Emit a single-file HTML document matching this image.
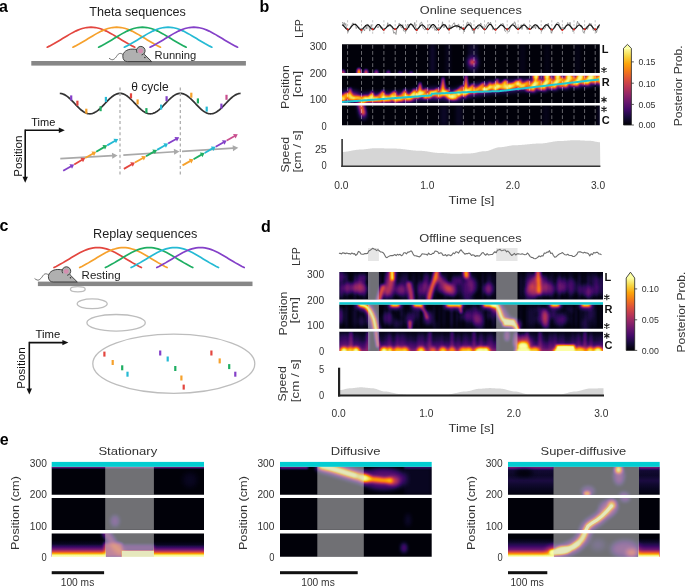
<!DOCTYPE html>
<html><head><meta charset="utf-8"><title>Theta and replay sequences</title>
<style>html,body{margin:0;padding:0;background:#fff;width:685px;height:586px;overflow:hidden}svg{display:block;will-change:transform}text{font-family:"Liberation Sans",sans-serif}</style>
</head><body>
<svg width="685" height="586" viewBox="0 0 685 586" font-family="Liberation Sans, sans-serif"><defs><linearGradient id="inf" x1="0" y1="1" x2="0" y2="0"><stop offset="0.0" stop-color="#000004"/><stop offset="0.1" stop-color="#160b39"/><stop offset="0.2" stop-color="#420a68"/><stop offset="0.3" stop-color="#6a176e"/><stop offset="0.4" stop-color="#932667"/><stop offset="0.5" stop-color="#bc3754"/><stop offset="0.6" stop-color="#dd513a"/><stop offset="0.7" stop-color="#f37819"/><stop offset="0.8" stop-color="#fca50a"/><stop offset="0.9" stop-color="#f6d746"/><stop offset="1.0" stop-color="#fcffa4"/></linearGradient><filter id="cmap" color-interpolation-filters="sRGB" x="0" y="0" width="1" height="1"><feComponentTransfer><feFuncR type="table" tableValues="0.001 0.014 0.042 0.082 0.129 0.183 0.238 0.291 0.342 0.391 0.441 0.491 0.541 0.591 0.640 0.689 0.736 0.781 0.822 0.861 0.894 0.923 0.947 0.965 0.978 0.986 0.988 0.984 0.975 0.961 0.948 0.955 0.988"/><feFuncG type="table" tableValues="0.000 0.011 0.028 0.043 0.047 0.040 0.037 0.046 0.062 0.081 0.099 0.117 0.135 0.153 0.171 0.192 0.216 0.243 0.275 0.312 0.353 0.399 0.449 0.502 0.558 0.616 0.675 0.736 0.798 0.859 0.917 0.966 0.998"/><feFuncB type="table" tableValues="0.014 0.072 0.141 0.215 0.291 0.355 0.396 0.419 0.429 0.433 0.432 0.426 0.415 0.400 0.381 0.358 0.330 0.300 0.266 0.231 0.194 0.155 0.115 0.074 0.035 0.026 0.065 0.130 0.206 0.298 0.411 0.540 0.645"/></feComponentTransfer></filter><clipPath id="c1"><rect x="342.00" y="44.20" width="257.80" height="28.90"/></clipPath><filter id="b2_00" color-interpolation-filters="sRGB" filterUnits="userSpaceOnUse" x="0" y="0" width="685" height="586"><feGaussianBlur stdDeviation="2.00"/></filter><filter id="b1_80" color-interpolation-filters="sRGB" filterUnits="userSpaceOnUse" x="0" y="0" width="685" height="586"><feGaussianBlur stdDeviation="1.80"/></filter><filter id="b2_50" color-interpolation-filters="sRGB" filterUnits="userSpaceOnUse" x="0" y="0" width="685" height="586"><feGaussianBlur stdDeviation="2.50"/></filter><filter id="b1_20" color-interpolation-filters="sRGB" filterUnits="userSpaceOnUse" x="0" y="0" width="685" height="586"><feGaussianBlur stdDeviation="1.20"/></filter><clipPath id="c2"><rect x="342.00" y="75.80" width="257.80" height="27.20"/></clipPath><filter id="b2_80" color-interpolation-filters="sRGB" filterUnits="userSpaceOnUse" x="0" y="0" width="685" height="586"><feGaussianBlur stdDeviation="2.80"/></filter><filter id="b1_60" color-interpolation-filters="sRGB" filterUnits="userSpaceOnUse" x="0" y="0" width="685" height="586"><feGaussianBlur stdDeviation="1.60"/></filter><filter id="b0_90" color-interpolation-filters="sRGB" filterUnits="userSpaceOnUse" x="0" y="0" width="685" height="586"><feGaussianBlur stdDeviation="0.90"/></filter><filter id="b1_00" color-interpolation-filters="sRGB" filterUnits="userSpaceOnUse" x="0" y="0" width="685" height="586"><feGaussianBlur stdDeviation="1.00"/></filter><filter id="b1_10" color-interpolation-filters="sRGB" filterUnits="userSpaceOnUse" x="0" y="0" width="685" height="586"><feGaussianBlur stdDeviation="1.10"/></filter><clipPath id="c3"><rect x="342.00" y="105.50" width="257.80" height="19.70"/></clipPath><filter id="b1_40" color-interpolation-filters="sRGB" filterUnits="userSpaceOnUse" x="0" y="0" width="685" height="586"><feGaussianBlur stdDeviation="1.40"/></filter><clipPath id="c4"><rect x="339.30" y="271.90" width="263.70" height="27.70"/></clipPath><filter id="b0_90x3_00" color-interpolation-filters="sRGB" filterUnits="userSpaceOnUse" x="0" y="0" width="685" height="586"><feGaussianBlur stdDeviation="0.90 3.00"/></filter><filter id="b2_20" color-interpolation-filters="sRGB" filterUnits="userSpaceOnUse" x="0" y="0" width="685" height="586"><feGaussianBlur stdDeviation="2.20"/></filter><filter id="b1_50" color-interpolation-filters="sRGB" filterUnits="userSpaceOnUse" x="0" y="0" width="685" height="586"><feGaussianBlur stdDeviation="1.50"/></filter><clipPath id="c5"><rect x="339.30" y="304.50" width="263.70" height="24.20"/></clipPath><clipPath id="c6"><rect x="339.30" y="331.80" width="263.70" height="19.20"/></clipPath><linearGradient id="gd3" x1="0" y1="0" x2="0" y2="1"><stop offset="0" stop-color="#fff" stop-opacity="0.0"/><stop offset="0.45" stop-color="#fff" stop-opacity="0.07"/><stop offset="0.8" stop-color="#fff" stop-opacity="0.22"/><stop offset="1" stop-color="#fff" stop-opacity="0.4"/></linearGradient><linearGradient id="gd3b" x1="0" y1="0" x2="0" y2="1"><stop offset="0" stop-color="#fff" stop-opacity="0.0"/><stop offset="0.45" stop-color="#fff" stop-opacity="0.07"/><stop offset="0.8" stop-color="#fff" stop-opacity="0.22"/><stop offset="1" stop-color="#fff" stop-opacity="0.4"/></linearGradient><linearGradient id="gd3c" x1="0" y1="0" x2="0" y2="1"><stop offset="0" stop-color="#fff" stop-opacity="0.0"/><stop offset="0.45" stop-color="#fff" stop-opacity="0.07"/><stop offset="0.8" stop-color="#fff" stop-opacity="0.22"/><stop offset="1" stop-color="#fff" stop-opacity="0.4"/></linearGradient><filter id="b0_80" color-interpolation-filters="sRGB" filterUnits="userSpaceOnUse" x="0" y="0" width="685" height="586"><feGaussianBlur stdDeviation="0.80"/></filter><filter id="b1_30" color-interpolation-filters="sRGB" filterUnits="userSpaceOnUse" x="0" y="0" width="685" height="586"><feGaussianBlur stdDeviation="1.30"/></filter><clipPath id="c7"><rect x="51.70" y="466.80" width="152.30" height="27.90"/></clipPath><filter id="b0_70" color-interpolation-filters="sRGB" filterUnits="userSpaceOnUse" x="0" y="0" width="685" height="586"><feGaussianBlur stdDeviation="0.70"/></filter><filter id="b3_00" color-interpolation-filters="sRGB" filterUnits="userSpaceOnUse" x="0" y="0" width="685" height="586"><feGaussianBlur stdDeviation="3.00"/></filter><clipPath id="c8"><rect x="51.70" y="498.00" width="152.30" height="31.90"/></clipPath><clipPath id="c9"><rect x="51.70" y="533.40" width="152.30" height="23.40"/></clipPath><linearGradient id="fe1a" x1="0" y1="0" x2="0" y2="1"><stop offset="0" stop-color="#fff" stop-opacity="0.0"/><stop offset="0.23" stop-color="#fff" stop-opacity="0.05"/><stop offset="0.4" stop-color="#fff" stop-opacity="0.18"/><stop offset="0.54" stop-color="#fff" stop-opacity="0.33"/><stop offset="0.66" stop-color="#fff" stop-opacity="0.55"/><stop offset="0.75" stop-color="#fff" stop-opacity="0.75"/><stop offset="0.83" stop-color="#fff" stop-opacity="0.92"/><stop offset="0.89" stop-color="#fff" stop-opacity="1.0"/><stop offset="1" stop-color="#fff" stop-opacity="1.0"/></linearGradient><linearGradient id="fe1b" x1="0" y1="0" x2="0" y2="1"><stop offset="0" stop-color="#fff" stop-opacity="0.0"/><stop offset="0.23" stop-color="#fff" stop-opacity="0.05"/><stop offset="0.4" stop-color="#fff" stop-opacity="0.18"/><stop offset="0.54" stop-color="#fff" stop-opacity="0.33"/><stop offset="0.66" stop-color="#fff" stop-opacity="0.55"/><stop offset="0.75" stop-color="#fff" stop-opacity="0.75"/><stop offset="0.83" stop-color="#fff" stop-opacity="0.92"/><stop offset="0.89" stop-color="#fff" stop-opacity="1.0"/><stop offset="1" stop-color="#fff" stop-opacity="1.0"/></linearGradient><filter id="b0_40" color-interpolation-filters="sRGB" filterUnits="userSpaceOnUse" x="0" y="0" width="685" height="586"><feGaussianBlur stdDeviation="0.40"/></filter><clipPath id="c10"><rect x="280.00" y="466.80" width="151.70" height="27.90"/></clipPath><filter id="b2_60" color-interpolation-filters="sRGB" filterUnits="userSpaceOnUse" x="0" y="0" width="685" height="586"><feGaussianBlur stdDeviation="2.60"/></filter><filter id="b1_70" color-interpolation-filters="sRGB" filterUnits="userSpaceOnUse" x="0" y="0" width="685" height="586"><feGaussianBlur stdDeviation="1.70"/></filter><clipPath id="c11"><rect x="280.00" y="498.00" width="151.70" height="31.90"/></clipPath><clipPath id="c12"><rect x="280.00" y="533.40" width="151.70" height="23.40"/></clipPath><clipPath id="c13"><rect x="508.00" y="466.80" width="151.70" height="27.90"/></clipPath><linearGradient id="ge3b1" x1="0" y1="0" x2="0" y2="1"><stop offset="0" stop-color="#fff" stop-opacity="0.14"/><stop offset="0.12" stop-color="#fff" stop-opacity="0.08"/><stop offset="0.3" stop-color="#fff" stop-opacity="0.06"/><stop offset="0.5" stop-color="#fff" stop-opacity="0.1"/><stop offset="0.7" stop-color="#fff" stop-opacity="0.06"/><stop offset="1" stop-color="#fff" stop-opacity="0.015"/></linearGradient><linearGradient id="ge3b1r" x1="0" y1="0" x2="0" y2="1"><stop offset="0" stop-color="#fff" stop-opacity="0.14"/><stop offset="0.12" stop-color="#fff" stop-opacity="0.08"/><stop offset="0.3" stop-color="#fff" stop-opacity="0.06"/><stop offset="0.5" stop-color="#fff" stop-opacity="0.1"/><stop offset="0.7" stop-color="#fff" stop-opacity="0.06"/><stop offset="1" stop-color="#fff" stop-opacity="0.015"/></linearGradient><clipPath id="c14"><rect x="508.00" y="498.00" width="151.70" height="31.90"/></clipPath><filter id="b0_60" color-interpolation-filters="sRGB" filterUnits="userSpaceOnUse" x="0" y="0" width="685" height="586"><feGaussianBlur stdDeviation="0.60"/></filter><clipPath id="c15"><rect x="508.00" y="533.40" width="151.70" height="23.40"/></clipPath><linearGradient id="fe3a" x1="0" y1="0" x2="0" y2="1"><stop offset="0" stop-color="#fff" stop-opacity="0.0"/><stop offset="0.2" stop-color="#fff" stop-opacity="0.06"/><stop offset="0.41" stop-color="#fff" stop-opacity="0.16"/><stop offset="0.59" stop-color="#fff" stop-opacity="0.3"/><stop offset="0.69" stop-color="#fff" stop-opacity="0.5"/><stop offset="0.79" stop-color="#fff" stop-opacity="0.72"/><stop offset="0.87" stop-color="#fff" stop-opacity="0.9"/><stop offset="0.92" stop-color="#fff" stop-opacity="1.0"/><stop offset="1" stop-color="#fff" stop-opacity="1.0"/></linearGradient><linearGradient id="fe3b" x1="0" y1="0" x2="0" y2="1"><stop offset="0" stop-color="#fff" stop-opacity="0.0"/><stop offset="0.2" stop-color="#fff" stop-opacity="0.06"/><stop offset="0.41" stop-color="#fff" stop-opacity="0.16"/><stop offset="0.59" stop-color="#fff" stop-opacity="0.3"/><stop offset="0.69" stop-color="#fff" stop-opacity="0.5"/><stop offset="0.79" stop-color="#fff" stop-opacity="0.72"/><stop offset="0.87" stop-color="#fff" stop-opacity="0.9"/><stop offset="0.92" stop-color="#fff" stop-opacity="1.0"/><stop offset="1" stop-color="#fff" stop-opacity="1.0"/></linearGradient></defs><rect width="685" height="586" fill="#fff"/><text x="-1.00" y="11.80" font-size="16" fill="#000" text-anchor="start" font-weight="bold" >a</text>
<text x="259.60" y="11.80" font-size="16" fill="#000" text-anchor="start" font-weight="bold" >b</text>
<text x="-0.50" y="231.40" font-size="16" fill="#000" text-anchor="start" font-weight="bold" >c</text>
<text x="261.10" y="231.60" font-size="16" fill="#000" text-anchor="start" font-weight="bold" >d</text>
<text x="-0.20" y="444.80" font-size="16" fill="#000" text-anchor="start" font-weight="bold" >e</text>
<text x="89.20" y="16.10" font-size="12.6" fill="#1e1e1e" text-anchor="start" >Theta sequences</text>
<polyline points="47.20,47.20 49.39,46.13 51.58,44.99 53.77,43.80 55.96,42.54 58.15,41.25 60.34,39.93 62.53,38.59 64.72,37.24 66.91,35.92 69.10,34.62 71.29,33.38 73.48,32.20 75.67,31.11 77.86,30.13 80.05,29.27 82.24,28.54 84.43,27.96 86.62,27.54 88.81,27.29 91.00,27.20 93.19,27.29 95.38,27.54 97.57,27.96 99.76,28.54 101.95,29.27 104.14,30.13 106.33,31.11 108.52,32.20 110.71,33.38 112.90,34.62 115.09,35.92 117.28,37.24 119.47,38.59 121.66,39.93 123.85,41.25 126.04,42.54 128.23,43.80 130.42,44.99 132.61,46.13 134.80,47.20" fill="none" stroke="#e3463f" stroke-width="1.7" stroke-linecap="round"/>
<polyline points="72.90,47.20 75.09,46.13 77.28,44.99 79.47,43.80 81.66,42.54 83.85,41.25 86.04,39.93 88.23,38.59 90.42,37.24 92.61,35.92 94.80,34.62 96.99,33.38 99.18,32.20 101.37,31.11 103.56,30.13 105.75,29.27 107.94,28.54 110.13,27.96 112.32,27.54 114.51,27.29 116.70,27.20 118.89,27.29 121.08,27.54 123.27,27.96 125.46,28.54 127.65,29.27 129.84,30.13 132.03,31.11 134.22,32.20 136.41,33.38 138.60,34.62 140.79,35.92 142.98,37.24 145.17,38.59 147.36,39.93 149.55,41.25 151.74,42.54 153.93,43.80 156.12,44.99 158.31,46.13 160.50,47.20" fill="none" stroke="#f6a12c" stroke-width="1.7" stroke-linecap="round"/>
<polyline points="98.60,47.20 100.79,46.13 102.98,44.99 105.17,43.80 107.36,42.54 109.55,41.25 111.74,39.93 113.93,38.59 116.12,37.24 118.31,35.92 120.50,34.62 122.69,33.38 124.88,32.20 127.07,31.11 129.26,30.13 131.45,29.27 133.64,28.54 135.83,27.96 138.02,27.54 140.21,27.29 142.40,27.20 144.59,27.29 146.78,27.54 148.97,27.96 151.16,28.54 153.35,29.27 155.54,30.13 157.73,31.11 159.92,32.20 162.11,33.38 164.30,34.62 166.49,35.92 168.68,37.24 170.87,38.59 173.06,39.93 175.25,41.25 177.44,42.54 179.63,43.80 181.82,44.99 184.01,46.13 186.20,47.20" fill="none" stroke="#1eae62" stroke-width="1.7" stroke-linecap="round"/>
<polyline points="124.30,47.20 126.49,46.13 128.68,44.99 130.87,43.80 133.06,42.54 135.25,41.25 137.44,39.93 139.63,38.59 141.82,37.24 144.01,35.92 146.20,34.62 148.39,33.38 150.58,32.20 152.77,31.11 154.96,30.13 157.15,29.27 159.34,28.54 161.53,27.96 163.72,27.54 165.91,27.29 168.10,27.20 170.29,27.29 172.48,27.54 174.67,27.96 176.86,28.54 179.05,29.27 181.24,30.13 183.43,31.11 185.62,32.20 187.81,33.38 190.00,34.62 192.19,35.92 194.38,37.24 196.57,38.59 198.76,39.93 200.95,41.25 203.14,42.54 205.33,43.80 207.52,44.99 209.71,46.13 211.90,47.20" fill="none" stroke="#25bad4" stroke-width="1.7" stroke-linecap="round"/>
<polyline points="150.00,47.20 152.19,46.13 154.38,44.99 156.57,43.80 158.76,42.54 160.95,41.25 163.14,39.93 165.33,38.59 167.52,37.24 169.71,35.92 171.90,34.62 174.09,33.38 176.28,32.20 178.47,31.11 180.66,30.13 182.85,29.27 185.04,28.54 187.23,27.96 189.42,27.54 191.61,27.29 193.80,27.20 195.99,27.29 198.18,27.54 200.37,27.96 202.56,28.54 204.75,29.27 206.94,30.13 209.13,31.11 211.32,32.20 213.51,33.38 215.70,34.62 217.89,35.92 220.08,37.24 222.27,38.59 224.46,39.93 226.65,41.25 228.84,42.54 231.03,43.80 233.22,44.99 235.41,46.13 237.60,47.20" fill="none" stroke="#8440c8" stroke-width="1.7" stroke-linecap="round"/>
<rect x="31.3" y="61.0" width="214.6" height="4.6" fill="#878787"/>
<g transform="translate(0.00 0.00)">
<path d="M122.9,54.4 C120.2,52.6 118.6,53.4 117.1,55.6 C115.6,57.9 113.6,60.3 111.5,59.6 C110.5,59.3 109.7,58.7 109.0,58.1" fill="none" stroke="#444" stroke-width="0.75"/>
<path d="M151.7,61.6 L144.6,54.6 C143.2,51.2 139.2,49.1 132.2,49.1 C126.6,49.1 122.8,52.4 122.8,56.2 C122.8,59.7 124.6,61.6 127.6,61.6 Z" fill="#b0b0b0" stroke="#333" stroke-width="0.9" stroke-linejoin="round"/>
<circle cx="140.8" cy="50.7" r="4.3" fill="#b0b0b0"/>
<path d="M137.08,52.85 A4.3,4.3 0 1 1 141.55,54.93" fill="none" stroke="#333" stroke-width="0.9"/>
<circle cx="140.6" cy="51.0" r="2.45" fill="#d48fb0"/>
<circle cx="144.9" cy="57.4" r="0.75" fill="#333"/>
</g>
<text x="154.60" y="58.60" font-size="11.2" fill="#1e1e1e" text-anchor="start" >Running</text>
<polyline points="59.80,93.40 60.80,93.48 61.81,93.67 62.81,93.96 63.82,94.37 64.82,94.87 65.83,95.47 66.83,96.15 67.84,96.92 68.84,97.76 69.84,98.66 70.85,99.62 71.85,100.62 72.86,101.66 73.86,102.71 74.87,103.78 75.87,104.84 76.88,105.89 77.88,106.91 78.88,107.90 79.89,108.84 80.89,109.73 81.90,110.54 82.90,111.28 83.91,111.94 84.91,112.51 85.92,112.98 86.92,113.35 87.92,113.61 88.93,113.76 89.93,113.80 90.94,113.73 91.94,113.55 92.95,113.26 93.95,112.86 94.96,112.37 95.96,111.78 96.96,111.10 97.97,110.33 98.97,109.50 99.98,108.60 100.98,107.64 101.99,106.64 102.99,105.61 104.00,104.56 105.00,103.49 106.00,102.43 107.01,101.38 108.01,100.35 109.02,99.36 110.02,98.42 111.03,97.53 112.03,96.71 113.04,95.96 114.04,95.30 115.04,94.73 116.05,94.25 117.05,93.88 118.06,93.61 119.06,93.45 120.07,93.40 121.07,93.46 122.08,93.64 123.08,93.92 124.08,94.31 125.09,94.80 126.09,95.38 127.10,96.06 128.10,96.81 129.11,97.64 130.11,98.54 131.12,99.49 132.12,100.49 133.12,101.52 134.13,102.57 135.13,103.64 136.14,104.70 137.14,105.75 138.15,106.78 139.15,107.77 140.16,108.72 141.16,109.61 142.16,110.44 143.17,111.19 144.17,111.86 145.18,112.44 146.18,112.92 147.19,113.30 148.19,113.58 149.20,113.74 150.20,113.80 151.20,113.74 152.21,113.58 153.21,113.30 154.22,112.92 155.22,112.44 156.23,111.86 157.23,111.19 158.24,110.44 159.24,109.61 160.24,108.72 161.25,107.77 162.25,106.78 163.26,105.75 164.26,104.70 165.27,103.64 166.27,102.57 167.28,101.52 168.28,100.49 169.28,99.49 170.29,98.54 171.29,97.64 172.30,96.81 173.30,96.06 174.31,95.38 175.31,94.80 176.32,94.31 177.32,93.92 178.32,93.64 179.33,93.46 180.33,93.40 181.34,93.45 182.34,93.61 183.35,93.88 184.35,94.25 185.36,94.73 186.36,95.30 187.36,95.96 188.37,96.71 189.37,97.53 190.38,98.42 191.38,99.36 192.39,100.35 193.39,101.38 194.40,102.43 195.40,103.49 196.40,104.56 197.41,105.61 198.41,106.64 199.42,107.64 200.42,108.60 201.43,109.50 202.43,110.33 203.44,111.10 204.44,111.78 205.44,112.37 206.45,112.86 207.45,113.26 208.46,113.55 209.46,113.73 210.47,113.80 211.47,113.76 212.48,113.61 213.48,113.35 214.48,112.98 215.49,112.51 216.49,111.94 217.50,111.28 218.50,110.54 219.51,109.73 220.51,108.84 221.52,107.90 222.52,106.91 223.52,105.89 224.53,104.84 225.53,103.78 226.54,102.71 227.54,101.66 228.55,100.62 229.55,99.62 230.56,98.66 231.56,97.76 232.56,96.92 233.57,96.15 234.57,95.47 235.58,94.87 236.58,94.37 237.59,93.96 238.59,93.67 239.60,93.48 240.60,93.40" fill="none" stroke="#333" stroke-width="1.7"/>
<text x="131.30" y="91.40" font-size="12" fill="#1e1e1e" text-anchor="start" >θ cycle</text>
<line x1="120.0" y1="87.5" x2="120.0" y2="174.5" stroke="#a8a8a8" stroke-width="1.2" stroke-dasharray="3 2.6"/>
<line x1="180.3" y1="87.5" x2="180.3" y2="174.5" stroke="#a8a8a8" stroke-width="1.2" stroke-dasharray="3 2.6"/>
<rect x="70.10" y="95.40" width="2.2" height="5" fill="#8440c8"/>
<rect x="76.30" y="100.70" width="2.2" height="5" fill="#e3463f"/>
<rect x="85.20" y="108.70" width="2.2" height="5" fill="#f6a12c"/>
<rect x="99.50" y="106.20" width="2.2" height="5" fill="#1eae62"/>
<rect x="104.80" y="96.90" width="2.2" height="5" fill="#25bad4"/>
<rect x="129.90" y="93.30" width="2.2" height="5" fill="#e3463f"/>
<rect x="136.50" y="99.40" width="2.2" height="5" fill="#f6a12c"/>
<rect x="145.30" y="108.10" width="2.2" height="5" fill="#1eae62"/>
<rect x="160.00" y="104.60" width="2.2" height="5" fill="#25bad4"/>
<rect x="165.50" y="96.20" width="2.2" height="5" fill="#8440c8"/>
<rect x="190.20" y="92.70" width="2.2" height="5" fill="#f6a12c"/>
<rect x="196.80" y="98.40" width="2.2" height="5" fill="#1eae62"/>
<rect x="205.60" y="106.60" width="2.2" height="5" fill="#25bad4"/>
<rect x="220.30" y="103.60" width="2.2" height="5" fill="#8440c8"/>
<rect x="225.40" y="94.80" width="2.2" height="5" fill="#c94f8f"/>
<line x1="60.30" y1="158.60" x2="112.61" y2="155.68" stroke="#a9a9a9" stroke-width="1.7"/>
<polygon points="117.60,155.40 112.28,158.70 111.94,152.71" fill="#a9a9a9"/>
<line x1="123.30" y1="155.20" x2="174.51" y2="151.74" stroke="#a9a9a9" stroke-width="1.7"/>
<polygon points="179.50,151.40 174.21,154.76 173.81,148.78" fill="#a9a9a9"/>
<line x1="182.00" y1="151.40" x2="233.31" y2="148.12" stroke="#a9a9a9" stroke-width="1.7"/>
<polygon points="238.30,147.80 233.00,151.14 232.62,145.16" fill="#a9a9a9"/>
<line x1="63.20" y1="170.80" x2="71.17" y2="166.19" stroke="#8440c8" stroke-width="1.8"/>
<polygon points="74.20,164.44 72.04,168.69 69.44,164.19" fill="#8440c8"/>
<line x1="74.20" y1="164.44" x2="82.17" y2="159.83" stroke="#e3463f" stroke-width="1.8"/>
<polygon points="85.20,158.08 83.04,162.33 80.44,157.83" fill="#e3463f"/>
<line x1="85.20" y1="158.08" x2="93.17" y2="153.47" stroke="#f6a12c" stroke-width="1.8"/>
<polygon points="96.20,151.72 94.04,155.97 91.44,151.47" fill="#f6a12c"/>
<line x1="96.20" y1="151.72" x2="104.17" y2="147.11" stroke="#1eae62" stroke-width="1.8"/>
<polygon points="107.20,145.36 105.04,149.61 102.44,145.11" fill="#1eae62"/>
<line x1="107.20" y1="145.36" x2="115.17" y2="140.75" stroke="#25bad4" stroke-width="1.8"/>
<polygon points="118.20,139.00 116.04,143.25 113.44,138.75" fill="#25bad4"/>
<line x1="123.90" y1="168.90" x2="131.92" y2="164.30" stroke="#e3463f" stroke-width="1.8"/>
<polygon points="134.96,162.56 132.78,166.80 130.20,162.29" fill="#e3463f"/>
<line x1="134.96" y1="162.56" x2="142.98" y2="157.96" stroke="#f6a12c" stroke-width="1.8"/>
<polygon points="146.02,156.22 143.84,160.46 141.26,155.95" fill="#f6a12c"/>
<line x1="146.02" y1="156.22" x2="154.04" y2="151.62" stroke="#1eae62" stroke-width="1.8"/>
<polygon points="157.08,149.88 154.90,154.12 152.32,149.61" fill="#1eae62"/>
<line x1="157.08" y1="149.88" x2="165.10" y2="145.28" stroke="#25bad4" stroke-width="1.8"/>
<polygon points="168.14,143.54 165.96,147.78 163.38,143.27" fill="#25bad4"/>
<line x1="168.14" y1="143.54" x2="176.16" y2="138.94" stroke="#8440c8" stroke-width="1.8"/>
<polygon points="179.20,137.20 177.02,141.44 174.44,136.93" fill="#8440c8"/>
<line x1="182.50" y1="165.40" x2="190.51" y2="160.88" stroke="#f6a12c" stroke-width="1.8"/>
<polygon points="193.56,159.16 191.35,163.39 188.80,158.86" fill="#f6a12c"/>
<line x1="193.56" y1="159.16" x2="201.57" y2="154.64" stroke="#1eae62" stroke-width="1.8"/>
<polygon points="204.62,152.92 202.41,157.15 199.86,152.62" fill="#1eae62"/>
<line x1="204.62" y1="152.92" x2="212.63" y2="148.40" stroke="#25bad4" stroke-width="1.8"/>
<polygon points="215.68,146.68 213.47,150.91 210.92,146.38" fill="#25bad4"/>
<line x1="215.68" y1="146.68" x2="223.69" y2="142.16" stroke="#8440c8" stroke-width="1.8"/>
<polygon points="226.74,140.44 224.53,144.67 221.98,140.14" fill="#8440c8"/>
<line x1="226.74" y1="140.44" x2="234.75" y2="135.92" stroke="#c94f8f" stroke-width="1.8"/>
<polygon points="237.80,134.20 235.59,138.43 233.04,133.90" fill="#c94f8f"/>
<line x1="25.2" y1="130.3" x2="60.8" y2="130.3" stroke="#111" stroke-width="1.6"/>
<polygon points="64.8,130.3 58.8,127.60000000000001 58.8,133.0" fill="#111"/>
<line x1="25.2" y1="129.5" x2="25.2" y2="178.8" stroke="#111" stroke-width="1.6"/>
<polygon points="25.2,182.8 22.5,176.8 27.9,176.8" fill="#111"/>
<text x="31.30" y="126.10" font-size="11" fill="#111" text-anchor="start" >Time</text>
<text x="21.80" y="156.10" font-size="11.6" fill="#111" text-anchor="middle" transform="rotate(-90 21.80 156.10)" >Position</text>
<text x="93.00" y="238.20" font-size="12.7" fill="#1e1e1e" text-anchor="start" >Replay sequences</text>
<polyline points="54.00,267.50 56.19,266.44 58.37,265.30 60.55,264.11 62.74,262.87 64.92,261.58 67.11,260.26 69.30,258.93 71.48,257.59 73.66,256.27 75.85,254.98 78.03,253.75 80.22,252.58 82.41,251.49 84.59,250.52 86.78,249.66 88.96,248.94 91.15,248.36 93.33,247.94 95.52,247.69 97.70,247.60 99.89,247.69 102.07,247.94 104.25,248.36 106.44,248.94 108.62,249.66 110.81,250.52 113.00,251.49 115.18,252.58 117.37,253.75 119.55,254.98 121.73,256.27 123.92,257.59 126.11,258.93 128.29,260.26 130.48,261.58 132.66,262.87 134.85,264.11 137.03,265.30 139.22,266.44 141.40,267.50" fill="none" stroke="#e3463f" stroke-width="1.7" stroke-linecap="round"/>
<polyline points="79.70,267.50 81.89,266.44 84.07,265.30 86.26,264.11 88.44,262.87 90.62,261.58 92.81,260.26 95.00,258.93 97.18,257.59 99.37,256.27 101.55,254.98 103.74,253.75 105.92,252.58 108.11,251.49 110.29,250.52 112.48,249.66 114.66,248.94 116.84,248.36 119.03,247.94 121.22,247.69 123.40,247.60 125.59,247.69 127.77,247.94 129.96,248.36 132.14,248.94 134.32,249.66 136.51,250.52 138.69,251.49 140.88,252.58 143.06,253.75 145.25,254.98 147.44,256.27 149.62,257.59 151.81,258.93 153.99,260.26 156.18,261.58 158.36,262.87 160.55,264.11 162.73,265.30 164.92,266.44 167.10,267.50" fill="none" stroke="#f6a12c" stroke-width="1.7" stroke-linecap="round"/>
<polyline points="105.40,267.50 107.59,266.44 109.77,265.30 111.96,264.11 114.14,262.87 116.33,261.58 118.51,260.26 120.70,258.93 122.88,257.59 125.06,256.27 127.25,254.98 129.44,253.75 131.62,252.58 133.81,251.49 135.99,250.52 138.18,249.66 140.36,248.94 142.55,248.36 144.73,247.94 146.92,247.69 149.10,247.60 151.29,247.69 153.47,247.94 155.66,248.36 157.84,248.94 160.03,249.66 162.21,250.52 164.40,251.49 166.58,252.58 168.77,253.75 170.95,254.98 173.13,256.27 175.32,257.59 177.50,258.93 179.69,260.26 181.88,261.58 184.06,262.87 186.25,264.11 188.43,265.30 190.62,266.44 192.80,267.50" fill="none" stroke="#1eae62" stroke-width="1.7" stroke-linecap="round"/>
<polyline points="131.10,267.50 133.28,266.44 135.47,265.30 137.66,264.11 139.84,262.87 142.03,261.58 144.21,260.26 146.39,258.93 148.58,257.59 150.76,256.27 152.95,254.98 155.13,253.75 157.32,252.58 159.50,251.49 161.69,250.52 163.88,249.66 166.06,248.94 168.25,248.36 170.43,247.94 172.62,247.69 174.80,247.60 176.99,247.69 179.17,247.94 181.35,248.36 183.54,248.94 185.72,249.66 187.91,250.52 190.09,251.49 192.28,252.58 194.47,253.75 196.65,254.98 198.83,256.27 201.02,257.59 203.20,258.93 205.39,260.26 207.57,261.58 209.76,262.87 211.94,264.11 214.13,265.30 216.31,266.44 218.50,267.50" fill="none" stroke="#25bad4" stroke-width="1.7" stroke-linecap="round"/>
<polyline points="156.80,267.50 158.99,266.44 161.17,265.30 163.36,264.11 165.54,262.87 167.73,261.58 169.91,260.26 172.09,258.93 174.28,257.59 176.47,256.27 178.65,254.98 180.84,253.75 183.02,252.58 185.21,251.49 187.39,250.52 189.58,249.66 191.76,248.94 193.95,248.36 196.13,247.94 198.31,247.69 200.50,247.60 202.69,247.69 204.87,247.94 207.06,248.36 209.24,248.94 211.43,249.66 213.61,250.52 215.80,251.49 217.98,252.58 220.17,253.75 222.35,254.98 224.54,256.27 226.72,257.59 228.91,258.93 231.09,260.26 233.28,261.58 235.46,262.87 237.65,264.11 239.83,265.30 242.02,266.44 244.20,267.50" fill="none" stroke="#8440c8" stroke-width="1.7" stroke-linecap="round"/>
<rect x="37.9" y="281.6" width="214.6" height="4.5" fill="#878787"/>
<g transform="translate(-74.40 220.40)">
<path d="M122.9,54.4 C120.2,52.6 118.6,53.4 117.1,55.6 C115.6,57.9 113.6,60.3 111.5,59.6 C110.5,59.3 109.7,58.7 109.0,58.1" fill="none" stroke="#444" stroke-width="0.75"/>
<path d="M151.7,61.6 L144.6,54.6 C143.2,51.2 139.2,49.1 132.2,49.1 C126.6,49.1 122.8,52.4 122.8,56.2 C122.8,59.7 124.6,61.6 127.6,61.6 Z" fill="#b0b0b0" stroke="#333" stroke-width="0.9" stroke-linejoin="round"/>
<circle cx="140.8" cy="50.7" r="4.3" fill="#b0b0b0"/>
<path d="M137.08,52.85 A4.3,4.3 0 1 1 141.55,54.93" fill="none" stroke="#333" stroke-width="0.9"/>
<circle cx="140.6" cy="51.0" r="2.45" fill="#d48fb0"/>
<circle cx="144.9" cy="57.4" r="0.75" fill="#333"/>
</g>
<text x="81.60" y="279.20" font-size="11.5" fill="#1e1e1e" text-anchor="start" >Resting</text>
<ellipse cx="77.8" cy="289.2" rx="7.4" ry="2.6" fill="none" stroke="#bdbdbd" stroke-width="1.3"/>
<ellipse cx="92.2" cy="303.8" rx="15.0" ry="4.9" fill="none" stroke="#bdbdbd" stroke-width="1.3"/>
<ellipse cx="116.1" cy="322.8" rx="29.2" ry="8.3" fill="none" stroke="#bdbdbd" stroke-width="1.3"/>
<ellipse cx="173.8" cy="363.7" rx="81.0" ry="29.6" fill="none" stroke="#bdbdbd" stroke-width="1.3"/>
<rect x="103.30" y="351.60" width="2.2" height="5" fill="#e3463f"/>
<rect x="111.60" y="360.00" width="2.2" height="5" fill="#f6a12c"/>
<rect x="121.10" y="365.30" width="2.2" height="5" fill="#1eae62"/>
<rect x="126.40" y="371.70" width="2.2" height="5" fill="#25bad4"/>
<rect x="159.10" y="350.50" width="2.2" height="5" fill="#8440c8"/>
<rect x="166.60" y="356.50" width="2.2" height="5" fill="#25bad4"/>
<rect x="174.20" y="366.00" width="2.2" height="5" fill="#1eae62"/>
<rect x="180.30" y="375.50" width="2.2" height="5" fill="#f6a12c"/>
<rect x="182.60" y="384.60" width="2.2" height="5" fill="#e3463f"/>
<rect x="210.30" y="350.50" width="2.2" height="5" fill="#e3463f"/>
<rect x="218.60" y="358.40" width="2.2" height="5" fill="#f6a12c"/>
<rect x="228.10" y="364.10" width="2.2" height="5" fill="#1eae62"/>
<rect x="234.20" y="371.70" width="2.2" height="5" fill="#8440c8"/>
<line x1="29.3" y1="342.6" x2="64.4" y2="342.6" stroke="#111" stroke-width="1.6"/>
<polygon points="68.4,342.6 62.400000000000006,339.90000000000003 62.400000000000006,345.3" fill="#111"/>
<line x1="29.3" y1="341.8" x2="29.3" y2="390.4" stroke="#111" stroke-width="1.6"/>
<polygon points="29.3,394.4 26.6,388.4 32.0,388.4" fill="#111"/>
<text x="35.60" y="337.70" font-size="11.3" fill="#111" text-anchor="start" >Time</text>
<text x="25.20" y="368.00" font-size="11.6" fill="#111" text-anchor="middle" transform="rotate(-90 25.20 368.00)" >Position</text>
<text x="419.80" y="13.70" font-size="11.6" fill="#333333" text-anchor="start" textLength="102" lengthAdjust="spacingAndGlyphs" >Online sequences</text>
<text x="303.30" y="28.40" font-size="10.6" fill="#333333" text-anchor="middle" textLength="18.5" lengthAdjust="spacingAndGlyphs" transform="rotate(-90 303.30 28.40)" >LFP</text>
<line x1="347.6" y1="20.2" x2="347.6" y2="34" stroke="#b8b8b8" stroke-width="0.8" stroke-dasharray="2.2 1.6"/>
<line x1="361.5" y1="20.2" x2="361.5" y2="34" stroke="#b8b8b8" stroke-width="0.8" stroke-dasharray="2.2 1.6"/>
<line x1="372.7" y1="20.2" x2="372.7" y2="34" stroke="#b8b8b8" stroke-width="0.8" stroke-dasharray="2.2 1.6"/>
<line x1="383.9" y1="20.2" x2="383.9" y2="34" stroke="#b8b8b8" stroke-width="0.8" stroke-dasharray="2.2 1.6"/>
<line x1="395.2" y1="20.2" x2="395.2" y2="34" stroke="#b8b8b8" stroke-width="0.8" stroke-dasharray="2.2 1.6"/>
<line x1="405.5" y1="20.2" x2="405.5" y2="34" stroke="#b8b8b8" stroke-width="0.8" stroke-dasharray="2.2 1.6"/>
<line x1="416.6" y1="20.2" x2="416.6" y2="34" stroke="#b8b8b8" stroke-width="0.8" stroke-dasharray="2.2 1.6"/>
<line x1="427.6" y1="20.2" x2="427.6" y2="34" stroke="#b8b8b8" stroke-width="0.8" stroke-dasharray="2.2 1.6"/>
<line x1="438.5" y1="20.2" x2="438.5" y2="34" stroke="#b8b8b8" stroke-width="0.8" stroke-dasharray="2.2 1.6"/>
<line x1="449.2" y1="20.2" x2="449.2" y2="34" stroke="#b8b8b8" stroke-width="0.8" stroke-dasharray="2.2 1.6"/>
<line x1="463.4" y1="20.2" x2="463.4" y2="34" stroke="#b8b8b8" stroke-width="0.8" stroke-dasharray="2.2 1.6"/>
<line x1="474.0" y1="20.2" x2="474.0" y2="34" stroke="#b8b8b8" stroke-width="0.8" stroke-dasharray="2.2 1.6"/>
<line x1="484.5" y1="20.2" x2="484.5" y2="34" stroke="#b8b8b8" stroke-width="0.8" stroke-dasharray="2.2 1.6"/>
<line x1="495.6" y1="20.2" x2="495.6" y2="34" stroke="#b8b8b8" stroke-width="0.8" stroke-dasharray="2.2 1.6"/>
<line x1="507.2" y1="20.2" x2="507.2" y2="34" stroke="#b8b8b8" stroke-width="0.8" stroke-dasharray="2.2 1.6"/>
<line x1="518.1" y1="20.2" x2="518.1" y2="34" stroke="#b8b8b8" stroke-width="0.8" stroke-dasharray="2.2 1.6"/>
<line x1="529.6" y1="20.2" x2="529.6" y2="34" stroke="#b8b8b8" stroke-width="0.8" stroke-dasharray="2.2 1.6"/>
<line x1="541.2" y1="20.2" x2="541.2" y2="34" stroke="#b8b8b8" stroke-width="0.8" stroke-dasharray="2.2 1.6"/>
<line x1="551.8" y1="20.2" x2="551.8" y2="34" stroke="#b8b8b8" stroke-width="0.8" stroke-dasharray="2.2 1.6"/>
<line x1="562.4" y1="20.2" x2="562.4" y2="34" stroke="#b8b8b8" stroke-width="0.8" stroke-dasharray="2.2 1.6"/>
<line x1="574.0" y1="20.2" x2="574.0" y2="34" stroke="#b8b8b8" stroke-width="0.8" stroke-dasharray="2.2 1.6"/>
<line x1="584.6" y1="20.2" x2="584.6" y2="34" stroke="#b8b8b8" stroke-width="0.8" stroke-dasharray="2.2 1.6"/>
<line x1="595.2" y1="20.2" x2="595.2" y2="34" stroke="#b8b8b8" stroke-width="0.8" stroke-dasharray="2.2 1.6"/>
<polyline points="342.00,22.90 342.75,22.30 343.50,25.59 344.25,22.57 345.00,25.40 345.75,23.52 346.50,28.65 347.25,29.49 348.00,32.33 348.75,29.81 349.50,29.75 350.25,28.01 351.00,25.88 351.75,25.89 352.50,23.09 353.25,23.08 354.00,24.77 354.75,24.55 355.50,23.93 356.25,28.51 357.00,27.48 357.75,26.49 358.50,27.87 359.25,27.79 360.00,28.31 360.75,28.75 361.50,32.93 362.25,30.40 363.00,29.43 363.75,29.30 364.50,30.99 365.25,27.50 366.00,24.98 366.75,29.06 367.50,24.37 368.25,24.49 369.00,26.80 369.75,31.13 370.50,28.08 371.25,24.55 372.00,28.38 372.75,28.54 373.50,28.28 374.25,29.05 375.00,28.32 375.75,27.45 376.50,25.29 377.25,26.92 378.00,27.96 378.75,26.16 379.50,25.00 380.25,27.12 381.00,28.32 381.75,26.88 382.50,27.66 383.25,30.76 384.00,29.55 384.75,28.56 385.50,28.59 386.25,27.67 387.00,26.79 387.75,22.70 388.50,26.87 389.25,26.07 390.00,24.05 390.75,26.67 391.50,27.19 392.25,27.47 393.00,29.82 393.75,33.29 394.50,32.10 395.25,33.40 396.00,34.57 396.75,29.14 397.50,26.92 398.25,27.53 399.00,23.17 399.75,23.48 400.50,26.39 401.25,27.65 402.00,28.00 402.75,24.58 403.50,30.83 404.25,30.98 405.00,31.55 405.75,31.86 406.50,27.48 407.25,25.32 408.00,23.96 408.75,27.98 409.50,24.58 410.25,23.78 411.00,23.45 411.75,25.06 412.50,26.26 413.25,27.14 414.00,25.68 414.75,22.44 415.50,26.99 416.25,29.29 417.00,31.03 417.75,29.47 418.50,27.37 419.25,27.58 420.00,23.82 420.75,22.64 421.50,22.03 422.25,24.05 423.00,28.36 423.75,28.54 424.50,29.83 425.25,29.43 426.00,29.73 426.75,28.86 427.50,28.73 428.25,25.12 429.00,24.87 429.75,23.94 430.50,26.47 431.25,26.75 432.00,27.35 432.75,28.27 433.50,25.76 434.25,27.43 435.00,30.35 435.75,29.01 436.50,30.87 437.25,29.98 438.00,27.26 438.75,28.65 439.50,27.33 440.25,27.73 441.00,26.28 441.75,26.37 442.50,21.80 443.25,26.76 444.00,27.87 444.75,25.85 445.50,24.56 446.25,26.19 447.00,28.68 447.75,29.82 448.50,30.50 449.25,25.59 450.00,25.13 450.75,28.96 451.50,28.57 452.25,25.15 453.00,24.48 453.75,22.97 454.50,22.85 455.25,26.44 456.00,25.66 456.75,27.68 457.50,27.14 458.25,24.19 459.00,24.58 459.75,30.07 460.50,27.51 461.25,26.06 462.00,29.49 462.75,29.10 463.50,29.87 464.25,31.93 465.00,26.69 465.75,27.43 466.50,24.58 467.25,22.23 468.00,21.98 468.75,25.35 469.50,24.99 470.25,22.47 471.00,23.26 471.75,28.82 472.50,30.93 473.25,28.44 474.00,33.37 474.75,30.14 475.50,26.87 476.25,26.63 477.00,27.82 477.75,29.08 478.50,28.43 479.25,25.67 480.00,24.50 480.75,22.93 481.50,25.22 482.25,25.92 483.00,28.13 483.75,26.71 484.50,27.32 485.25,27.19 486.00,25.74 486.75,24.42 487.50,23.41 488.25,22.10 489.00,24.21 489.75,24.29 490.50,22.10 491.25,24.80 492.00,26.29 492.75,29.71 493.50,29.01 494.25,29.12 495.00,28.51 495.75,28.86 496.50,29.65 497.25,29.03 498.00,27.50 498.75,27.73 499.50,26.60 500.25,26.10 501.00,23.75 501.75,24.82 502.50,23.54 503.25,23.69 504.00,26.01 504.75,30.93 505.50,31.59 506.25,30.37 507.00,29.51 507.75,31.07 508.50,31.97 509.25,31.52 510.00,28.29 510.75,27.00 511.50,25.19 512.25,24.38 513.00,23.19 513.75,24.10 514.50,21.74 515.25,22.92 516.00,26.81 516.75,26.58 517.50,29.18 518.25,26.86 519.00,27.22 519.75,28.30 520.50,25.79 521.25,24.73 522.00,29.40 522.75,25.77 523.50,24.04 524.25,23.65 525.00,24.86 525.75,25.76 526.50,28.42 527.25,29.75 528.00,28.63 528.75,28.39 529.50,26.42 530.25,25.39 531.00,25.73 531.75,27.91 532.50,27.27 533.25,27.69 534.00,27.77 534.75,25.75 535.50,28.85 536.25,25.98 537.00,24.96 537.75,25.39 538.50,28.84 539.25,28.64 540.00,27.80 540.75,29.54 541.50,31.52 542.25,29.77 543.00,28.14 543.75,29.08 544.50,28.75 545.25,28.14 546.00,24.76 546.75,25.22 547.50,25.97 548.25,23.15 549.00,27.74 549.75,28.48 550.50,28.46 551.25,33.12 552.00,31.85 552.75,29.11 553.50,28.32 554.25,28.29 555.00,28.00 555.75,25.85 556.50,23.28 557.25,22.56 558.00,22.48 558.75,22.71 559.50,25.38 560.25,26.48 561.00,28.44 561.75,28.02 562.50,27.18 563.25,27.86 564.00,27.41 564.75,29.24 565.50,25.93 566.25,25.89 567.00,25.14 567.75,22.51 568.50,25.01 569.25,25.52 570.00,22.32 570.75,26.14 571.50,29.00 572.25,27.71 573.00,31.71 573.75,30.86 574.50,27.76 575.25,29.02 576.00,27.43 576.75,24.45 577.50,21.23 578.25,23.63 579.00,22.96 579.75,25.26 580.50,26.26 581.25,25.69 582.00,25.99 582.75,30.60 583.50,32.87 584.25,32.31 585.00,30.07 585.75,27.49 586.50,26.79 587.25,29.41 588.00,27.98 588.75,25.69 589.50,22.95 590.25,24.31 591.00,23.53 591.75,25.30 592.50,27.97 593.25,30.27 594.00,30.06 594.75,29.23 595.50,30.33 596.25,32.78 597.00,30.73 597.75,25.97 598.50,28.23 599.25,26.49" fill="none" stroke="#8c8c8c" stroke-width="0.85" stroke-linejoin="round"/>
<polyline points="342.00,24.90 342.25,24.95 342.50,25.03 342.75,25.16 343.00,25.32 343.25,25.51 343.50,25.73 343.75,25.98 344.00,26.25 344.25,26.53 344.50,26.83 344.75,27.13 345.00,27.43 345.25,27.72 345.50,28.01 345.75,28.27 346.00,28.51 346.25,28.73 346.50,28.92 346.75,29.07 347.00,29.19 347.25,29.26 347.50,29.30 347.75,29.96 348.00,29.92 348.25,29.84 348.50,29.73 348.75,29.59 349.00,29.41 349.25,29.21 349.50,28.97 349.75,28.72 350.00,28.44 350.25,28.14 350.50,27.84 350.75,27.52 351.00,27.20 351.25,26.87 351.50,26.55 351.75,26.24 352.00,25.94 352.25,25.65 352.50,25.38 352.75,25.13 353.00,24.91 353.25,24.71 353.50,24.55 353.75,24.42 354.00,24.32 354.25,24.26 354.50,24.23 354.75,24.25 355.00,24.29 355.25,24.38 355.50,24.49 355.75,24.65 356.00,24.83 356.25,25.04 356.50,25.28 356.75,25.54 357.00,25.82 357.25,26.12 357.50,26.43 357.75,26.74 358.00,27.07 358.25,27.39 358.50,27.71 358.75,28.02 359.00,28.32 359.25,28.61 359.50,28.87 359.75,29.12 360.00,29.33 360.25,29.52 360.50,29.68 360.75,29.80 361.00,29.89 361.25,29.95 361.50,29.97 361.75,29.19 362.00,29.13 362.25,29.03 362.50,28.89 362.75,28.71 363.00,28.51 363.25,28.27 363.50,28.02 363.75,27.74 364.00,27.45 364.25,27.16 364.50,26.86 364.75,26.57 365.00,26.29 365.25,26.03 365.50,25.78 365.75,25.56 366.00,25.38 366.25,25.22 366.50,25.10 366.75,25.03 367.00,24.99 367.25,24.99 367.50,25.04 367.75,25.13 368.00,25.25 368.25,25.41 368.50,25.61 368.75,25.83 369.00,26.08 369.25,26.35 369.50,26.63 369.75,26.92 370.00,27.22 370.25,27.51 370.50,27.80 370.75,28.07 371.00,28.32 371.25,28.55 371.50,28.75 371.75,28.92 372.00,29.05 372.25,29.15 372.50,29.20 372.75,29.73 373.00,29.70 373.25,29.61 373.50,29.47 373.75,29.29 374.00,29.06 374.25,28.80 374.50,28.50 374.75,28.18 375.00,27.83 375.25,27.47 375.50,27.10 375.75,26.73 376.00,26.37 376.25,26.02 376.50,25.70 376.75,25.40 377.00,25.14 377.25,24.91 377.50,24.73 377.75,24.59 378.00,24.50 378.25,24.47 378.50,24.48 378.75,24.55 379.00,24.67 379.25,24.83 379.50,25.04 379.75,25.29 380.00,25.58 380.25,25.89 380.50,26.23 380.75,26.59 381.00,26.95 381.25,27.32 381.50,27.69 381.75,28.04 382.00,28.37 382.25,28.68 382.50,28.96 382.75,29.20 383.00,29.41 383.25,29.56 383.50,29.67 383.75,29.73 384.00,29.17 384.25,29.14 384.50,29.06 384.75,28.95 385.00,28.80 385.25,28.62 385.50,28.41 385.75,28.17 386.00,27.91 386.25,27.64 386.50,27.36 386.75,27.07 387.00,26.78 387.25,26.50 387.50,26.23 387.75,25.98 388.00,25.75 388.25,25.54 388.50,25.37 388.75,25.23 389.00,25.12 389.25,25.05 389.50,25.02 389.75,25.04 390.00,25.09 390.25,25.18 390.50,25.31 390.75,25.47 391.00,25.66 391.25,25.88 391.50,26.13 391.75,26.39 392.00,26.67 392.25,26.96 392.50,27.24 392.75,27.53 393.00,27.81 393.25,28.07 393.50,28.32 393.75,28.54 394.00,28.73 394.25,28.89 394.50,29.02 394.75,29.11 395.00,29.16 395.25,29.32 395.50,29.29 395.75,29.20 396.00,29.06 396.25,28.88 396.50,28.66 396.75,28.40 397.00,28.11 397.25,27.80 397.50,27.47 397.75,27.13 398.00,26.80 398.25,26.46 398.50,26.15 398.75,25.85 399.00,25.59 399.25,25.36 399.50,25.17 399.75,25.02 400.00,24.93 400.25,24.88 400.50,24.89 400.75,24.94 401.00,25.05 401.25,25.20 401.50,25.40 401.75,25.64 402.00,25.91 402.25,26.21 402.50,26.53 402.75,26.86 403.00,27.20 403.25,27.54 403.50,27.86 403.75,28.17 404.00,28.46 404.25,28.71 404.50,28.92 404.75,29.09 405.00,29.22 405.25,29.30 405.50,29.32 405.75,29.97 406.00,29.88 406.25,29.74 406.50,29.55 406.75,29.30 407.00,29.02 407.25,28.69 407.50,28.33 407.75,27.95 408.00,27.55 408.25,27.14 408.50,26.73 408.75,26.33 409.00,25.94 409.25,25.58 409.50,25.25 409.75,24.95 410.00,24.70 410.25,24.49 410.50,24.34 410.75,24.24 411.00,24.20 411.25,24.22 411.50,24.29 411.75,24.43 412.00,24.61 412.25,24.84 412.50,25.12 412.75,25.44 413.00,25.79 413.25,26.17 413.50,26.57 413.75,26.98 414.00,27.39 414.25,27.79 414.50,28.18 414.75,28.55 415.00,28.89 415.25,29.19 415.50,29.46 415.75,29.67 416.00,29.83 416.25,29.94 416.50,29.99 416.75,29.28 417.00,29.23 417.25,29.14 417.50,29.01 417.75,28.83 418.00,28.63 418.25,28.39 418.50,28.12 418.75,27.84 419.00,27.53 419.25,27.22 419.50,26.91 419.75,26.60 420.00,26.31 420.25,26.02 420.50,25.76 420.75,25.53 421.00,25.33 421.25,25.16 421.50,25.04 421.75,24.96 422.00,24.92 422.25,24.92 422.50,24.97 422.75,25.06 423.00,25.19 423.25,25.37 423.50,25.57 423.75,25.81 424.00,26.08 424.25,26.36 424.50,26.67 424.75,26.98 425.00,27.29 425.25,27.60 425.50,27.89 425.75,28.18 426.00,28.44 426.25,28.67 426.50,28.87 426.75,29.04 427.00,29.16 427.25,29.24 427.50,29.28 427.75,29.67 428.00,29.61 428.25,29.50 428.50,29.34 428.75,29.13 429.00,28.88 429.25,28.60 429.50,28.28 429.75,27.94 430.00,27.58 430.25,27.21 430.50,26.84 430.75,26.47 431.00,26.12 431.25,25.79 431.50,25.48 431.75,25.21 432.00,24.98 432.25,24.79 432.50,24.65 432.75,24.56 433.00,24.52 433.25,24.54 433.50,24.61 433.75,24.73 434.00,24.90 434.25,25.11 434.50,25.37 434.75,25.66 435.00,25.99 435.25,26.33 435.50,26.69 435.75,27.06 436.00,27.43 436.25,27.80 436.50,28.15 436.75,28.47 437.00,28.77 437.25,29.04 437.50,29.26 437.75,29.44 438.00,29.57 438.25,29.65 438.50,29.68 438.75,29.49 439.00,29.41 439.25,29.28 439.50,29.11 439.75,28.89 440.00,28.64 440.25,28.35 440.50,28.03 440.75,27.70 441.00,27.35 441.25,26.99 441.50,26.64 441.75,26.30 442.00,25.98 442.25,25.68 442.50,25.41 442.75,25.17 443.00,24.98 443.25,24.84 443.50,24.74 443.75,24.69 444.00,24.70 444.25,24.75 444.50,24.86 444.75,25.02 445.00,25.22 445.25,25.46 445.50,25.73 445.75,26.04 446.00,26.37 446.25,26.71 446.50,27.06 446.75,27.42 447.00,27.76 447.25,28.10 447.50,28.41 447.75,28.69 448.00,28.94 448.25,29.15 448.50,29.31 448.75,29.43 449.00,29.50 449.25,28.40 449.50,28.39 449.75,28.36 450.00,28.32 450.25,28.26 450.50,28.19 450.75,28.11 451.00,28.01 451.25,27.90 451.50,27.78 451.75,27.66 452.00,27.52 452.25,27.39 452.50,27.24 452.75,27.10 453.00,26.96 453.25,26.81 453.50,26.68 453.75,26.54 454.00,26.42 454.25,26.30 454.50,26.19 454.75,26.09 455.00,26.01 455.25,25.94 455.50,25.88 455.75,25.84 456.00,25.81 456.25,25.80 456.50,25.81 456.75,25.83 457.00,25.86 457.25,25.91 457.50,25.98 457.75,26.06 458.00,26.15 458.25,26.25 458.50,26.37 458.75,26.49 459.00,26.62 459.25,26.76 459.50,26.90 459.75,27.04 460.00,27.19 460.25,27.33 460.50,27.47 460.75,27.60 461.00,27.73 461.25,27.85 461.50,27.97 461.75,28.07 462.00,28.16 462.25,28.24 462.50,28.30 462.75,28.35 463.00,28.38 463.25,28.40 463.50,29.54 463.75,29.49 464.00,29.39 464.25,29.24 464.50,29.04 464.75,28.80 465.00,28.53 465.25,28.22 465.50,27.88 465.75,27.53 466.00,27.17 466.25,26.81 466.50,26.46 466.75,26.11 467.00,25.79 467.25,25.50 467.50,25.25 467.75,25.03 468.00,24.86 468.25,24.74 468.50,24.67 468.75,24.66 469.00,24.69 469.25,24.78 469.50,24.92 469.75,25.11 470.00,25.35 470.25,25.62 470.50,25.92 470.75,26.25 471.00,26.60 471.25,26.96 471.50,27.32 471.75,27.67 472.00,28.02 472.25,28.34 472.50,28.64 472.75,28.90 473.00,29.13 473.25,29.31 473.50,29.44 473.75,29.52 474.00,29.55 474.25,29.25 474.50,29.18 474.75,29.06 475.00,28.90 475.25,28.69 475.50,28.45 475.75,28.19 476.00,27.89 476.25,27.58 476.50,27.26 476.75,26.94 477.00,26.62 477.25,26.31 477.50,26.01 477.75,25.75 478.00,25.51 478.25,25.30 478.50,25.14 478.75,25.02 479.00,24.95 479.25,24.93 479.50,24.95 479.75,25.02 480.00,25.14 480.25,25.30 480.50,25.51 480.75,25.75 481.00,26.01 481.25,26.31 481.50,26.62 481.75,26.94 482.00,27.26 482.25,27.58 482.50,27.89 482.75,28.19 483.00,28.45 483.25,28.69 483.50,28.90 483.75,29.06 484.00,29.18 484.25,29.25 484.50,29.27 484.75,29.82 485.00,29.74 485.25,29.60 485.50,29.42 485.75,29.19 486.00,28.92 486.25,28.61 486.50,28.27 486.75,27.90 487.00,27.53 487.25,27.14 487.50,26.75 487.75,26.37 488.00,26.00 488.25,25.66 488.50,25.34 488.75,25.06 489.00,24.82 489.25,24.63 489.50,24.48 489.75,24.39 490.00,24.35 490.25,24.37 490.50,24.44 490.75,24.57 491.00,24.74 491.25,24.96 491.50,25.23 491.75,25.53 492.00,25.86 492.25,26.22 492.50,26.60 492.75,26.98 493.00,27.37 493.25,27.75 493.50,28.12 493.75,28.47 494.00,28.80 494.25,29.08 494.50,29.33 494.75,29.54 495.00,29.69 495.25,29.79 495.50,29.84 495.75,29.17 496.00,29.13 496.25,29.05 496.50,28.94 496.75,28.79 497.00,28.61 497.25,28.40 497.50,28.17 497.75,27.92 498.00,27.66 498.25,27.38 498.50,27.10 498.75,26.82 499.00,26.54 499.25,26.28 499.50,26.03 499.75,25.80 500.00,25.59 500.25,25.41 500.50,25.26 500.75,25.15 501.00,25.07 501.25,25.03 501.50,25.02 501.75,25.06 502.00,25.13 502.25,25.24 502.50,25.38 502.75,25.55 503.00,25.75 503.25,25.98 503.50,26.23 503.75,26.49 504.00,26.76 504.25,27.04 504.50,27.32 504.75,27.60 505.00,27.87 505.25,28.12 505.50,28.36 505.75,28.57 506.00,28.76 506.25,28.91 506.50,29.03 506.75,29.12 507.00,29.17 507.25,29.31 507.50,29.28 507.75,29.20 508.00,29.08 508.25,28.92 508.50,28.72 508.75,28.49 509.00,28.22 509.25,27.94 509.50,27.64 509.75,27.32 510.00,27.00 510.25,26.69 510.50,26.38 510.75,26.09 511.00,25.82 511.25,25.57 511.50,25.36 511.75,25.18 512.00,25.04 512.25,24.95 512.50,24.90 512.75,24.89 513.00,24.93 513.25,25.02 513.50,25.15 513.75,25.32 514.00,25.53 514.25,25.76 514.50,26.03 514.75,26.32 515.00,26.63 515.25,26.94 515.50,27.26 515.75,27.57 516.00,27.88 516.25,28.17 516.50,28.44 516.75,28.67 517.00,28.88 517.25,29.05 517.50,29.18 517.75,29.27 518.00,29.31 518.25,29.11 518.50,29.07 518.75,28.99 519.00,28.88 519.25,28.73 519.50,28.56 519.75,28.35 520.00,28.12 520.25,27.88 520.50,27.62 520.75,27.35 521.00,27.07 521.25,26.80 521.50,26.53 521.75,26.27 522.00,26.03 522.25,25.81 522.50,25.61 522.75,25.44 523.00,25.30 523.25,25.19 523.50,25.12 523.75,25.09 524.00,25.09 524.25,25.13 524.50,25.21 524.75,25.32 525.00,25.47 525.25,25.64 525.50,25.85 525.75,26.08 526.00,26.32 526.25,26.58 526.50,26.85 526.75,27.13 527.00,27.40 527.25,27.67 527.50,27.93 527.75,28.17 528.00,28.39 528.25,28.59 528.50,28.76 528.75,28.90 529.00,29.01 529.25,29.08 529.50,29.11 529.75,29.33 530.00,29.29 530.25,29.20 530.50,29.08 530.75,28.92 531.00,28.73 531.25,28.50 531.50,28.25 531.75,27.99 532.00,27.70 532.25,27.40 532.50,27.10 532.75,26.80 533.00,26.50 533.25,26.21 533.50,25.95 533.75,25.70 534.00,25.47 534.25,25.28 534.50,25.12 534.75,25.00 535.00,24.91 535.25,24.87 535.50,24.86 535.75,24.90 536.00,24.98 536.25,25.09 536.50,25.25 536.75,25.43 537.00,25.65 537.25,25.89 537.50,26.16 537.75,26.44 538.00,26.74 538.25,27.04 538.50,27.34 538.75,27.64 539.00,27.93 539.25,28.20 539.50,28.46 539.75,28.68 540.00,28.88 540.25,29.05 540.50,29.18 540.75,29.27 541.00,29.33 541.25,29.47 541.50,29.43 541.75,29.34 542.00,29.21 542.25,29.02 542.50,28.80 542.75,28.54 543.00,28.24 543.25,27.92 543.50,27.59 543.75,27.24 544.00,26.89 544.25,26.54 544.50,26.21 544.75,25.90 545.00,25.61 545.25,25.35 545.50,25.14 545.75,24.96 546.00,24.84 546.25,24.76 546.50,24.73 546.75,24.76 547.00,24.84 547.25,24.96 547.50,25.14 547.75,25.35 548.00,25.61 548.25,25.90 548.50,26.21 548.75,26.54 549.00,26.89 549.25,27.24 549.50,27.59 549.75,27.92 550.00,28.24 550.25,28.54 550.50,28.80 550.75,29.02 551.00,29.21 551.25,29.34 551.50,29.43 551.75,29.47 552.00,29.89 552.25,29.81 552.50,29.67 552.75,29.48 553.00,29.23 553.25,28.94 553.50,28.60 553.75,28.23 554.00,27.84 554.25,27.43 554.50,27.02 554.75,26.60 555.00,26.20 555.25,25.82 555.50,25.46 555.75,25.14 556.00,24.86 556.25,24.64 556.50,24.46 556.75,24.35 557.00,24.29 557.25,24.30 557.50,24.37 557.75,24.49 558.00,24.68 558.25,24.92 558.50,25.20 558.75,25.53 559.00,25.89 559.25,26.28 559.50,26.68 559.75,27.10 560.00,27.52 560.25,27.92 560.50,28.31 560.75,28.67 561.00,29.00 561.25,29.28 561.50,29.52 561.75,29.71 562.00,29.83 562.25,29.90 562.50,29.44 562.75,29.40 563.00,29.32 563.25,29.20 563.50,29.04 563.75,28.84 564.00,28.62 564.25,28.36 564.50,28.08 564.75,27.79 565.00,27.48 565.25,27.16 565.50,26.85 565.75,26.53 566.00,26.23 566.25,25.95 566.50,25.68 566.75,25.44 567.00,25.24 567.25,25.06 567.50,24.93 567.75,24.83 568.00,24.77 568.25,24.76 568.50,24.79 568.75,24.86 569.00,24.98 569.25,25.13 569.50,25.32 569.75,25.54 570.00,25.79 570.25,26.06 570.50,26.35 570.75,26.66 571.00,26.97 571.25,27.29 571.50,27.60 571.75,27.91 572.00,28.20 572.25,28.47 572.50,28.71 572.75,28.92 573.00,29.11 573.25,29.25 573.50,29.36 573.75,29.42 574.00,29.44 574.25,29.18 574.50,29.11 574.75,29.00 575.00,28.84 575.25,28.65 575.50,28.42 575.75,28.17 576.00,27.89 576.25,27.59 576.50,27.29 576.75,26.98 577.00,26.67 577.25,26.37 577.50,26.08 577.75,25.82 578.00,25.59 578.25,25.39 578.50,25.23 578.75,25.11 579.00,25.03 579.25,25.00 579.50,25.01 579.75,25.07 580.00,25.18 580.25,25.32 580.50,25.51 580.75,25.73 581.00,25.98 581.25,26.25 581.50,26.55 581.75,26.85 582.00,27.16 582.25,27.47 582.50,27.77 582.75,28.06 583.00,28.33 583.25,28.56 583.50,28.77 583.75,28.94 584.00,29.07 584.25,29.16 584.50,29.20 584.75,29.32 585.00,29.27 585.25,29.17 585.50,29.02 585.75,28.83 586.00,28.61 586.25,28.35 586.50,28.06 586.75,27.75 587.00,27.43 587.25,27.10 587.50,26.77 587.75,26.45 588.00,26.14 588.25,25.85 588.50,25.59 588.75,25.37 589.00,25.18 589.25,25.03 589.50,24.93 589.75,24.88 590.00,24.87 590.25,24.92 590.50,25.01 590.75,25.14 591.00,25.33 591.25,25.54 591.50,25.80 591.75,26.08 592.00,26.38 592.25,26.71 592.50,27.03 592.75,27.36 593.00,27.69 593.25,28.00 593.50,28.29 593.75,28.56 594.00,28.79 594.25,28.99 594.50,29.14 594.75,29.25 595.00,29.32 595.25,29.99 595.50,29.95 595.75,29.85 596.00,29.70 596.25,29.49 596.50,29.23 596.75,28.93 597.00,28.59 597.25,28.23 597.50,27.84 597.75,27.43 598.00,27.02 598.25,26.61 598.50,26.21 598.75,25.82 599.00,25.47 599.25,25.14 599.50,24.86 599.75,24.62" fill="none" stroke="#111" stroke-width="1.15"/>
<circle cx="347.6" cy="29.30" r="1.0" fill="#e8231c"/>
<circle cx="361.5" cy="29.97" r="1.0" fill="#e8231c"/>
<circle cx="372.7" cy="29.21" r="1.0" fill="#e8231c"/>
<circle cx="383.9" cy="29.73" r="1.0" fill="#e8231c"/>
<circle cx="395.2" cy="29.18" r="1.0" fill="#e8231c"/>
<circle cx="405.5" cy="29.32" r="1.0" fill="#e8231c"/>
<circle cx="416.6" cy="30.00" r="1.0" fill="#e8231c"/>
<circle cx="427.6" cy="29.29" r="1.0" fill="#e8231c"/>
<circle cx="438.5" cy="29.68" r="1.0" fill="#e8231c"/>
<circle cx="449.2" cy="29.51" r="1.0" fill="#e8231c"/>
<circle cx="463.4" cy="28.40" r="1.0" fill="#e8231c"/>
<circle cx="474.0" cy="29.55" r="1.0" fill="#e8231c"/>
<circle cx="484.5" cy="29.27" r="1.0" fill="#e8231c"/>
<circle cx="495.6" cy="29.85" r="1.0" fill="#e8231c"/>
<circle cx="507.2" cy="29.18" r="1.0" fill="#e8231c"/>
<circle cx="518.1" cy="29.31" r="1.0" fill="#e8231c"/>
<circle cx="529.6" cy="29.12" r="1.0" fill="#e8231c"/>
<circle cx="541.2" cy="29.34" r="1.0" fill="#e8231c"/>
<circle cx="551.8" cy="29.47" r="1.0" fill="#e8231c"/>
<circle cx="562.4" cy="29.91" r="1.0" fill="#e8231c"/>
<circle cx="574.0" cy="29.44" r="1.0" fill="#e8231c"/>
<circle cx="584.6" cy="29.20" r="1.0" fill="#e8231c"/>
<circle cx="595.2" cy="29.33" r="1.0" fill="#e8231c"/>
<g clip-path="url(#c1)"><g filter="url(#cmap)"><rect x="340.00" y="42.20" width="261.80" height="32.90" fill="rgb(4,4,4)"/>
<rect x="430.00" y="44.00" width="5.00" height="30.00" fill="#fff" fill-opacity="0.080" filter="url(#b2_00)"/>
<rect x="446.00" y="44.00" width="4.00" height="30.00" fill="#fff" fill-opacity="0.060" filter="url(#b2_00)"/>
<rect x="468.00" y="44.00" width="10.00" height="30.00" fill="#fff" fill-opacity="0.070" filter="url(#b2_00)"/>
<rect x="520.00" y="44.00" width="5.00" height="30.00" fill="#fff" fill-opacity="0.040" filter="url(#b2_00)"/>
<rect x="545.00" y="44.00" width="4.00" height="30.00" fill="#fff" fill-opacity="0.040" filter="url(#b2_00)"/>
<rect x="575.00" y="44.00" width="5.00" height="30.00" fill="#fff" fill-opacity="0.030" filter="url(#b2_00)"/>
<ellipse cx="472.40" cy="62.20" rx="2.60" ry="2.60" fill="#fff" fill-opacity="0.500" filter="url(#b1_80)"/>
<ellipse cx="472.40" cy="62.20" rx="6.00" ry="6.00" fill="#fff" fill-opacity="0.160" filter="url(#b2_50)"/>
<ellipse cx="343.00" cy="73.50" rx="1.80" ry="3.50" fill="#fff" fill-opacity="0.600" filter="url(#b1_20)"/>
<ellipse cx="359.00" cy="73.50" rx="1.80" ry="5.00" fill="#fff" fill-opacity="0.900" filter="url(#b1_20)"/>
<ellipse cx="366.00" cy="73.50" rx="1.80" ry="4.00" fill="#fff" fill-opacity="0.620" filter="url(#b1_20)"/>
<ellipse cx="376.30" cy="73.50" rx="1.80" ry="3.50" fill="#fff" fill-opacity="0.450" filter="url(#b1_20)"/>
<ellipse cx="388.30" cy="73.50" rx="1.80" ry="3.00" fill="#fff" fill-opacity="0.350" filter="url(#b1_20)"/>
<ellipse cx="400.20" cy="73.50" rx="1.80" ry="2.50" fill="#fff" fill-opacity="0.280" filter="url(#b1_20)"/>
<ellipse cx="411.00" cy="73.50" rx="1.80" ry="2.50" fill="#fff" fill-opacity="0.280" filter="url(#b1_20)"/>
</g></g>
<g clip-path="url(#c2)"><g filter="url(#cmap)"><rect x="340.00" y="73.80" width="261.80" height="31.20" fill="rgb(4,4,4)"/>
<polyline points="340.00,98.20 347.00,96.80 351.00,95.80 356.00,97.50 361.00,100.50 366.00,99.30 372.00,98.50 378.00,99.60 383.00,98.00 389.00,99.00 395.00,97.80 400.00,98.50 405.00,96.80 410.00,97.50 414.00,95.80 420.00,93.50 425.00,95.00 432.00,93.50 438.00,94.50 443.00,92.00 448.00,95.00 453.00,96.50 458.00,95.00 463.00,92.00 470.00,91.00 478.00,89.50 485.00,88.50 490.00,87.50 497.00,87.00 505.00,86.50 512.00,86.00 520.00,85.00 530.00,85.00 541.00,84.00 553.00,82.50 564.00,81.50 573.00,80.50 582.00,80.00 592.00,79.00 602.00,78.00" fill="none" stroke="#fff" stroke-opacity="0.200" stroke-width="12.00" stroke-linejoin="round" stroke-linecap="round" filter="url(#b2_80)"/>
<polyline points="340.00,98.20 347.00,96.80 351.00,95.80 356.00,97.50 361.00,100.50 366.00,99.30 372.00,98.50 378.00,99.60 383.00,98.00 389.00,99.00 395.00,97.80 400.00,98.50 405.00,96.80 410.00,97.50 414.00,95.80 420.00,93.50 425.00,95.00 432.00,93.50 438.00,94.50 443.00,92.00 448.00,95.00 453.00,96.50 458.00,95.00 463.00,92.00 470.00,91.00 478.00,89.50 485.00,88.50 490.00,87.50 497.00,87.00 505.00,86.50 512.00,86.00 520.00,85.00 530.00,85.00 541.00,84.00 553.00,82.50 564.00,81.50 573.00,80.50 582.00,80.00 592.00,79.00 602.00,78.00" fill="none" stroke="#fff" stroke-opacity="0.400" stroke-width="5.50" stroke-linejoin="round" stroke-linecap="round" filter="url(#b1_60)"/>
<ellipse cx="340.00" cy="97.19" rx="2.02" ry="1.92" fill="#fff" fill-opacity="0.800" filter="url(#b0_90)"/>
<ellipse cx="343.35" cy="99.00" rx="2.41" ry="2.27" fill="#fff" fill-opacity="0.900" filter="url(#b0_90)"/>
<ellipse cx="346.16" cy="96.18" rx="1.61" ry="2.90" fill="#fff" fill-opacity="0.450" filter="url(#b0_90)"/>
<ellipse cx="348.84" cy="95.27" rx="1.83" ry="1.85" fill="#fff" fill-opacity="0.500" filter="url(#b0_90)"/>
<ellipse cx="350.91" cy="97.32" rx="2.37" ry="2.11" fill="#fff" fill-opacity="0.800" filter="url(#b0_90)"/>
<ellipse cx="353.62" cy="98.06" rx="2.10" ry="1.67" fill="#fff" fill-opacity="1.000" filter="url(#b0_90)"/>
<ellipse cx="357.14" cy="97.79" rx="2.34" ry="1.63" fill="#fff" fill-opacity="0.600" filter="url(#b0_90)"/>
<ellipse cx="360.43" cy="98.72" rx="2.15" ry="2.01" fill="#fff" fill-opacity="0.600" filter="url(#b0_90)"/>
<ellipse cx="363.21" cy="99.03" rx="2.07" ry="2.73" fill="#fff" fill-opacity="0.450" filter="url(#b0_90)"/>
<ellipse cx="365.33" cy="98.55" rx="2.57" ry="2.84" fill="#fff" fill-opacity="0.800" filter="url(#b0_90)"/>
<ellipse cx="368.54" cy="99.75" rx="2.59" ry="1.61" fill="#fff" fill-opacity="1.000" filter="url(#b0_90)"/>
<ellipse cx="371.43" cy="98.75" rx="1.80" ry="2.88" fill="#fff" fill-opacity="0.900" filter="url(#b0_90)"/>
<ellipse cx="374.85" cy="98.75" rx="2.55" ry="2.25" fill="#fff" fill-opacity="0.750" filter="url(#b0_90)"/>
<ellipse cx="377.36" cy="99.44" rx="1.63" ry="1.64" fill="#fff" fill-opacity="0.750" filter="url(#b0_90)"/>
<ellipse cx="380.51" cy="100.28" rx="1.60" ry="1.61" fill="#fff" fill-opacity="0.900" filter="url(#b0_90)"/>
<ellipse cx="383.47" cy="98.14" rx="2.21" ry="2.33" fill="#fff" fill-opacity="1.000" filter="url(#b0_90)"/>
<ellipse cx="386.47" cy="97.62" rx="2.23" ry="2.75" fill="#fff" fill-opacity="0.600" filter="url(#b0_90)"/>
<ellipse cx="389.00" cy="99.79" rx="1.85" ry="1.75" fill="#fff" fill-opacity="0.750" filter="url(#b0_90)"/>
<ellipse cx="392.47" cy="97.33" rx="1.97" ry="2.53" fill="#fff" fill-opacity="0.900" filter="url(#b0_90)"/>
<ellipse cx="395.56" cy="99.07" rx="2.01" ry="2.98" fill="#fff" fill-opacity="0.600" filter="url(#b0_90)"/>
<ellipse cx="399.09" cy="98.64" rx="2.09" ry="2.06" fill="#fff" fill-opacity="0.750" filter="url(#b0_90)"/>
<ellipse cx="401.49" cy="99.12" rx="2.16" ry="2.16" fill="#fff" fill-opacity="0.600" filter="url(#b0_90)"/>
<ellipse cx="404.14" cy="97.82" rx="2.44" ry="1.58" fill="#fff" fill-opacity="0.450" filter="url(#b0_90)"/>
<ellipse cx="406.55" cy="96.39" rx="1.85" ry="2.09" fill="#fff" fill-opacity="0.900" filter="url(#b0_90)"/>
<ellipse cx="409.95" cy="97.93" rx="2.58" ry="2.62" fill="#fff" fill-opacity="0.600" filter="url(#b0_90)"/>
<ellipse cx="412.71" cy="95.60" rx="2.13" ry="2.59" fill="#fff" fill-opacity="0.800" filter="url(#b0_90)"/>
<ellipse cx="414.76" cy="94.65" rx="1.97" ry="1.73" fill="#fff" fill-opacity="0.500" filter="url(#b0_90)"/>
<ellipse cx="417.35" cy="95.33" rx="2.18" ry="2.77" fill="#fff" fill-opacity="0.900" filter="url(#b0_90)"/>
<ellipse cx="419.84" cy="93.66" rx="1.74" ry="2.58" fill="#fff" fill-opacity="0.750" filter="url(#b0_90)"/>
<ellipse cx="422.45" cy="93.11" rx="1.62" ry="2.39" fill="#fff" fill-opacity="0.800" filter="url(#b0_90)"/>
<ellipse cx="425.48" cy="95.95" rx="2.02" ry="2.52" fill="#fff" fill-opacity="1.000" filter="url(#b0_90)"/>
<ellipse cx="428.69" cy="95.15" rx="1.73" ry="1.64" fill="#fff" fill-opacity="0.600" filter="url(#b0_90)"/>
<ellipse cx="430.84" cy="92.33" rx="2.39" ry="1.61" fill="#fff" fill-opacity="0.900" filter="url(#b0_90)"/>
<ellipse cx="433.03" cy="93.02" rx="2.14" ry="1.99" fill="#fff" fill-opacity="0.750" filter="url(#b0_90)"/>
<ellipse cx="435.82" cy="93.30" rx="1.78" ry="2.79" fill="#fff" fill-opacity="0.600" filter="url(#b0_90)"/>
<ellipse cx="438.14" cy="95.16" rx="1.65" ry="2.57" fill="#fff" fill-opacity="0.500" filter="url(#b0_90)"/>
<ellipse cx="441.54" cy="93.55" rx="2.53" ry="2.08" fill="#fff" fill-opacity="0.500" filter="url(#b0_90)"/>
<ellipse cx="444.92" cy="92.85" rx="1.78" ry="2.57" fill="#fff" fill-opacity="1.000" filter="url(#b0_90)"/>
<ellipse cx="447.33" cy="95.19" rx="2.35" ry="1.87" fill="#fff" fill-opacity="0.750" filter="url(#b0_90)"/>
<ellipse cx="449.58" cy="96.15" rx="2.42" ry="2.70" fill="#fff" fill-opacity="0.750" filter="url(#b0_90)"/>
<ellipse cx="452.36" cy="96.53" rx="2.20" ry="2.26" fill="#fff" fill-opacity="1.000" filter="url(#b0_90)"/>
<ellipse cx="455.54" cy="97.14" rx="1.89" ry="2.44" fill="#fff" fill-opacity="0.750" filter="url(#b0_90)"/>
<ellipse cx="458.75" cy="93.62" rx="2.41" ry="2.97" fill="#fff" fill-opacity="1.000" filter="url(#b0_90)"/>
<ellipse cx="461.32" cy="92.46" rx="1.71" ry="1.61" fill="#fff" fill-opacity="0.900" filter="url(#b0_90)"/>
<ellipse cx="463.43" cy="92.88" rx="2.58" ry="2.26" fill="#fff" fill-opacity="0.500" filter="url(#b0_90)"/>
<ellipse cx="466.95" cy="91.98" rx="2.04" ry="2.28" fill="#fff" fill-opacity="0.800" filter="url(#b0_90)"/>
<ellipse cx="469.57" cy="90.77" rx="1.62" ry="2.49" fill="#fff" fill-opacity="0.600" filter="url(#b0_90)"/>
<ellipse cx="471.64" cy="90.02" rx="2.42" ry="2.59" fill="#fff" fill-opacity="0.500" filter="url(#b0_90)"/>
<ellipse cx="474.37" cy="89.39" rx="1.93" ry="1.84" fill="#fff" fill-opacity="0.450" filter="url(#b0_90)"/>
<ellipse cx="477.83" cy="89.99" rx="2.08" ry="2.24" fill="#fff" fill-opacity="0.225" filter="url(#b0_90)"/>
<ellipse cx="480.98" cy="90.25" rx="2.05" ry="2.45" fill="#fff" fill-opacity="0.250" filter="url(#b0_90)"/>
<ellipse cx="483.97" cy="89.34" rx="2.30" ry="2.52" fill="#fff" fill-opacity="1.000" filter="url(#b0_90)"/>
<ellipse cx="486.36" cy="89.48" rx="1.91" ry="2.07" fill="#fff" fill-opacity="0.900" filter="url(#b0_90)"/>
<ellipse cx="489.20" cy="88.29" rx="1.76" ry="1.80" fill="#fff" fill-opacity="0.450" filter="url(#b0_90)"/>
<ellipse cx="492.60" cy="87.96" rx="2.15" ry="1.62" fill="#fff" fill-opacity="0.450" filter="url(#b0_90)"/>
<ellipse cx="495.09" cy="88.47" rx="2.34" ry="2.97" fill="#fff" fill-opacity="0.800" filter="url(#b0_90)"/>
<ellipse cx="498.67" cy="85.89" rx="1.81" ry="2.00" fill="#fff" fill-opacity="0.900" filter="url(#b0_90)"/>
<ellipse cx="501.70" cy="87.25" rx="1.68" ry="1.54" fill="#fff" fill-opacity="0.750" filter="url(#b0_90)"/>
<ellipse cx="504.52" cy="87.86" rx="2.50" ry="2.26" fill="#fff" fill-opacity="0.600" filter="url(#b0_90)"/>
<ellipse cx="506.90" cy="86.93" rx="1.98" ry="2.91" fill="#fff" fill-opacity="0.800" filter="url(#b0_90)"/>
<ellipse cx="509.65" cy="85.98" rx="2.27" ry="2.50" fill="#fff" fill-opacity="1.000" filter="url(#b0_90)"/>
<ellipse cx="512.72" cy="86.28" rx="1.79" ry="2.94" fill="#fff" fill-opacity="0.450" filter="url(#b0_90)"/>
<ellipse cx="514.77" cy="86.58" rx="2.30" ry="1.53" fill="#fff" fill-opacity="0.500" filter="url(#b0_90)"/>
<ellipse cx="517.58" cy="83.92" rx="2.04" ry="2.17" fill="#fff" fill-opacity="1.000" filter="url(#b0_90)"/>
<ellipse cx="521.16" cy="86.32" rx="1.69" ry="1.96" fill="#fff" fill-opacity="0.600" filter="url(#b0_90)"/>
<ellipse cx="523.89" cy="86.18" rx="1.77" ry="2.36" fill="#fff" fill-opacity="0.750" filter="url(#b0_90)"/>
<ellipse cx="527.35" cy="84.80" rx="1.65" ry="1.78" fill="#fff" fill-opacity="0.500" filter="url(#b0_90)"/>
<ellipse cx="529.99" cy="85.16" rx="2.17" ry="2.74" fill="#fff" fill-opacity="0.270" filter="url(#b0_90)"/>
<ellipse cx="532.93" cy="84.64" rx="1.62" ry="2.37" fill="#fff" fill-opacity="0.225" filter="url(#b0_90)"/>
<ellipse cx="535.06" cy="85.74" rx="2.59" ry="2.49" fill="#fff" fill-opacity="0.360" filter="url(#b0_90)"/>
<ellipse cx="537.30" cy="84.33" rx="2.21" ry="2.43" fill="#fff" fill-opacity="0.450" filter="url(#b0_90)"/>
<ellipse cx="540.05" cy="84.99" rx="1.75" ry="1.73" fill="#fff" fill-opacity="0.338" filter="url(#b0_90)"/>
<ellipse cx="542.51" cy="84.23" rx="2.49" ry="1.61" fill="#fff" fill-opacity="0.203" filter="url(#b0_90)"/>
<ellipse cx="544.62" cy="83.58" rx="2.43" ry="2.04" fill="#fff" fill-opacity="0.360" filter="url(#b0_90)"/>
<ellipse cx="547.19" cy="82.21" rx="2.10" ry="2.52" fill="#fff" fill-opacity="0.450" filter="url(#b0_90)"/>
<ellipse cx="550.23" cy="81.82" rx="1.83" ry="2.04" fill="#fff" fill-opacity="0.203" filter="url(#b0_90)"/>
<ellipse cx="552.63" cy="81.64" rx="2.33" ry="2.29" fill="#fff" fill-opacity="0.270" filter="url(#b0_90)"/>
<ellipse cx="554.76" cy="83.32" rx="2.10" ry="2.59" fill="#fff" fill-opacity="0.270" filter="url(#b0_90)"/>
<ellipse cx="557.73" cy="82.47" rx="1.77" ry="2.56" fill="#fff" fill-opacity="0.360" filter="url(#b0_90)"/>
<ellipse cx="560.52" cy="80.80" rx="2.04" ry="1.53" fill="#fff" fill-opacity="0.225" filter="url(#b0_90)"/>
<ellipse cx="562.97" cy="80.26" rx="2.38" ry="2.85" fill="#fff" fill-opacity="0.360" filter="url(#b0_90)"/>
<ellipse cx="565.82" cy="82.52" rx="1.99" ry="2.91" fill="#fff" fill-opacity="0.338" filter="url(#b0_90)"/>
<ellipse cx="569.32" cy="81.79" rx="2.51" ry="1.76" fill="#fff" fill-opacity="0.203" filter="url(#b0_90)"/>
<ellipse cx="571.74" cy="79.21" rx="2.25" ry="1.74" fill="#fff" fill-opacity="0.405" filter="url(#b0_90)"/>
<ellipse cx="575.23" cy="80.48" rx="1.81" ry="3.00" fill="#fff" fill-opacity="0.405" filter="url(#b0_90)"/>
<ellipse cx="578.12" cy="81.04" rx="2.37" ry="2.93" fill="#fff" fill-opacity="0.360" filter="url(#b0_90)"/>
<ellipse cx="581.57" cy="79.24" rx="1.78" ry="2.31" fill="#fff" fill-opacity="0.450" filter="url(#b0_90)"/>
<ellipse cx="584.88" cy="79.30" rx="2.59" ry="2.87" fill="#fff" fill-opacity="0.270" filter="url(#b0_90)"/>
<ellipse cx="588.41" cy="80.12" rx="2.34" ry="2.61" fill="#fff" fill-opacity="0.360" filter="url(#b0_90)"/>
<ellipse cx="590.75" cy="79.22" rx="2.50" ry="2.27" fill="#fff" fill-opacity="0.338" filter="url(#b0_90)"/>
<ellipse cx="592.94" cy="78.13" rx="2.21" ry="2.20" fill="#fff" fill-opacity="0.405" filter="url(#b0_90)"/>
<ellipse cx="595.73" cy="77.70" rx="1.85" ry="2.15" fill="#fff" fill-opacity="0.270" filter="url(#b0_90)"/>
<ellipse cx="598.34" cy="78.33" rx="1.64" ry="2.79" fill="#fff" fill-opacity="0.338" filter="url(#b0_90)"/>
<ellipse cx="600.67" cy="79.00" rx="2.19" ry="2.70" fill="#fff" fill-opacity="0.338" filter="url(#b0_90)"/>
<polyline points="337.00,101.14 346.60,94.03" fill="none" stroke="#fff" stroke-opacity="0.557" stroke-width="2.60" stroke-linejoin="round" stroke-linecap="round" filter="url(#b0_90)"/>
<polyline points="348.60,99.40 360.50,97.24" fill="none" stroke="#fff" stroke-opacity="0.586" stroke-width="2.60" stroke-linejoin="round" stroke-linecap="round" filter="url(#b0_90)"/>
<polyline points="362.50,102.62 371.70,95.18" fill="none" stroke="#fff" stroke-opacity="0.817" stroke-width="2.60" stroke-linejoin="round" stroke-linecap="round" filter="url(#b0_90)"/>
<polyline points="373.70,100.66 382.90,93.13" fill="none" stroke="#fff" stroke-opacity="0.646" stroke-width="2.60" stroke-linejoin="round" stroke-linecap="round" filter="url(#b0_90)"/>
<polyline points="384.90,100.72 394.20,93.13" fill="none" stroke="#fff" stroke-opacity="0.756" stroke-width="2.60" stroke-linejoin="round" stroke-linecap="round" filter="url(#b0_90)"/>
<polyline points="396.20,100.85 404.50,92.70" fill="none" stroke="#fff" stroke-opacity="0.565" stroke-width="2.60" stroke-linejoin="round" stroke-linecap="round" filter="url(#b0_90)"/>
<polyline points="406.50,99.83 415.60,91.21" fill="none" stroke="#fff" stroke-opacity="0.643" stroke-width="2.60" stroke-linejoin="round" stroke-linecap="round" filter="url(#b0_90)"/>
<polyline points="417.60,96.21 426.60,90.03" fill="none" stroke="#fff" stroke-opacity="0.725" stroke-width="2.60" stroke-linejoin="round" stroke-linecap="round" filter="url(#b0_90)"/>
<polyline points="428.60,97.14 437.50,89.98" fill="none" stroke="#fff" stroke-opacity="0.838" stroke-width="2.60" stroke-linejoin="round" stroke-linecap="round" filter="url(#b0_90)"/>
<polyline points="439.50,96.10 448.20,90.81" fill="none" stroke="#fff" stroke-opacity="0.734" stroke-width="2.60" stroke-linejoin="round" stroke-linecap="round" filter="url(#b0_90)"/>
<polyline points="450.20,97.55 462.40,87.47" fill="none" stroke="#fff" stroke-opacity="0.644" stroke-width="2.60" stroke-linejoin="round" stroke-linecap="round" filter="url(#b0_90)"/>
<polyline points="464.40,94.47 473.00,85.55" fill="none" stroke="#fff" stroke-opacity="0.745" stroke-width="2.60" stroke-linejoin="round" stroke-linecap="round" filter="url(#b0_90)"/>
<polyline points="475.00,91.78 483.50,84.15" fill="none" stroke="#fff" stroke-opacity="0.750" stroke-width="2.60" stroke-linejoin="round" stroke-linecap="round" filter="url(#b0_90)"/>
<polyline points="485.50,90.18 494.60,84.55" fill="none" stroke="#fff" stroke-opacity="0.710" stroke-width="2.60" stroke-linejoin="round" stroke-linecap="round" filter="url(#b0_90)"/>
<polyline points="496.60,88.58 506.20,81.60" fill="none" stroke="#fff" stroke-opacity="0.702" stroke-width="2.60" stroke-linejoin="round" stroke-linecap="round" filter="url(#b0_90)"/>
<polyline points="508.20,88.55 517.10,81.84" fill="none" stroke="#fff" stroke-opacity="0.748" stroke-width="2.60" stroke-linejoin="round" stroke-linecap="round" filter="url(#b0_90)"/>
<polyline points="519.10,87.99 528.60,81.73" fill="none" stroke="#fff" stroke-opacity="0.662" stroke-width="2.60" stroke-linejoin="round" stroke-linecap="round" filter="url(#b0_90)"/>
<polyline points="530.60,87.32 540.20,80.83" fill="none" stroke="#fff" stroke-opacity="0.729" stroke-width="2.60" stroke-linejoin="round" stroke-linecap="round" filter="url(#b0_90)"/>
<polyline points="542.20,86.16 550.80,79.19" fill="none" stroke="#fff" stroke-opacity="0.752" stroke-width="2.60" stroke-linejoin="round" stroke-linecap="round" filter="url(#b0_90)"/>
<polyline points="552.80,84.82 561.40,79.02" fill="none" stroke="#fff" stroke-opacity="0.849" stroke-width="2.60" stroke-linejoin="round" stroke-linecap="round" filter="url(#b0_90)"/>
<polyline points="563.40,83.59 573.00,76.92" fill="none" stroke="#fff" stroke-opacity="0.671" stroke-width="2.60" stroke-linejoin="round" stroke-linecap="round" filter="url(#b0_90)"/>
<polyline points="575.00,83.28 583.60,74.96" fill="none" stroke="#fff" stroke-opacity="0.704" stroke-width="2.60" stroke-linejoin="round" stroke-linecap="round" filter="url(#b0_90)"/>
<polyline points="585.60,81.74 594.20,76.04" fill="none" stroke="#fff" stroke-opacity="0.819" stroke-width="2.60" stroke-linejoin="round" stroke-linecap="round" filter="url(#b0_90)"/>
<polyline points="596.20,80.34 604.80,74.13" fill="none" stroke="#fff" stroke-opacity="0.655" stroke-width="2.60" stroke-linejoin="round" stroke-linecap="round" filter="url(#b0_90)"/>
<polygon points="347.40,97.05 349.70,88.00 350.50,88.00 352.20,97.05" fill="#fff" fill-opacity="0.720" filter="url(#b1_00)"/>
<polygon points="369.40,99.50 371.70,91.00 372.50,91.00 374.20,99.50" fill="#fff" fill-opacity="0.630" filter="url(#b1_00)"/>
<polygon points="380.40,99.00 382.70,90.00 383.50,90.00 385.20,99.00" fill="#fff" fill-opacity="0.630" filter="url(#b1_00)"/>
<polygon points="392.40,98.80 394.70,91.00 395.50,91.00 397.20,98.80" fill="#fff" fill-opacity="0.630" filter="url(#b1_00)"/>
<polygon points="402.40,97.80 404.70,89.00 405.50,89.00 407.20,97.80" fill="#fff" fill-opacity="0.675" filter="url(#b1_00)"/>
<polygon points="411.40,96.80 413.70,89.00 414.50,89.00 416.20,96.80" fill="#fff" fill-opacity="0.630" filter="url(#b1_00)"/>
<polygon points="417.40,94.50 419.70,82.50 420.50,82.50 422.20,94.50" fill="#fff" fill-opacity="0.810" filter="url(#b1_00)"/>
<polygon points="440.40,93.00 442.70,77.50 443.50,77.50 445.20,93.00" fill="#fff" fill-opacity="0.810" filter="url(#b1_00)"/>
<polygon points="452.40,96.90 454.70,90.00 455.50,90.00 457.20,96.90" fill="#fff" fill-opacity="0.540" filter="url(#b1_00)"/>
<polygon points="463.40,92.57 465.70,75.00 466.50,75.00 468.20,92.57" fill="#fff" fill-opacity="0.855" filter="url(#b1_00)"/>
<polygon points="487.40,88.50 489.70,82.00 490.50,82.00 492.20,88.50" fill="#fff" fill-opacity="0.720" filter="url(#b1_00)"/>
<polygon points="494.40,88.00 496.70,79.00 497.50,79.00 499.20,88.00" fill="#fff" fill-opacity="0.765" filter="url(#b1_00)"/>
<polygon points="502.40,87.50 504.70,80.00 505.50,80.00 507.20,87.50" fill="#fff" fill-opacity="0.720" filter="url(#b1_00)"/>
<polygon points="517.40,86.00 519.70,79.00 520.50,79.00 522.20,86.00" fill="#fff" fill-opacity="0.765" filter="url(#b1_00)"/>
<polygon points="358.50,100.50 361.00,104.00 363.50,100.50" fill="#fff" fill-opacity="0.800" filter="url(#b1_00)"/>
<polygon points="450.50,96.50 453.00,100.50 455.50,96.50" fill="#fff" fill-opacity="0.600" filter="url(#b1_00)"/>
<polygon points="462.50,91.71 465.00,99.00 467.50,91.71" fill="#fff" fill-opacity="0.500" filter="url(#b1_00)"/>
<polygon points="392.50,97.80 395.00,101.00 397.50,97.80" fill="#fff" fill-opacity="0.500" filter="url(#b1_00)"/>
<polygon points="375.50,99.60 378.00,102.00 380.50,99.60" fill="#fff" fill-opacity="0.500" filter="url(#b1_00)"/>
<polyline points="532.90,89.42 534.90,82.71 536.90,75.50" fill="none" stroke="#fff" stroke-opacity="0.850" stroke-width="3.40" stroke-linejoin="round" stroke-linecap="round" filter="url(#b1_10)"/>
<polyline points="532.90,89.42 536.90,75.50" fill="none" stroke="#fff" stroke-opacity="0.200" stroke-width="7.00" stroke-linejoin="round" stroke-linecap="round" filter="url(#b2_00)"/>
<ellipse cx="535.40" cy="76.50" rx="3.00" ry="2.50" fill="#fff" fill-opacity="0.800" filter="url(#b1_00)"/>
<polyline points="544.00,88.11 546.00,82.06 548.00,75.50" fill="none" stroke="#fff" stroke-opacity="0.850" stroke-width="3.40" stroke-linejoin="round" stroke-linecap="round" filter="url(#b1_10)"/>
<polyline points="544.00,88.11 548.00,75.50" fill="none" stroke="#fff" stroke-opacity="0.200" stroke-width="7.00" stroke-linejoin="round" stroke-linecap="round" filter="url(#b2_00)"/>
<ellipse cx="546.50" cy="76.50" rx="3.00" ry="2.50" fill="#fff" fill-opacity="0.800" filter="url(#b1_00)"/>
<polyline points="554.60,86.86 556.60,81.43 558.60,75.50" fill="none" stroke="#fff" stroke-opacity="0.850" stroke-width="3.40" stroke-linejoin="round" stroke-linecap="round" filter="url(#b1_10)"/>
<polyline points="554.60,86.86 558.60,75.50" fill="none" stroke="#fff" stroke-opacity="0.200" stroke-width="7.00" stroke-linejoin="round" stroke-linecap="round" filter="url(#b2_00)"/>
<ellipse cx="557.10" cy="76.50" rx="3.00" ry="2.50" fill="#fff" fill-opacity="0.800" filter="url(#b1_00)"/>
<polyline points="565.70,85.55 567.70,80.78 569.70,75.50" fill="none" stroke="#fff" stroke-opacity="0.850" stroke-width="3.40" stroke-linejoin="round" stroke-linecap="round" filter="url(#b1_10)"/>
<polyline points="565.70,85.55 569.70,75.50" fill="none" stroke="#fff" stroke-opacity="0.200" stroke-width="7.00" stroke-linejoin="round" stroke-linecap="round" filter="url(#b2_00)"/>
<ellipse cx="568.20" cy="76.50" rx="3.00" ry="2.50" fill="#fff" fill-opacity="0.800" filter="url(#b1_00)"/>
<polyline points="576.80,84.24 578.80,80.12 580.80,75.50" fill="none" stroke="#fff" stroke-opacity="0.850" stroke-width="3.40" stroke-linejoin="round" stroke-linecap="round" filter="url(#b1_10)"/>
<polyline points="576.80,84.24 580.80,75.50" fill="none" stroke="#fff" stroke-opacity="0.200" stroke-width="7.00" stroke-linejoin="round" stroke-linecap="round" filter="url(#b2_00)"/>
<ellipse cx="579.30" cy="76.50" rx="3.00" ry="2.50" fill="#fff" fill-opacity="0.800" filter="url(#b1_00)"/>
<polyline points="587.40,82.99 589.40,79.50 591.40,75.50" fill="none" stroke="#fff" stroke-opacity="0.850" stroke-width="3.40" stroke-linejoin="round" stroke-linecap="round" filter="url(#b1_10)"/>
<polyline points="587.40,82.99 591.40,75.50" fill="none" stroke="#fff" stroke-opacity="0.200" stroke-width="7.00" stroke-linejoin="round" stroke-linecap="round" filter="url(#b2_00)"/>
<ellipse cx="589.90" cy="76.50" rx="3.00" ry="2.50" fill="#fff" fill-opacity="0.800" filter="url(#b1_00)"/>
<polyline points="600.00,81.80 602.00,78.90 604.00,75.50" fill="none" stroke="#fff" stroke-opacity="0.850" stroke-width="3.40" stroke-linejoin="round" stroke-linecap="round" filter="url(#b1_10)"/>
<polyline points="600.00,81.80 604.00,75.50" fill="none" stroke="#fff" stroke-opacity="0.200" stroke-width="7.00" stroke-linejoin="round" stroke-linecap="round" filter="url(#b2_00)"/>
<ellipse cx="602.50" cy="76.50" rx="3.00" ry="2.50" fill="#fff" fill-opacity="0.800" filter="url(#b1_00)"/>
<ellipse cx="528.60" cy="89.11" rx="3.00" ry="2.20" fill="#fff" fill-opacity="0.600" filter="url(#b1_20)"/>
<ellipse cx="540.20" cy="87.74" rx="3.00" ry="2.20" fill="#fff" fill-opacity="0.600" filter="url(#b1_20)"/>
<ellipse cx="550.80" cy="86.49" rx="3.00" ry="2.20" fill="#fff" fill-opacity="0.600" filter="url(#b1_20)"/>
<ellipse cx="561.40" cy="85.24" rx="3.00" ry="2.20" fill="#fff" fill-opacity="0.600" filter="url(#b1_20)"/>
<ellipse cx="573.00" cy="83.87" rx="3.00" ry="2.20" fill="#fff" fill-opacity="0.600" filter="url(#b1_20)"/>
<ellipse cx="583.60" cy="82.62" rx="3.00" ry="2.20" fill="#fff" fill-opacity="0.600" filter="url(#b1_20)"/>
<ellipse cx="594.20" cy="81.37" rx="3.00" ry="2.20" fill="#fff" fill-opacity="0.600" filter="url(#b1_20)"/>
</g></g>
<g clip-path="url(#c3)"><g filter="url(#cmap)"><rect x="340.00" y="103.50" width="261.80" height="23.70" fill="rgb(4,4,4)"/>
<polyline points="360.50,104.00 362.00,108.50 363.20,113.00" fill="none" stroke="#fff" stroke-opacity="0.620" stroke-width="4.20" stroke-linejoin="round" stroke-linecap="round" filter="url(#b1_40)"/>
<polyline points="360.50,104.00 363.20,116.00" fill="none" stroke="#fff" stroke-opacity="0.220" stroke-width="7.00" stroke-linejoin="round" stroke-linecap="round" filter="url(#b2_00)"/>
<rect x="440.00" y="105.00" width="8.00" height="21.00" fill="#fff" fill-opacity="0.060" filter="url(#b2_00)"/>
<rect x="456.00" y="105.00" width="6.00" height="21.00" fill="#fff" fill-opacity="0.060" filter="url(#b2_00)"/>
<rect x="543.00" y="105.00" width="6.00" height="21.00" fill="#fff" fill-opacity="0.040" filter="url(#b2_00)"/>
<rect x="598.00" y="105.00" width="4.00" height="21.00" fill="#fff" fill-opacity="0.070" filter="url(#b2_00)"/>
</g></g>
<line x1="347.6" y1="73.1" x2="347.6" y2="44.2" stroke="#fff" stroke-opacity="0.4" stroke-width="1.0" stroke-dasharray="3.8 2.3"/>
<line x1="347.6" y1="103.0" x2="347.6" y2="75.8" stroke="#fff" stroke-opacity="0.4" stroke-width="1.0" stroke-dasharray="3.8 2.3"/>
<line x1="347.6" y1="125.2" x2="347.6" y2="105.5" stroke="#fff" stroke-opacity="0.4" stroke-width="1.0" stroke-dasharray="3.8 2.3"/>
<line x1="361.5" y1="73.1" x2="361.5" y2="44.2" stroke="#fff" stroke-opacity="0.4" stroke-width="1.0" stroke-dasharray="3.8 2.3"/>
<line x1="361.5" y1="103.0" x2="361.5" y2="75.8" stroke="#fff" stroke-opacity="0.4" stroke-width="1.0" stroke-dasharray="3.8 2.3"/>
<line x1="361.5" y1="125.2" x2="361.5" y2="105.5" stroke="#fff" stroke-opacity="0.4" stroke-width="1.0" stroke-dasharray="3.8 2.3"/>
<line x1="372.7" y1="73.1" x2="372.7" y2="44.2" stroke="#fff" stroke-opacity="0.4" stroke-width="1.0" stroke-dasharray="3.8 2.3"/>
<line x1="372.7" y1="103.0" x2="372.7" y2="75.8" stroke="#fff" stroke-opacity="0.4" stroke-width="1.0" stroke-dasharray="3.8 2.3"/>
<line x1="372.7" y1="125.2" x2="372.7" y2="105.5" stroke="#fff" stroke-opacity="0.4" stroke-width="1.0" stroke-dasharray="3.8 2.3"/>
<line x1="383.9" y1="73.1" x2="383.9" y2="44.2" stroke="#fff" stroke-opacity="0.4" stroke-width="1.0" stroke-dasharray="3.8 2.3"/>
<line x1="383.9" y1="103.0" x2="383.9" y2="75.8" stroke="#fff" stroke-opacity="0.4" stroke-width="1.0" stroke-dasharray="3.8 2.3"/>
<line x1="383.9" y1="125.2" x2="383.9" y2="105.5" stroke="#fff" stroke-opacity="0.4" stroke-width="1.0" stroke-dasharray="3.8 2.3"/>
<line x1="395.2" y1="73.1" x2="395.2" y2="44.2" stroke="#fff" stroke-opacity="0.4" stroke-width="1.0" stroke-dasharray="3.8 2.3"/>
<line x1="395.2" y1="103.0" x2="395.2" y2="75.8" stroke="#fff" stroke-opacity="0.4" stroke-width="1.0" stroke-dasharray="3.8 2.3"/>
<line x1="395.2" y1="125.2" x2="395.2" y2="105.5" stroke="#fff" stroke-opacity="0.4" stroke-width="1.0" stroke-dasharray="3.8 2.3"/>
<line x1="405.5" y1="73.1" x2="405.5" y2="44.2" stroke="#fff" stroke-opacity="0.4" stroke-width="1.0" stroke-dasharray="3.8 2.3"/>
<line x1="405.5" y1="103.0" x2="405.5" y2="75.8" stroke="#fff" stroke-opacity="0.4" stroke-width="1.0" stroke-dasharray="3.8 2.3"/>
<line x1="405.5" y1="125.2" x2="405.5" y2="105.5" stroke="#fff" stroke-opacity="0.4" stroke-width="1.0" stroke-dasharray="3.8 2.3"/>
<line x1="416.6" y1="73.1" x2="416.6" y2="44.2" stroke="#fff" stroke-opacity="0.4" stroke-width="1.0" stroke-dasharray="3.8 2.3"/>
<line x1="416.6" y1="103.0" x2="416.6" y2="75.8" stroke="#fff" stroke-opacity="0.4" stroke-width="1.0" stroke-dasharray="3.8 2.3"/>
<line x1="416.6" y1="125.2" x2="416.6" y2="105.5" stroke="#fff" stroke-opacity="0.4" stroke-width="1.0" stroke-dasharray="3.8 2.3"/>
<line x1="427.6" y1="73.1" x2="427.6" y2="44.2" stroke="#fff" stroke-opacity="0.4" stroke-width="1.0" stroke-dasharray="3.8 2.3"/>
<line x1="427.6" y1="103.0" x2="427.6" y2="75.8" stroke="#fff" stroke-opacity="0.4" stroke-width="1.0" stroke-dasharray="3.8 2.3"/>
<line x1="427.6" y1="125.2" x2="427.6" y2="105.5" stroke="#fff" stroke-opacity="0.4" stroke-width="1.0" stroke-dasharray="3.8 2.3"/>
<line x1="438.5" y1="73.1" x2="438.5" y2="44.2" stroke="#fff" stroke-opacity="0.4" stroke-width="1.0" stroke-dasharray="3.8 2.3"/>
<line x1="438.5" y1="103.0" x2="438.5" y2="75.8" stroke="#fff" stroke-opacity="0.4" stroke-width="1.0" stroke-dasharray="3.8 2.3"/>
<line x1="438.5" y1="125.2" x2="438.5" y2="105.5" stroke="#fff" stroke-opacity="0.4" stroke-width="1.0" stroke-dasharray="3.8 2.3"/>
<line x1="449.2" y1="73.1" x2="449.2" y2="44.2" stroke="#fff" stroke-opacity="0.4" stroke-width="1.0" stroke-dasharray="3.8 2.3"/>
<line x1="449.2" y1="103.0" x2="449.2" y2="75.8" stroke="#fff" stroke-opacity="0.4" stroke-width="1.0" stroke-dasharray="3.8 2.3"/>
<line x1="449.2" y1="125.2" x2="449.2" y2="105.5" stroke="#fff" stroke-opacity="0.4" stroke-width="1.0" stroke-dasharray="3.8 2.3"/>
<line x1="463.4" y1="73.1" x2="463.4" y2="44.2" stroke="#fff" stroke-opacity="0.4" stroke-width="1.0" stroke-dasharray="3.8 2.3"/>
<line x1="463.4" y1="103.0" x2="463.4" y2="75.8" stroke="#fff" stroke-opacity="0.4" stroke-width="1.0" stroke-dasharray="3.8 2.3"/>
<line x1="463.4" y1="125.2" x2="463.4" y2="105.5" stroke="#fff" stroke-opacity="0.4" stroke-width="1.0" stroke-dasharray="3.8 2.3"/>
<line x1="474.0" y1="73.1" x2="474.0" y2="44.2" stroke="#fff" stroke-opacity="0.4" stroke-width="1.0" stroke-dasharray="3.8 2.3"/>
<line x1="474.0" y1="103.0" x2="474.0" y2="75.8" stroke="#fff" stroke-opacity="0.4" stroke-width="1.0" stroke-dasharray="3.8 2.3"/>
<line x1="474.0" y1="125.2" x2="474.0" y2="105.5" stroke="#fff" stroke-opacity="0.4" stroke-width="1.0" stroke-dasharray="3.8 2.3"/>
<line x1="484.5" y1="73.1" x2="484.5" y2="44.2" stroke="#fff" stroke-opacity="0.4" stroke-width="1.0" stroke-dasharray="3.8 2.3"/>
<line x1="484.5" y1="103.0" x2="484.5" y2="75.8" stroke="#fff" stroke-opacity="0.4" stroke-width="1.0" stroke-dasharray="3.8 2.3"/>
<line x1="484.5" y1="125.2" x2="484.5" y2="105.5" stroke="#fff" stroke-opacity="0.4" stroke-width="1.0" stroke-dasharray="3.8 2.3"/>
<line x1="495.6" y1="73.1" x2="495.6" y2="44.2" stroke="#fff" stroke-opacity="0.4" stroke-width="1.0" stroke-dasharray="3.8 2.3"/>
<line x1="495.6" y1="103.0" x2="495.6" y2="75.8" stroke="#fff" stroke-opacity="0.4" stroke-width="1.0" stroke-dasharray="3.8 2.3"/>
<line x1="495.6" y1="125.2" x2="495.6" y2="105.5" stroke="#fff" stroke-opacity="0.4" stroke-width="1.0" stroke-dasharray="3.8 2.3"/>
<line x1="507.2" y1="73.1" x2="507.2" y2="44.2" stroke="#fff" stroke-opacity="0.4" stroke-width="1.0" stroke-dasharray="3.8 2.3"/>
<line x1="507.2" y1="103.0" x2="507.2" y2="75.8" stroke="#fff" stroke-opacity="0.4" stroke-width="1.0" stroke-dasharray="3.8 2.3"/>
<line x1="507.2" y1="125.2" x2="507.2" y2="105.5" stroke="#fff" stroke-opacity="0.4" stroke-width="1.0" stroke-dasharray="3.8 2.3"/>
<line x1="518.1" y1="73.1" x2="518.1" y2="44.2" stroke="#fff" stroke-opacity="0.4" stroke-width="1.0" stroke-dasharray="3.8 2.3"/>
<line x1="518.1" y1="103.0" x2="518.1" y2="75.8" stroke="#fff" stroke-opacity="0.4" stroke-width="1.0" stroke-dasharray="3.8 2.3"/>
<line x1="518.1" y1="125.2" x2="518.1" y2="105.5" stroke="#fff" stroke-opacity="0.4" stroke-width="1.0" stroke-dasharray="3.8 2.3"/>
<line x1="529.6" y1="73.1" x2="529.6" y2="44.2" stroke="#fff" stroke-opacity="0.4" stroke-width="1.0" stroke-dasharray="3.8 2.3"/>
<line x1="529.6" y1="103.0" x2="529.6" y2="75.8" stroke="#fff" stroke-opacity="0.4" stroke-width="1.0" stroke-dasharray="3.8 2.3"/>
<line x1="529.6" y1="125.2" x2="529.6" y2="105.5" stroke="#fff" stroke-opacity="0.4" stroke-width="1.0" stroke-dasharray="3.8 2.3"/>
<line x1="541.2" y1="73.1" x2="541.2" y2="44.2" stroke="#fff" stroke-opacity="0.4" stroke-width="1.0" stroke-dasharray="3.8 2.3"/>
<line x1="541.2" y1="103.0" x2="541.2" y2="75.8" stroke="#fff" stroke-opacity="0.4" stroke-width="1.0" stroke-dasharray="3.8 2.3"/>
<line x1="541.2" y1="125.2" x2="541.2" y2="105.5" stroke="#fff" stroke-opacity="0.4" stroke-width="1.0" stroke-dasharray="3.8 2.3"/>
<line x1="551.8" y1="73.1" x2="551.8" y2="44.2" stroke="#fff" stroke-opacity="0.4" stroke-width="1.0" stroke-dasharray="3.8 2.3"/>
<line x1="551.8" y1="103.0" x2="551.8" y2="75.8" stroke="#fff" stroke-opacity="0.4" stroke-width="1.0" stroke-dasharray="3.8 2.3"/>
<line x1="551.8" y1="125.2" x2="551.8" y2="105.5" stroke="#fff" stroke-opacity="0.4" stroke-width="1.0" stroke-dasharray="3.8 2.3"/>
<line x1="562.4" y1="73.1" x2="562.4" y2="44.2" stroke="#fff" stroke-opacity="0.4" stroke-width="1.0" stroke-dasharray="3.8 2.3"/>
<line x1="562.4" y1="103.0" x2="562.4" y2="75.8" stroke="#fff" stroke-opacity="0.4" stroke-width="1.0" stroke-dasharray="3.8 2.3"/>
<line x1="562.4" y1="125.2" x2="562.4" y2="105.5" stroke="#fff" stroke-opacity="0.4" stroke-width="1.0" stroke-dasharray="3.8 2.3"/>
<line x1="574.0" y1="73.1" x2="574.0" y2="44.2" stroke="#fff" stroke-opacity="0.4" stroke-width="1.0" stroke-dasharray="3.8 2.3"/>
<line x1="574.0" y1="103.0" x2="574.0" y2="75.8" stroke="#fff" stroke-opacity="0.4" stroke-width="1.0" stroke-dasharray="3.8 2.3"/>
<line x1="574.0" y1="125.2" x2="574.0" y2="105.5" stroke="#fff" stroke-opacity="0.4" stroke-width="1.0" stroke-dasharray="3.8 2.3"/>
<line x1="584.6" y1="73.1" x2="584.6" y2="44.2" stroke="#fff" stroke-opacity="0.4" stroke-width="1.0" stroke-dasharray="3.8 2.3"/>
<line x1="584.6" y1="103.0" x2="584.6" y2="75.8" stroke="#fff" stroke-opacity="0.4" stroke-width="1.0" stroke-dasharray="3.8 2.3"/>
<line x1="584.6" y1="125.2" x2="584.6" y2="105.5" stroke="#fff" stroke-opacity="0.4" stroke-width="1.0" stroke-dasharray="3.8 2.3"/>
<line x1="595.2" y1="73.1" x2="595.2" y2="44.2" stroke="#fff" stroke-opacity="0.4" stroke-width="1.0" stroke-dasharray="3.8 2.3"/>
<line x1="595.2" y1="103.0" x2="595.2" y2="75.8" stroke="#fff" stroke-opacity="0.4" stroke-width="1.0" stroke-dasharray="3.8 2.3"/>
<line x1="595.2" y1="125.2" x2="595.2" y2="105.5" stroke="#fff" stroke-opacity="0.4" stroke-width="1.0" stroke-dasharray="3.8 2.3"/>
<polyline points="342.00,102.00 343.00,101.93 344.00,101.85 345.00,101.78 346.00,101.70 347.00,101.63 348.00,101.56 349.00,101.48 350.00,101.41 351.00,101.33 352.00,101.26 353.00,101.19 354.00,101.11 355.00,101.04 356.00,100.97 357.00,100.89 358.00,100.82 359.00,100.74 360.00,100.67 361.00,100.60 362.00,100.52 363.00,100.45 364.00,100.37 365.00,100.30 366.00,100.23 367.00,100.15 368.00,100.08 369.00,100.00 370.00,99.93 371.00,99.86 372.00,99.78 373.00,99.71 374.00,99.63 375.00,99.56 376.00,99.49 377.00,99.41 378.00,99.34 379.00,99.27 380.00,99.19 381.00,99.12 382.00,99.04 383.00,98.97 384.00,98.90 385.00,98.82 386.00,98.75 387.00,98.67 388.00,98.60 389.00,98.53 390.00,98.45 391.00,98.38 392.00,98.30 393.00,98.23 394.00,98.16 395.00,98.08 396.00,98.01 397.00,97.94 398.00,97.86 399.00,97.79 400.00,97.71 401.00,97.64 402.00,97.57 403.00,97.49 404.00,97.42 405.00,97.34 406.00,97.27 407.00,97.20 408.00,97.12 409.00,97.05 410.00,96.97 411.00,96.90 412.00,96.83 413.00,96.75 414.00,96.68 415.00,96.60 416.00,96.53 417.00,96.46 418.00,96.38 419.00,96.31 420.00,96.24 421.00,96.16 422.00,96.09 423.00,96.01 424.00,95.94 425.00,95.87 426.00,95.79 427.00,95.72 428.00,95.64 429.00,95.57 430.00,95.50 431.00,95.42 432.00,93.77 433.00,93.72 434.00,93.67 435.00,93.62 436.00,93.58 437.00,93.53 438.00,93.48 439.00,93.43 440.00,93.39 441.00,93.34 442.00,93.29 443.00,93.24 444.00,93.20 445.00,93.15 446.00,93.10 447.00,93.05 448.00,93.01 449.00,92.96 450.00,92.91 451.00,92.86 452.00,92.82 453.00,92.77 454.00,92.72 455.00,92.67 456.00,92.63 457.00,92.58 458.00,92.53 459.00,92.48 460.00,92.44 461.00,92.39 462.00,92.34 463.00,92.29 464.00,92.25 465.00,92.20 466.00,92.17 467.00,92.14 468.00,92.11 469.00,92.07 470.00,92.04 471.00,92.01 472.00,91.98 473.00,91.95 474.00,91.92 475.00,91.89 476.00,91.85 477.00,91.82 478.00,91.79 479.00,91.76 480.00,91.73 481.00,91.70 482.00,91.67 483.00,91.63 484.00,91.60 485.00,91.57 486.00,91.54 487.00,91.51 488.00,91.48 489.00,91.45 490.00,91.41 491.00,91.38 492.00,91.35 493.00,91.32 494.00,91.29 495.00,91.26 496.00,91.23 497.00,91.19 498.00,91.16 499.00,91.13 500.00,91.10 501.00,90.98 502.00,90.86 503.00,90.75 504.00,90.63 505.00,90.51 506.00,90.39 507.00,90.27 508.00,90.16 509.00,90.04 510.00,89.92 511.00,89.80 512.00,89.68 513.00,89.57 514.00,89.45 515.00,89.33 516.00,89.21 517.00,89.09 518.00,88.98 519.00,88.86 520.00,88.74 521.00,88.62 522.00,88.50 523.00,88.39 524.00,88.27 525.00,88.15 526.00,88.03 527.00,87.91 528.00,87.80 529.00,87.68 530.00,87.56 531.00,87.44 532.00,87.32 533.00,87.21 534.00,87.09 535.00,86.97 536.00,86.85 537.00,86.73 538.00,86.62 539.00,86.50 540.00,86.38 541.00,86.26 542.00,86.14 543.00,86.03 544.00,85.91 545.00,85.79 546.00,85.67 547.00,85.55 548.00,85.44 549.00,85.32 550.00,85.20 551.00,85.08 552.00,84.96 553.00,84.85 554.00,84.73 555.00,84.61 556.00,84.49 557.00,84.37 558.00,84.26 559.00,84.14 560.00,84.02 561.00,83.90 562.00,83.78 563.00,83.67 564.00,83.55 565.00,83.43 566.00,83.31 567.00,83.19 568.00,83.08 569.00,82.96 570.00,82.84 571.00,82.72 572.00,82.60 573.00,82.49 574.00,82.37 575.00,82.25 576.00,82.13 577.00,82.01 578.00,81.90 579.00,81.78 580.00,81.66 581.00,81.54 582.00,81.42 583.00,81.31 584.00,81.19 585.00,81.07 586.00,80.95 587.00,80.83 588.00,80.72 589.00,80.60 590.00,80.48 591.00,80.36 592.00,80.24 593.00,80.13 594.00,80.01 595.00,79.89 596.00,79.77 597.00,79.65 598.00,79.54 599.00,79.42" fill="none" stroke="#1fc8d4" stroke-width="2.0"/>
<text x="601.80" y="53.00" font-size="11" fill="#111" text-anchor="start" font-weight="bold" >L</text>
<text x="601.80" y="85.60" font-size="11" fill="#111" text-anchor="start" font-weight="bold" >R</text>
<text x="601.80" y="123.60" font-size="11" fill="#111" text-anchor="start" font-weight="bold" >C</text>
<path d="M604.00,66.90L604.00,72.90M601.40,68.40L606.60,71.40M601.40,71.40L606.60,68.40" stroke="#1a1a1a" stroke-width="1.1" stroke-linecap="butt"/>
<path d="M604.00,96.80L604.00,102.80M601.40,98.30L606.60,101.30M601.40,101.30L606.60,98.30" stroke="#1a1a1a" stroke-width="1.1" stroke-linecap="butt"/>
<path d="M604.00,106.30L604.00,112.30M601.40,107.80L606.60,110.80M601.40,110.80L606.60,107.80" stroke="#1a1a1a" stroke-width="1.1" stroke-linecap="butt"/>
<text x="326.80" y="50.10" font-size="10.3" fill="#333333" text-anchor="end" textLength="17.1" lengthAdjust="spacingAndGlyphs" >300</text>
<text x="326.80" y="76.80" font-size="10.3" fill="#333333" text-anchor="end" textLength="17.1" lengthAdjust="spacingAndGlyphs" >200</text>
<text x="326.80" y="103.40" font-size="10.3" fill="#333333" text-anchor="end" textLength="17.1" lengthAdjust="spacingAndGlyphs" >100</text>
<text x="326.80" y="130.10" font-size="10.3" fill="#333333" text-anchor="end" textLength="5.2" lengthAdjust="spacingAndGlyphs" >0</text>
<text x="289.40" y="87.10" font-size="10.6" fill="#333333" text-anchor="middle" textLength="44" lengthAdjust="spacingAndGlyphs" transform="rotate(-90 289.40 87.10)" >Position</text>
<text x="300.60" y="84.00" font-size="10.6" fill="#333333" text-anchor="middle" textLength="26.6" lengthAdjust="spacingAndGlyphs" transform="rotate(-90 300.60 84.00)" >[cm]</text>
<rect x="623.5" y="48.3" width="7.90" height="76.70" fill="url(#inf)"/>
<polygon points="623.5,48.3 627.45,44.4 631.4,48.3" fill="#fcffa4"/>
<path d="M623.5,125.0 L623.5,48.3 L627.45,44.4 L631.4,48.3 L631.4,125.0 Z" fill="none" stroke="#222" stroke-width="0.8"/>
<line x1="631.4" y1="61.9" x2="633.9" y2="61.9" stroke="#333" stroke-width="0.8"/>
<text x="638.40" y="65.30" font-size="9.7" fill="#333333" text-anchor="start" textLength="17.1" lengthAdjust="spacingAndGlyphs" >0.15</text>
<line x1="631.4" y1="83.2" x2="633.9" y2="83.2" stroke="#333" stroke-width="0.8"/>
<text x="638.40" y="86.60" font-size="9.7" fill="#333333" text-anchor="start" textLength="17.1" lengthAdjust="spacingAndGlyphs" >0.10</text>
<line x1="631.4" y1="104.4" x2="633.9" y2="104.4" stroke="#333" stroke-width="0.8"/>
<text x="638.40" y="107.80" font-size="9.7" fill="#333333" text-anchor="start" textLength="17.1" lengthAdjust="spacingAndGlyphs" >0.05</text>
<line x1="631.4" y1="125.0" x2="633.9" y2="125.0" stroke="#333" stroke-width="0.8"/>
<text x="638.40" y="128.40" font-size="9.7" fill="#333333" text-anchor="start" textLength="17.1" lengthAdjust="spacingAndGlyphs" >0.00</text>
<text x="682.20" y="85.80" font-size="11" fill="#333333" text-anchor="middle" textLength="81" lengthAdjust="spacingAndGlyphs" transform="rotate(-90 682.20 85.80)" >Posterior Prob.</text>
<polygon points="342.00,166.30 342.00,152.00 342.50,151.99 343.00,151.98 343.50,151.95 344.00,151.92 344.50,151.87 345.00,151.82 345.50,151.76 346.00,151.70 346.50,151.62 347.00,151.55 347.50,151.46 348.00,151.38 348.50,151.29 349.00,151.19 349.50,151.10 350.00,151.00 350.50,150.90 351.00,150.80 351.50,150.70 352.00,150.60 352.50,150.50 353.00,150.41 353.50,150.31 354.00,150.22 354.50,150.14 355.00,150.05 355.50,149.97 356.00,149.90 356.50,149.84 357.00,149.78 357.50,149.73 358.00,149.68 358.50,149.65 359.00,149.62 359.50,149.61 360.00,149.60 360.50,149.60 361.00,149.58 361.50,149.56 362.00,149.53 362.50,149.50 363.00,149.45 363.50,149.41 364.00,149.35 364.50,149.30 365.00,149.24 365.50,149.17 366.00,149.11 366.50,149.04 367.00,148.97 367.50,148.90 368.00,148.83 368.50,148.76 369.00,148.69 369.50,148.63 370.00,148.56 370.50,148.50 371.00,148.45 371.50,148.39 372.00,148.35 372.50,148.30 373.00,148.27 373.50,148.24 374.00,148.22 374.50,148.20 375.00,148.20 375.50,148.20 376.00,148.20 376.50,148.21 377.00,148.21 377.50,148.22 378.00,148.22 378.50,148.23 379.00,148.24 379.50,148.25 380.00,148.26 380.50,148.27 381.00,148.29 381.50,148.30 382.00,148.31 382.50,148.33 383.00,148.34 383.50,148.36 384.00,148.37 384.50,148.39 385.00,148.40 385.50,148.41 386.00,148.43 386.50,148.44 387.00,148.46 387.50,148.47 388.00,148.49 388.50,148.50 389.00,148.51 389.50,148.53 390.00,148.54 390.50,148.55 391.00,148.56 391.50,148.57 392.00,148.58 392.50,148.58 393.00,148.59 393.50,148.59 394.00,148.60 394.50,148.60 395.00,148.60 395.50,148.60 396.00,148.61 396.50,148.62 397.00,148.64 397.50,148.66 398.00,148.69 398.50,148.72 399.00,148.75 399.50,148.79 400.00,148.83 400.50,148.87 401.00,148.92 401.50,148.97 402.00,149.02 402.50,149.08 403.00,149.13 403.50,149.19 404.00,149.25 404.50,149.31 405.00,149.37 405.50,149.44 406.00,149.50 406.50,149.57 407.00,149.63 407.50,149.70 408.00,149.77 408.50,149.83 409.00,149.90 409.50,149.96 410.00,150.03 410.50,150.09 411.00,150.15 411.50,150.21 412.00,150.27 412.50,150.32 413.00,150.38 413.50,150.43 414.00,150.48 414.50,150.53 415.00,150.57 415.50,150.61 416.00,150.65 416.50,150.68 417.00,150.71 417.50,150.74 418.00,150.76 418.50,150.78 419.00,150.79 419.50,150.80 420.00,150.80 420.50,150.80 421.00,150.82 421.50,150.84 422.00,150.86 422.50,150.89 423.00,150.93 423.50,150.98 424.00,151.03 424.50,151.08 425.00,151.14 425.50,151.21 426.00,151.28 426.50,151.35 427.00,151.42 427.50,151.50 428.00,151.57 428.50,151.65 429.00,151.74 429.50,151.82 430.00,151.90 430.50,151.98 431.00,152.06 431.50,152.15 432.00,152.23 432.50,152.30 433.00,152.38 433.50,152.45 434.00,152.52 434.50,152.59 435.00,152.66 435.50,152.72 436.00,152.77 436.50,152.82 437.00,152.87 437.50,152.91 438.00,152.94 438.50,152.96 439.00,152.98 439.50,153.00 440.00,153.00 440.50,153.00 441.00,153.01 441.50,153.02 442.00,153.04 442.50,153.06 443.00,153.08 443.50,153.11 444.00,153.14 444.50,153.17 445.00,153.21 445.50,153.24 446.00,153.28 446.50,153.32 447.00,153.36 447.50,153.40 448.00,153.44 448.50,153.48 449.00,153.52 449.50,153.56 450.00,153.59 450.50,153.63 451.00,153.66 451.50,153.69 452.00,153.72 452.50,153.74 453.00,153.76 453.50,153.78 454.00,153.79 454.50,153.80 455.00,153.80 455.50,153.80 456.00,153.79 456.50,153.79 457.00,153.78 457.50,153.77 458.00,153.76 458.50,153.74 459.00,153.73 459.50,153.71 460.00,153.70 460.50,153.68 461.00,153.66 461.50,153.64 462.00,153.62 462.50,153.60 463.00,153.58 463.50,153.56 464.00,153.54 464.50,153.52 465.00,153.50 465.50,153.49 466.00,153.47 466.50,153.46 467.00,153.44 467.50,153.43 468.00,153.42 468.50,153.41 469.00,153.41 469.50,153.40 470.00,153.40 470.50,153.39 471.00,153.37 471.50,153.34 472.00,153.29 472.50,153.24 473.00,153.17 473.50,153.10 474.00,153.01 474.50,152.92 475.00,152.83 475.50,152.73 476.00,152.63 476.50,152.52 477.00,152.41 477.50,152.30 478.00,152.19 478.50,152.08 479.00,151.97 479.50,151.87 480.00,151.77 480.50,151.68 481.00,151.59 481.50,151.50 482.00,151.43 482.50,151.36 483.00,151.31 483.50,151.26 484.00,151.23 484.50,151.21 485.00,151.20 485.50,151.19 486.00,151.15 486.50,151.09 487.00,151.01 487.50,150.90 488.00,150.78 488.50,150.65 489.00,150.50 489.50,150.34 490.00,150.16 490.50,149.98 491.00,149.79 491.50,149.60 492.00,149.40 492.50,149.20 493.00,149.00 493.50,148.80 494.00,148.61 494.50,148.42 495.00,148.24 495.50,148.06 496.00,147.90 496.50,147.75 497.00,147.62 497.50,147.50 498.00,147.39 498.50,147.31 499.00,147.25 499.50,147.21 500.00,147.20 500.50,147.19 501.00,147.17 501.50,147.14 502.00,147.10 502.50,147.05 503.00,146.99 503.50,146.92 504.00,146.85 504.50,146.77 505.00,146.68 505.50,146.59 506.00,146.50 506.50,146.40 507.00,146.30 507.50,146.20 508.00,146.10 508.50,146.00 509.00,145.90 509.50,145.81 510.00,145.72 510.50,145.63 511.00,145.55 511.50,145.48 512.00,145.41 512.50,145.35 513.00,145.30 513.50,145.26 514.00,145.23 514.50,145.21 515.00,145.20 515.50,145.20 516.00,145.19 516.50,145.18 517.00,145.17 517.50,145.15 518.00,145.13 518.50,145.11 519.00,145.08 519.50,145.05 520.00,145.02 520.50,144.99 521.00,144.95 521.50,144.91 522.00,144.87 522.50,144.83 523.00,144.79 523.50,144.74 524.00,144.70 524.50,144.65 525.00,144.60 525.50,144.55 526.00,144.50 526.50,144.45 527.00,144.40 527.50,144.35 528.00,144.30 528.50,144.25 529.00,144.20 529.50,144.15 530.00,144.10 530.50,144.05 531.00,144.00 531.50,143.96 532.00,143.91 532.50,143.87 533.00,143.83 533.50,143.79 534.00,143.75 534.50,143.71 535.00,143.68 535.50,143.65 536.00,143.62 536.50,143.59 537.00,143.57 537.50,143.55 538.00,143.53 538.50,143.52 539.00,143.51 539.50,143.50 540.00,143.50 540.50,143.50 541.00,143.48 541.50,143.46 542.00,143.43 542.50,143.39 543.00,143.35 543.50,143.30 544.00,143.24 544.50,143.18 545.00,143.11 545.50,143.04 546.00,142.96 546.50,142.88 547.00,142.80 547.50,142.71 548.00,142.62 548.50,142.53 549.00,142.44 549.50,142.34 550.00,142.25 550.50,142.16 551.00,142.06 551.50,141.97 552.00,141.88 552.50,141.79 553.00,141.70 553.50,141.62 554.00,141.54 554.50,141.46 555.00,141.39 555.50,141.32 556.00,141.26 556.50,141.20 557.00,141.15 557.50,141.11 558.00,141.07 558.50,141.04 559.00,141.02 559.50,141.00 560.00,141.00 560.50,141.00 561.00,140.99 561.50,140.98 562.00,140.96 562.50,140.94 563.00,140.92 563.50,140.89 564.00,140.86 564.50,140.83 565.00,140.79 565.50,140.76 566.00,140.72 566.50,140.68 567.00,140.64 567.50,140.60 568.00,140.56 568.50,140.52 569.00,140.48 569.50,140.44 570.00,140.41 570.50,140.37 571.00,140.34 571.50,140.31 572.00,140.28 572.50,140.26 573.00,140.24 573.50,140.22 574.00,140.21 574.50,140.20 575.00,140.20 575.50,140.20 576.00,140.21 576.50,140.22 577.00,140.23 577.50,140.24 578.00,140.26 578.50,140.28 579.00,140.31 579.50,140.33 580.00,140.36 580.50,140.38 581.00,140.41 581.50,140.44 582.00,140.47 582.50,140.50 583.00,140.53 583.50,140.56 584.00,140.59 584.50,140.62 585.00,140.64 585.50,140.67 586.00,140.69 586.50,140.72 587.00,140.74 587.50,140.76 588.00,140.77 588.50,140.78 589.00,140.79 589.50,140.80 590.00,140.80 590.50,140.81 591.00,140.84 591.50,140.89 592.00,140.95 592.50,141.02 593.00,141.11 593.50,141.20 594.00,141.30 594.50,141.41 595.00,141.52 595.50,141.63 596.00,141.73 596.50,141.84 597.00,141.94 597.50,142.03 598.00,142.11 598.50,142.18 599.00,142.23 599.50,142.27 600.00,142.30 600.30,166.30" fill="#d6d6d6"/>
<line x1="342.1" y1="139" x2="342.1" y2="167" stroke="#333" stroke-width="1.6"/>
<line x1="341.3" y1="166.3" x2="600.4" y2="166.3" stroke="#333" stroke-width="1.4"/>
<text x="326.80" y="152.70" font-size="10.3" fill="#333333" text-anchor="end" textLength="11.9" lengthAdjust="spacingAndGlyphs" >25</text>
<text x="326.80" y="169.30" font-size="10.3" fill="#333333" text-anchor="end" textLength="5.2" lengthAdjust="spacingAndGlyphs" >0</text>
<text x="288.60" y="154.70" font-size="10.6" fill="#333333" text-anchor="middle" textLength="35.8" lengthAdjust="spacingAndGlyphs" transform="rotate(-90 288.60 154.70)" >Speed</text>
<text x="301.40" y="151.50" font-size="10.6" fill="#333333" text-anchor="middle" textLength="42.2" lengthAdjust="spacingAndGlyphs" transform="rotate(-90 301.40 151.50)" >[cm / s]</text>
<text x="341.40" y="189.00" font-size="10.3" fill="#333333" text-anchor="middle" textLength="14.2" lengthAdjust="spacingAndGlyphs" >0.0</text>
<text x="427.30" y="189.00" font-size="10.3" fill="#333333" text-anchor="middle" textLength="14.2" lengthAdjust="spacingAndGlyphs" >1.0</text>
<text x="512.80" y="189.00" font-size="10.3" fill="#333333" text-anchor="middle" textLength="14.2" lengthAdjust="spacingAndGlyphs" >2.0</text>
<text x="598.00" y="189.00" font-size="10.3" fill="#333333" text-anchor="middle" textLength="14.2" lengthAdjust="spacingAndGlyphs" >3.0</text>
<text x="448.60" y="203.90" font-size="11.6" fill="#333333" text-anchor="start" textLength="45.9" lengthAdjust="spacingAndGlyphs" >Time [s]</text>
<text x="419.20" y="242.10" font-size="11.6" fill="#333333" text-anchor="start" textLength="102.5" lengthAdjust="spacingAndGlyphs" >Offline sequences</text>
<text x="300.30" y="256.50" font-size="10.6" fill="#333333" text-anchor="middle" textLength="18.5" lengthAdjust="spacingAndGlyphs" transform="rotate(-90 300.30 256.50)" >LFP</text>
<rect x="368.0" y="248.0" width="10.9" height="13" fill="#e6e6e6"/>
<rect x="496.2" y="248.0" width="21.3" height="13" fill="#e6e6e6"/>
<polyline points="338.90,253.30 340.20,253.34 341.50,253.94 342.80,252.74 344.10,253.12 345.40,253.63 346.70,253.08 348.00,253.59 349.30,253.59 350.60,254.12 351.90,253.03 353.20,253.87 354.50,253.66 355.80,255.41 357.10,254.25 358.40,251.43 359.70,252.01 361.00,253.92 362.30,254.23 363.60,254.32 364.90,253.54 366.20,253.64 367.50,253.56 368.80,251.00 370.10,250.29 371.40,249.41 372.70,248.23 374.00,249.02 375.30,249.40 376.60,250.61 377.90,249.64 379.20,250.75 380.50,251.96 381.80,252.01 383.10,252.67 384.40,254.40 385.70,257.11 387.00,257.68 388.30,256.63 389.60,255.96 390.90,255.45 392.20,255.61 393.50,255.38 394.80,254.54 396.10,255.59 397.40,254.26 398.70,255.09 400.00,254.34 401.30,255.71 402.60,255.03 403.90,252.73 405.20,252.75 406.50,253.84 407.80,252.04 409.10,252.16 410.40,251.10 411.70,251.14 413.00,253.85 414.30,255.79 415.60,255.76 416.90,256.10 418.20,256.41 419.50,256.95 420.80,255.78 422.10,253.68 423.40,253.92 424.70,254.12 426.00,254.27 427.30,255.17 428.60,253.09 429.90,254.36 431.20,254.55 432.50,253.31 433.80,253.34 435.10,250.97 436.40,251.19 437.70,251.76 439.00,253.56 440.30,252.92 441.60,252.99 442.90,255.14 444.20,255.37 445.50,254.54 446.80,256.02 448.10,254.73 449.40,254.95 450.70,255.70 452.00,254.74 453.30,252.84 454.60,253.76 455.90,251.71 457.20,252.07 458.50,253.13 459.80,250.99 461.10,249.75 462.40,251.60 463.70,252.98 465.00,254.24 466.30,253.53 467.60,253.64 468.90,253.10 470.20,253.81 471.50,255.44 472.80,254.73 474.10,255.26 475.40,256.48 476.70,255.67 478.00,255.84 479.30,256.20 480.60,254.91 481.90,253.06 483.20,252.50 484.50,254.24 485.80,255.21 487.10,253.56 488.40,254.96 489.70,254.77 491.00,254.56 492.30,254.56 493.60,253.00 494.90,251.76 496.20,252.70 497.50,250.06 498.80,250.03 500.10,249.24 501.40,250.78 502.70,250.50 504.00,250.00 505.30,249.94 506.60,251.83 507.90,251.09 509.20,252.33 510.50,254.07 511.80,255.51 513.10,254.57 514.40,253.41 515.70,255.03 517.00,253.87 518.30,253.69 519.60,254.08 520.90,254.31 522.20,253.71 523.50,254.29 524.80,254.69 526.10,254.55 527.40,252.99 528.70,254.35 530.00,256.37 531.30,257.42 532.60,257.56 533.90,258.46 535.20,258.67 536.50,258.14 537.80,257.25 539.10,255.87 540.40,256.70 541.70,255.79 543.00,255.92 544.30,252.97 545.60,253.30 546.90,252.10 548.20,252.12 549.50,250.68 550.80,253.45 552.10,253.01 553.40,255.47 554.70,257.14 556.00,256.97 557.30,255.57 558.60,254.52 559.90,253.86 561.20,253.28 562.50,252.54 563.80,253.88 565.10,254.79 566.40,254.97 567.70,254.22 569.00,255.21 570.30,255.54 571.60,255.49 572.90,256.45 574.20,256.45 575.50,255.63 576.80,254.43 578.10,251.98 579.40,251.91 580.70,251.89 582.00,252.52 583.30,253.07 584.60,252.32 585.90,252.92 587.20,252.93 588.50,253.80 589.80,255.85 591.10,253.76 592.40,254.66 593.70,252.48 595.00,253.10 596.30,252.30 597.60,252.36 598.90,254.00 600.20,254.04 601.50,254.71" fill="none" stroke="#6f6f6f" stroke-width="1.1" stroke-linejoin="round"/>
<g clip-path="url(#c4)"><g filter="url(#cmap)"><rect x="337.30" y="269.90" width="267.70" height="31.70" fill="rgb(6,6,6)"/>
<rect x="339.30" y="274.00" width="1.52" height="24.00" fill="#fff" fill-opacity="0.005" filter="url(#b0_90x3_00)"/>
<rect x="340.82" y="274.00" width="2.29" height="24.00" fill="#fff" fill-opacity="0.068" filter="url(#b0_90x3_00)"/>
<rect x="343.11" y="274.00" width="1.78" height="24.00" fill="#fff" fill-opacity="0.005" filter="url(#b0_90x3_00)"/>
<rect x="344.89" y="274.00" width="1.96" height="24.00" fill="#fff" fill-opacity="0.079" filter="url(#b0_90x3_00)"/>
<rect x="346.85" y="274.00" width="1.79" height="24.00" fill="#fff" fill-opacity="0.076" filter="url(#b0_90x3_00)"/>
<rect x="348.65" y="274.00" width="2.82" height="24.00" fill="#fff" fill-opacity="0.006" filter="url(#b0_90x3_00)"/>
<rect x="351.47" y="274.00" width="2.57" height="24.00" fill="#fff" fill-opacity="0.036" filter="url(#b0_90x3_00)"/>
<rect x="354.04" y="274.00" width="2.33" height="24.00" fill="#fff" fill-opacity="0.119" filter="url(#b0_90x3_00)"/>
<rect x="356.37" y="274.00" width="1.69" height="24.00" fill="#fff" fill-opacity="0.000" filter="url(#b0_90x3_00)"/>
<rect x="358.05" y="274.00" width="3.38" height="24.00" fill="#fff" fill-opacity="0.031" filter="url(#b0_90x3_00)"/>
<rect x="361.43" y="274.00" width="1.90" height="24.00" fill="#fff" fill-opacity="0.023" filter="url(#b0_90x3_00)"/>
<rect x="363.33" y="274.00" width="2.23" height="24.00" fill="#fff" fill-opacity="0.112" filter="url(#b0_90x3_00)"/>
<rect x="365.56" y="274.00" width="1.92" height="24.00" fill="#fff" fill-opacity="0.012" filter="url(#b0_90x3_00)"/>
<rect x="367.48" y="274.00" width="2.67" height="24.00" fill="#fff" fill-opacity="0.049" filter="url(#b0_90x3_00)"/>
<rect x="378.95" y="274.00" width="1.91" height="24.00" fill="#fff" fill-opacity="0.092" filter="url(#b0_90x3_00)"/>
<rect x="380.85" y="274.00" width="3.48" height="24.00" fill="#fff" fill-opacity="0.001" filter="url(#b0_90x3_00)"/>
<rect x="384.33" y="274.00" width="2.97" height="24.00" fill="#fff" fill-opacity="0.097" filter="url(#b0_90x3_00)"/>
<rect x="387.30" y="274.00" width="2.80" height="24.00" fill="#fff" fill-opacity="0.012" filter="url(#b0_90x3_00)"/>
<rect x="390.10" y="274.00" width="3.09" height="24.00" fill="#fff" fill-opacity="0.075" filter="url(#b0_90x3_00)"/>
<rect x="393.20" y="274.00" width="1.89" height="24.00" fill="#fff" fill-opacity="0.062" filter="url(#b0_90x3_00)"/>
<rect x="395.08" y="274.00" width="1.94" height="24.00" fill="#fff" fill-opacity="0.001" filter="url(#b0_90x3_00)"/>
<rect x="397.02" y="274.00" width="2.17" height="24.00" fill="#fff" fill-opacity="0.023" filter="url(#b0_90x3_00)"/>
<rect x="399.20" y="274.00" width="2.29" height="24.00" fill="#fff" fill-opacity="0.062" filter="url(#b0_90x3_00)"/>
<rect x="401.49" y="274.00" width="3.17" height="24.00" fill="#fff" fill-opacity="0.113" filter="url(#b0_90x3_00)"/>
<rect x="404.66" y="274.00" width="3.45" height="24.00" fill="#fff" fill-opacity="0.119" filter="url(#b0_90x3_00)"/>
<rect x="408.11" y="274.00" width="3.08" height="24.00" fill="#fff" fill-opacity="0.020" filter="url(#b0_90x3_00)"/>
<rect x="411.19" y="274.00" width="1.85" height="24.00" fill="#fff" fill-opacity="0.059" filter="url(#b0_90x3_00)"/>
<rect x="413.04" y="274.00" width="2.59" height="24.00" fill="#fff" fill-opacity="0.066" filter="url(#b0_90x3_00)"/>
<rect x="415.64" y="274.00" width="1.69" height="24.00" fill="#fff" fill-opacity="0.010" filter="url(#b0_90x3_00)"/>
<rect x="417.32" y="274.00" width="3.34" height="24.00" fill="#fff" fill-opacity="0.056" filter="url(#b0_90x3_00)"/>
<rect x="420.67" y="274.00" width="2.89" height="24.00" fill="#fff" fill-opacity="0.004" filter="url(#b0_90x3_00)"/>
<rect x="423.56" y="274.00" width="2.30" height="24.00" fill="#fff" fill-opacity="0.104" filter="url(#b0_90x3_00)"/>
<rect x="425.85" y="274.00" width="2.80" height="24.00" fill="#fff" fill-opacity="0.119" filter="url(#b0_90x3_00)"/>
<rect x="428.65" y="274.00" width="1.89" height="24.00" fill="#fff" fill-opacity="0.037" filter="url(#b0_90x3_00)"/>
<rect x="430.55" y="274.00" width="3.10" height="24.00" fill="#fff" fill-opacity="0.036" filter="url(#b0_90x3_00)"/>
<rect x="433.65" y="274.00" width="3.08" height="24.00" fill="#fff" fill-opacity="0.051" filter="url(#b0_90x3_00)"/>
<rect x="436.73" y="274.00" width="1.74" height="24.00" fill="#fff" fill-opacity="0.004" filter="url(#b0_90x3_00)"/>
<rect x="438.46" y="274.00" width="3.47" height="24.00" fill="#fff" fill-opacity="0.005" filter="url(#b0_90x3_00)"/>
<rect x="441.93" y="274.00" width="1.89" height="24.00" fill="#fff" fill-opacity="0.023" filter="url(#b0_90x3_00)"/>
<rect x="443.82" y="274.00" width="2.93" height="24.00" fill="#fff" fill-opacity="0.095" filter="url(#b0_90x3_00)"/>
<rect x="446.74" y="274.00" width="2.45" height="24.00" fill="#fff" fill-opacity="0.042" filter="url(#b0_90x3_00)"/>
<rect x="449.19" y="274.00" width="3.08" height="24.00" fill="#fff" fill-opacity="0.018" filter="url(#b0_90x3_00)"/>
<rect x="452.27" y="274.00" width="2.24" height="24.00" fill="#fff" fill-opacity="0.058" filter="url(#b0_90x3_00)"/>
<rect x="454.52" y="274.00" width="2.77" height="24.00" fill="#fff" fill-opacity="0.001" filter="url(#b0_90x3_00)"/>
<rect x="457.29" y="274.00" width="1.72" height="24.00" fill="#fff" fill-opacity="0.006" filter="url(#b0_90x3_00)"/>
<rect x="459.01" y="274.00" width="2.95" height="24.00" fill="#fff" fill-opacity="0.069" filter="url(#b0_90x3_00)"/>
<rect x="461.96" y="274.00" width="3.45" height="24.00" fill="#fff" fill-opacity="0.081" filter="url(#b0_90x3_00)"/>
<rect x="465.41" y="274.00" width="2.01" height="24.00" fill="#fff" fill-opacity="0.080" filter="url(#b0_90x3_00)"/>
<rect x="467.42" y="274.00" width="3.47" height="24.00" fill="#fff" fill-opacity="0.025" filter="url(#b0_90x3_00)"/>
<rect x="470.89" y="274.00" width="1.52" height="24.00" fill="#fff" fill-opacity="0.028" filter="url(#b0_90x3_00)"/>
<rect x="472.41" y="274.00" width="2.07" height="24.00" fill="#fff" fill-opacity="0.009" filter="url(#b0_90x3_00)"/>
<rect x="474.48" y="274.00" width="1.59" height="24.00" fill="#fff" fill-opacity="0.005" filter="url(#b0_90x3_00)"/>
<rect x="476.07" y="274.00" width="3.23" height="24.00" fill="#fff" fill-opacity="0.001" filter="url(#b0_90x3_00)"/>
<rect x="479.30" y="274.00" width="2.73" height="24.00" fill="#fff" fill-opacity="0.011" filter="url(#b0_90x3_00)"/>
<rect x="482.02" y="274.00" width="1.89" height="24.00" fill="#fff" fill-opacity="0.089" filter="url(#b0_90x3_00)"/>
<rect x="483.91" y="274.00" width="2.10" height="24.00" fill="#fff" fill-opacity="0.009" filter="url(#b0_90x3_00)"/>
<rect x="486.01" y="274.00" width="2.41" height="24.00" fill="#fff" fill-opacity="0.070" filter="url(#b0_90x3_00)"/>
<rect x="488.42" y="274.00" width="2.55" height="24.00" fill="#fff" fill-opacity="0.096" filter="url(#b0_90x3_00)"/>
<rect x="490.97" y="274.00" width="2.30" height="24.00" fill="#fff" fill-opacity="0.046" filter="url(#b0_90x3_00)"/>
<rect x="493.27" y="274.00" width="2.93" height="24.00" fill="#fff" fill-opacity="0.038" filter="url(#b0_90x3_00)"/>
<rect x="520.07" y="274.00" width="1.83" height="24.00" fill="#fff" fill-opacity="0.095" filter="url(#b0_90x3_00)"/>
<rect x="521.90" y="274.00" width="1.74" height="24.00" fill="#fff" fill-opacity="0.033" filter="url(#b0_90x3_00)"/>
<rect x="523.64" y="274.00" width="1.78" height="24.00" fill="#fff" fill-opacity="0.028" filter="url(#b0_90x3_00)"/>
<rect x="525.42" y="274.00" width="2.11" height="24.00" fill="#fff" fill-opacity="0.033" filter="url(#b0_90x3_00)"/>
<rect x="527.53" y="274.00" width="2.92" height="24.00" fill="#fff" fill-opacity="0.048" filter="url(#b0_90x3_00)"/>
<rect x="530.46" y="274.00" width="1.99" height="24.00" fill="#fff" fill-opacity="0.082" filter="url(#b0_90x3_00)"/>
<rect x="532.44" y="274.00" width="2.97" height="24.00" fill="#fff" fill-opacity="0.090" filter="url(#b0_90x3_00)"/>
<rect x="535.41" y="274.00" width="1.57" height="24.00" fill="#fff" fill-opacity="0.058" filter="url(#b0_90x3_00)"/>
<rect x="536.98" y="274.00" width="3.29" height="24.00" fill="#fff" fill-opacity="0.016" filter="url(#b0_90x3_00)"/>
<rect x="540.27" y="274.00" width="1.90" height="24.00" fill="#fff" fill-opacity="0.088" filter="url(#b0_90x3_00)"/>
<rect x="542.17" y="274.00" width="2.23" height="24.00" fill="#fff" fill-opacity="0.031" filter="url(#b0_90x3_00)"/>
<rect x="544.40" y="274.00" width="3.14" height="24.00" fill="#fff" fill-opacity="0.029" filter="url(#b0_90x3_00)"/>
<rect x="547.54" y="274.00" width="1.90" height="24.00" fill="#fff" fill-opacity="0.012" filter="url(#b0_90x3_00)"/>
<rect x="549.43" y="274.00" width="2.19" height="24.00" fill="#fff" fill-opacity="0.070" filter="url(#b0_90x3_00)"/>
<rect x="551.62" y="274.00" width="2.24" height="24.00" fill="#fff" fill-opacity="0.081" filter="url(#b0_90x3_00)"/>
<rect x="553.86" y="274.00" width="1.63" height="24.00" fill="#fff" fill-opacity="0.015" filter="url(#b0_90x3_00)"/>
<rect x="555.49" y="274.00" width="2.75" height="24.00" fill="#fff" fill-opacity="0.040" filter="url(#b0_90x3_00)"/>
<rect x="558.24" y="274.00" width="2.50" height="24.00" fill="#fff" fill-opacity="0.109" filter="url(#b0_90x3_00)"/>
<rect x="560.74" y="274.00" width="2.05" height="24.00" fill="#fff" fill-opacity="0.009" filter="url(#b0_90x3_00)"/>
<rect x="562.80" y="274.00" width="1.57" height="24.00" fill="#fff" fill-opacity="0.040" filter="url(#b0_90x3_00)"/>
<rect x="564.36" y="274.00" width="2.09" height="24.00" fill="#fff" fill-opacity="0.039" filter="url(#b0_90x3_00)"/>
<rect x="566.46" y="274.00" width="1.51" height="24.00" fill="#fff" fill-opacity="0.000" filter="url(#b0_90x3_00)"/>
<rect x="567.97" y="274.00" width="2.26" height="24.00" fill="#fff" fill-opacity="0.079" filter="url(#b0_90x3_00)"/>
<rect x="570.23" y="274.00" width="2.10" height="24.00" fill="#fff" fill-opacity="0.105" filter="url(#b0_90x3_00)"/>
<rect x="572.33" y="274.00" width="2.66" height="24.00" fill="#fff" fill-opacity="0.031" filter="url(#b0_90x3_00)"/>
<rect x="574.99" y="274.00" width="3.05" height="24.00" fill="#fff" fill-opacity="0.014" filter="url(#b0_90x3_00)"/>
<rect x="578.04" y="274.00" width="2.71" height="24.00" fill="#fff" fill-opacity="0.093" filter="url(#b0_90x3_00)"/>
<rect x="580.75" y="274.00" width="2.58" height="24.00" fill="#fff" fill-opacity="0.022" filter="url(#b0_90x3_00)"/>
<rect x="583.33" y="274.00" width="1.69" height="24.00" fill="#fff" fill-opacity="0.052" filter="url(#b0_90x3_00)"/>
<rect x="585.03" y="274.00" width="1.88" height="24.00" fill="#fff" fill-opacity="0.027" filter="url(#b0_90x3_00)"/>
<rect x="586.90" y="274.00" width="2.58" height="24.00" fill="#fff" fill-opacity="0.110" filter="url(#b0_90x3_00)"/>
<rect x="589.49" y="274.00" width="2.85" height="24.00" fill="#fff" fill-opacity="0.045" filter="url(#b0_90x3_00)"/>
<rect x="592.33" y="274.00" width="3.22" height="24.00" fill="#fff" fill-opacity="0.021" filter="url(#b0_90x3_00)"/>
<rect x="595.55" y="274.00" width="2.28" height="24.00" fill="#fff" fill-opacity="0.067" filter="url(#b0_90x3_00)"/>
<rect x="597.83" y="274.00" width="2.61" height="24.00" fill="#fff" fill-opacity="0.013" filter="url(#b0_90x3_00)"/>
<rect x="600.43" y="274.00" width="2.32" height="24.00" fill="#fff" fill-opacity="0.090" filter="url(#b0_90x3_00)"/>
<rect x="602.76" y="274.00" width="1.98" height="24.00" fill="#fff" fill-opacity="0.071" filter="url(#b0_90x3_00)"/>
<ellipse cx="359.72" cy="280.49" rx="2.91" ry="7.50" fill="#fff" fill-opacity="0.105" filter="url(#b2_00)"/>
<ellipse cx="529.23" cy="278.10" rx="3.53" ry="7.22" fill="#fff" fill-opacity="0.108" filter="url(#b2_00)"/>
<ellipse cx="588.42" cy="294.52" rx="3.11" ry="3.00" fill="#fff" fill-opacity="0.133" filter="url(#b2_00)"/>
<ellipse cx="531.98" cy="293.70" rx="4.51" ry="7.77" fill="#fff" fill-opacity="0.072" filter="url(#b2_00)"/>
<ellipse cx="360.79" cy="278.54" rx="4.93" ry="3.56" fill="#fff" fill-opacity="0.068" filter="url(#b2_00)"/>
<ellipse cx="344.60" cy="277.04" rx="2.11" ry="4.77" fill="#fff" fill-opacity="0.068" filter="url(#b2_00)"/>
<ellipse cx="420.96" cy="295.51" rx="2.50" ry="7.07" fill="#fff" fill-opacity="0.131" filter="url(#b2_00)"/>
<ellipse cx="489.22" cy="288.09" rx="4.31" ry="5.94" fill="#fff" fill-opacity="0.075" filter="url(#b2_00)"/>
<ellipse cx="426.18" cy="281.12" rx="3.20" ry="7.94" fill="#fff" fill-opacity="0.097" filter="url(#b2_00)"/>
<ellipse cx="357.66" cy="286.01" rx="4.44" ry="5.23" fill="#fff" fill-opacity="0.127" filter="url(#b2_00)"/>
<ellipse cx="363.27" cy="277.31" rx="3.99" ry="3.24" fill="#fff" fill-opacity="0.083" filter="url(#b2_00)"/>
<ellipse cx="440.73" cy="280.06" rx="2.11" ry="3.03" fill="#fff" fill-opacity="0.155" filter="url(#b2_00)"/>
<ellipse cx="468.96" cy="296.04" rx="4.59" ry="6.09" fill="#fff" fill-opacity="0.108" filter="url(#b2_00)"/>
<ellipse cx="473.44" cy="280.73" rx="3.13" ry="6.61" fill="#fff" fill-opacity="0.071" filter="url(#b2_00)"/>
<ellipse cx="563.42" cy="286.71" rx="3.81" ry="7.11" fill="#fff" fill-opacity="0.121" filter="url(#b2_00)"/>
<ellipse cx="339.58" cy="276.58" rx="4.85" ry="5.96" fill="#fff" fill-opacity="0.157" filter="url(#b2_00)"/>
<ellipse cx="545.14" cy="282.63" rx="4.90" ry="7.61" fill="#fff" fill-opacity="0.100" filter="url(#b2_00)"/>
<ellipse cx="361.26" cy="282.69" rx="2.50" ry="4.83" fill="#fff" fill-opacity="0.059" filter="url(#b2_00)"/>
<ellipse cx="527.38" cy="296.57" rx="2.63" ry="6.90" fill="#fff" fill-opacity="0.114" filter="url(#b2_00)"/>
<ellipse cx="466.57" cy="295.05" rx="3.13" ry="7.11" fill="#fff" fill-opacity="0.054" filter="url(#b2_00)"/>
<ellipse cx="593.86" cy="279.83" rx="2.01" ry="7.41" fill="#fff" fill-opacity="0.129" filter="url(#b2_00)"/>
<ellipse cx="438.81" cy="278.40" rx="2.95" ry="7.77" fill="#fff" fill-opacity="0.158" filter="url(#b2_00)"/>
<ellipse cx="399.96" cy="285.29" rx="3.35" ry="7.52" fill="#fff" fill-opacity="0.051" filter="url(#b2_00)"/>
<ellipse cx="557.96" cy="281.32" rx="3.65" ry="3.65" fill="#fff" fill-opacity="0.059" filter="url(#b2_00)"/>
<ellipse cx="572.17" cy="286.56" rx="4.92" ry="7.32" fill="#fff" fill-opacity="0.133" filter="url(#b2_00)"/>
<ellipse cx="358.98" cy="288.38" rx="4.98" ry="5.52" fill="#fff" fill-opacity="0.057" filter="url(#b2_00)"/>
<ellipse cx="388.01" cy="296.75" rx="4.93" ry="4.24" fill="#fff" fill-opacity="0.085" filter="url(#b2_00)"/>
<ellipse cx="527.84" cy="286.66" rx="2.56" ry="7.92" fill="#fff" fill-opacity="0.118" filter="url(#b2_00)"/>
<ellipse cx="435.59" cy="276.46" rx="3.53" ry="6.76" fill="#fff" fill-opacity="0.070" filter="url(#b2_00)"/>
<ellipse cx="362.31" cy="291.21" rx="4.76" ry="4.88" fill="#fff" fill-opacity="0.102" filter="url(#b2_00)"/>
<ellipse cx="393.65" cy="280.14" rx="2.26" ry="4.96" fill="#fff" fill-opacity="0.074" filter="url(#b2_00)"/>
<ellipse cx="562.80" cy="282.76" rx="4.89" ry="7.06" fill="#fff" fill-opacity="0.080" filter="url(#b2_00)"/>
<ellipse cx="464.29" cy="287.24" rx="2.37" ry="5.66" fill="#fff" fill-opacity="0.134" filter="url(#b2_00)"/>
<ellipse cx="456.69" cy="281.36" rx="4.77" ry="4.48" fill="#fff" fill-opacity="0.159" filter="url(#b2_00)"/>
<ellipse cx="457.29" cy="279.13" rx="4.36" ry="5.10" fill="#fff" fill-opacity="0.059" filter="url(#b2_00)"/>
<ellipse cx="590.36" cy="292.78" rx="3.82" ry="5.84" fill="#fff" fill-opacity="0.058" filter="url(#b2_00)"/>
<ellipse cx="598.39" cy="282.34" rx="3.57" ry="5.45" fill="#fff" fill-opacity="0.102" filter="url(#b2_00)"/>
<ellipse cx="341.00" cy="290.00" rx="2.00" ry="8.00" fill="#fff" fill-opacity="0.200" filter="url(#b2_20)"/>
<ellipse cx="349.00" cy="288.00" rx="6.00" ry="5.00" fill="#fff" fill-opacity="0.280" filter="url(#b2_20)"/>
<ellipse cx="360.00" cy="288.00" rx="6.00" ry="5.00" fill="#fff" fill-opacity="0.280" filter="url(#b2_20)"/>
<ellipse cx="400.00" cy="290.00" rx="6.00" ry="5.00" fill="#fff" fill-opacity="0.250" filter="url(#b2_20)"/>
<ellipse cx="423.00" cy="288.00" rx="5.00" ry="6.00" fill="#fff" fill-opacity="0.220" filter="url(#b2_20)"/>
<ellipse cx="445.00" cy="288.00" rx="8.00" ry="5.00" fill="#fff" fill-opacity="0.280" filter="url(#b2_20)"/>
<ellipse cx="452.00" cy="290.00" rx="6.00" ry="6.00" fill="#fff" fill-opacity="0.250" filter="url(#b2_20)"/>
<ellipse cx="472.00" cy="286.00" rx="6.00" ry="7.00" fill="#fff" fill-opacity="0.120" filter="url(#b2_20)"/>
<ellipse cx="488.00" cy="289.00" rx="4.00" ry="5.00" fill="#fff" fill-opacity="0.250" filter="url(#b2_20)"/>
<ellipse cx="533.00" cy="290.00" rx="7.00" ry="6.00" fill="#fff" fill-opacity="0.250" filter="url(#b2_20)"/>
<ellipse cx="548.00" cy="289.00" rx="6.00" ry="6.00" fill="#fff" fill-opacity="0.250" filter="url(#b2_20)"/>
<ellipse cx="560.00" cy="288.00" rx="5.00" ry="5.00" fill="#fff" fill-opacity="0.150" filter="url(#b2_20)"/>
<ellipse cx="585.00" cy="290.00" rx="7.00" ry="5.00" fill="#fff" fill-opacity="0.150" filter="url(#b2_20)"/>
<ellipse cx="596.00" cy="290.00" rx="5.00" ry="5.00" fill="#fff" fill-opacity="0.150" filter="url(#b2_20)"/>
<polyline points="392.00,271.00 392.30,279.00" fill="none" stroke="#fff" stroke-opacity="1.000" stroke-width="3.20" stroke-linejoin="round" stroke-linecap="round" filter="url(#b1_00)"/>
<polyline points="392.00,271.00 390.00,285.00 388.00,292.00" fill="none" stroke="#fff" stroke-opacity="0.500" stroke-width="7.00" stroke-linejoin="round" stroke-linecap="round" filter="url(#b2_20)"/>
<polyline points="379.00,300.00 381.00,293.00 383.00,287.00" fill="none" stroke="#fff" stroke-opacity="0.620" stroke-width="4.50" stroke-linejoin="round" stroke-linecap="round" filter="url(#b1_80)"/>
<polyline points="437.00,271.00 435.00,279.00 432.00,287.00 430.00,294.00 429.00,299.00" fill="none" stroke="#fff" stroke-opacity="0.700" stroke-width="4.00" stroke-linejoin="round" stroke-linecap="round" filter="url(#b1_50)"/>
<polyline points="437.00,277.00 444.00,284.00 451.00,291.00" fill="none" stroke="#fff" stroke-opacity="0.300" stroke-width="5.00" stroke-linejoin="round" stroke-linecap="round" filter="url(#b2_20)"/>
<polyline points="466.00,271.00 466.50,276.00" fill="none" stroke="#fff" stroke-opacity="0.800" stroke-width="4.50" stroke-linejoin="round" stroke-linecap="round" filter="url(#b1_40)"/>
<polyline points="466.00,272.00 469.00,280.00 472.00,290.00" fill="none" stroke="#fff" stroke-opacity="0.220" stroke-width="5.00" stroke-linejoin="round" stroke-linecap="round" filter="url(#b2_20)"/>
<polyline points="538.00,271.00 538.50,280.00 539.00,292.00" fill="none" stroke="#fff" stroke-opacity="0.680" stroke-width="4.00" stroke-linejoin="round" stroke-linecap="round" filter="url(#b1_60)"/>
<ellipse cx="538.00" cy="286.00" rx="9.00" ry="10.00" fill="#fff" fill-opacity="0.200" filter="url(#b2_50)"/>
<polyline points="536.00,278.00 531.00,287.00" fill="none" stroke="#fff" stroke-opacity="0.250" stroke-width="5.00" stroke-linejoin="round" stroke-linecap="round" filter="url(#b2_20)"/>
<polyline points="409.00,284.00 410.50,292.00 411.50,300.00" fill="none" stroke="#fff" stroke-opacity="0.500" stroke-width="4.50" stroke-linejoin="round" stroke-linecap="round" filter="url(#b1_80)"/>
</g></g>
<g clip-path="url(#c5)"><g filter="url(#cmap)"><rect x="337.30" y="302.50" width="267.70" height="28.20" fill="rgb(5,5,5)"/>
<rect x="339.30" y="306.00" width="2.64" height="21.00" fill="#fff" fill-opacity="0.045" filter="url(#b0_90x3_00)"/>
<rect x="341.94" y="306.00" width="3.13" height="21.00" fill="#fff" fill-opacity="0.013" filter="url(#b0_90x3_00)"/>
<rect x="345.07" y="306.00" width="2.80" height="21.00" fill="#fff" fill-opacity="0.076" filter="url(#b0_90x3_00)"/>
<rect x="347.88" y="306.00" width="3.32" height="21.00" fill="#fff" fill-opacity="0.007" filter="url(#b0_90x3_00)"/>
<rect x="351.20" y="306.00" width="2.80" height="21.00" fill="#fff" fill-opacity="0.044" filter="url(#b0_90x3_00)"/>
<rect x="354.00" y="306.00" width="2.51" height="21.00" fill="#fff" fill-opacity="0.085" filter="url(#b0_90x3_00)"/>
<rect x="356.51" y="306.00" width="2.56" height="21.00" fill="#fff" fill-opacity="0.027" filter="url(#b0_90x3_00)"/>
<rect x="359.06" y="306.00" width="3.39" height="21.00" fill="#fff" fill-opacity="0.046" filter="url(#b0_90x3_00)"/>
<rect x="362.45" y="306.00" width="2.10" height="21.00" fill="#fff" fill-opacity="0.015" filter="url(#b0_90x3_00)"/>
<rect x="364.55" y="306.00" width="2.49" height="21.00" fill="#fff" fill-opacity="0.001" filter="url(#b0_90x3_00)"/>
<rect x="367.04" y="306.00" width="2.72" height="21.00" fill="#fff" fill-opacity="0.057" filter="url(#b0_90x3_00)"/>
<rect x="381.27" y="306.00" width="2.86" height="21.00" fill="#fff" fill-opacity="0.004" filter="url(#b0_90x3_00)"/>
<rect x="384.14" y="306.00" width="1.61" height="21.00" fill="#fff" fill-opacity="0.087" filter="url(#b0_90x3_00)"/>
<rect x="385.75" y="306.00" width="2.07" height="21.00" fill="#fff" fill-opacity="0.009" filter="url(#b0_90x3_00)"/>
<rect x="387.82" y="306.00" width="3.29" height="21.00" fill="#fff" fill-opacity="0.058" filter="url(#b0_90x3_00)"/>
<rect x="391.11" y="306.00" width="1.75" height="21.00" fill="#fff" fill-opacity="0.016" filter="url(#b0_90x3_00)"/>
<rect x="392.86" y="306.00" width="1.99" height="21.00" fill="#fff" fill-opacity="0.013" filter="url(#b0_90x3_00)"/>
<rect x="394.84" y="306.00" width="1.51" height="21.00" fill="#fff" fill-opacity="0.034" filter="url(#b0_90x3_00)"/>
<rect x="396.35" y="306.00" width="2.11" height="21.00" fill="#fff" fill-opacity="0.022" filter="url(#b0_90x3_00)"/>
<rect x="398.46" y="306.00" width="1.87" height="21.00" fill="#fff" fill-opacity="0.003" filter="url(#b0_90x3_00)"/>
<rect x="400.33" y="306.00" width="1.57" height="21.00" fill="#fff" fill-opacity="0.073" filter="url(#b0_90x3_00)"/>
<rect x="401.90" y="306.00" width="2.99" height="21.00" fill="#fff" fill-opacity="0.038" filter="url(#b0_90x3_00)"/>
<rect x="404.89" y="306.00" width="1.75" height="21.00" fill="#fff" fill-opacity="0.005" filter="url(#b0_90x3_00)"/>
<rect x="406.64" y="306.00" width="1.74" height="21.00" fill="#fff" fill-opacity="0.016" filter="url(#b0_90x3_00)"/>
<rect x="408.38" y="306.00" width="1.62" height="21.00" fill="#fff" fill-opacity="0.013" filter="url(#b0_90x3_00)"/>
<rect x="410.00" y="306.00" width="1.91" height="21.00" fill="#fff" fill-opacity="0.008" filter="url(#b0_90x3_00)"/>
<rect x="411.90" y="306.00" width="2.81" height="21.00" fill="#fff" fill-opacity="0.028" filter="url(#b0_90x3_00)"/>
<rect x="414.71" y="306.00" width="2.45" height="21.00" fill="#fff" fill-opacity="0.019" filter="url(#b0_90x3_00)"/>
<rect x="417.16" y="306.00" width="2.58" height="21.00" fill="#fff" fill-opacity="0.063" filter="url(#b0_90x3_00)"/>
<rect x="419.73" y="306.00" width="2.12" height="21.00" fill="#fff" fill-opacity="0.002" filter="url(#b0_90x3_00)"/>
<rect x="421.85" y="306.00" width="2.46" height="21.00" fill="#fff" fill-opacity="0.021" filter="url(#b0_90x3_00)"/>
<rect x="424.31" y="306.00" width="3.06" height="21.00" fill="#fff" fill-opacity="0.003" filter="url(#b0_90x3_00)"/>
<rect x="427.37" y="306.00" width="3.25" height="21.00" fill="#fff" fill-opacity="0.000" filter="url(#b0_90x3_00)"/>
<rect x="430.62" y="306.00" width="2.58" height="21.00" fill="#fff" fill-opacity="0.027" filter="url(#b0_90x3_00)"/>
<rect x="433.20" y="306.00" width="2.13" height="21.00" fill="#fff" fill-opacity="0.075" filter="url(#b0_90x3_00)"/>
<rect x="435.33" y="306.00" width="2.90" height="21.00" fill="#fff" fill-opacity="0.006" filter="url(#b0_90x3_00)"/>
<rect x="438.24" y="306.00" width="2.49" height="21.00" fill="#fff" fill-opacity="0.043" filter="url(#b0_90x3_00)"/>
<rect x="440.73" y="306.00" width="1.57" height="21.00" fill="#fff" fill-opacity="0.002" filter="url(#b0_90x3_00)"/>
<rect x="442.30" y="306.00" width="2.70" height="21.00" fill="#fff" fill-opacity="0.056" filter="url(#b0_90x3_00)"/>
<rect x="445.00" y="306.00" width="2.43" height="21.00" fill="#fff" fill-opacity="0.025" filter="url(#b0_90x3_00)"/>
<rect x="447.42" y="306.00" width="2.51" height="21.00" fill="#fff" fill-opacity="0.012" filter="url(#b0_90x3_00)"/>
<rect x="449.94" y="306.00" width="3.25" height="21.00" fill="#fff" fill-opacity="0.085" filter="url(#b0_90x3_00)"/>
<rect x="453.19" y="306.00" width="2.46" height="21.00" fill="#fff" fill-opacity="0.000" filter="url(#b0_90x3_00)"/>
<rect x="455.66" y="306.00" width="2.29" height="21.00" fill="#fff" fill-opacity="0.065" filter="url(#b0_90x3_00)"/>
<rect x="457.95" y="306.00" width="2.15" height="21.00" fill="#fff" fill-opacity="0.003" filter="url(#b0_90x3_00)"/>
<rect x="460.10" y="306.00" width="1.87" height="21.00" fill="#fff" fill-opacity="0.054" filter="url(#b0_90x3_00)"/>
<rect x="461.97" y="306.00" width="2.74" height="21.00" fill="#fff" fill-opacity="0.014" filter="url(#b0_90x3_00)"/>
<rect x="464.71" y="306.00" width="2.75" height="21.00" fill="#fff" fill-opacity="0.060" filter="url(#b0_90x3_00)"/>
<rect x="467.46" y="306.00" width="3.43" height="21.00" fill="#fff" fill-opacity="0.068" filter="url(#b0_90x3_00)"/>
<rect x="470.89" y="306.00" width="2.37" height="21.00" fill="#fff" fill-opacity="0.066" filter="url(#b0_90x3_00)"/>
<rect x="473.26" y="306.00" width="3.35" height="21.00" fill="#fff" fill-opacity="0.073" filter="url(#b0_90x3_00)"/>
<rect x="476.61" y="306.00" width="3.00" height="21.00" fill="#fff" fill-opacity="0.040" filter="url(#b0_90x3_00)"/>
<rect x="479.61" y="306.00" width="2.52" height="21.00" fill="#fff" fill-opacity="0.071" filter="url(#b0_90x3_00)"/>
<rect x="482.14" y="306.00" width="2.75" height="21.00" fill="#fff" fill-opacity="0.055" filter="url(#b0_90x3_00)"/>
<rect x="484.89" y="306.00" width="1.96" height="21.00" fill="#fff" fill-opacity="0.003" filter="url(#b0_90x3_00)"/>
<rect x="486.84" y="306.00" width="2.04" height="21.00" fill="#fff" fill-opacity="0.040" filter="url(#b0_90x3_00)"/>
<rect x="488.88" y="306.00" width="2.65" height="21.00" fill="#fff" fill-opacity="0.008" filter="url(#b0_90x3_00)"/>
<rect x="491.53" y="306.00" width="1.88" height="21.00" fill="#fff" fill-opacity="0.083" filter="url(#b0_90x3_00)"/>
<rect x="493.41" y="306.00" width="1.64" height="21.00" fill="#fff" fill-opacity="0.080" filter="url(#b0_90x3_00)"/>
<rect x="495.05" y="306.00" width="3.04" height="21.00" fill="#fff" fill-opacity="0.039" filter="url(#b0_90x3_00)"/>
<rect x="518.12" y="306.00" width="1.78" height="21.00" fill="#fff" fill-opacity="0.001" filter="url(#b0_90x3_00)"/>
<rect x="519.90" y="306.00" width="1.54" height="21.00" fill="#fff" fill-opacity="0.062" filter="url(#b0_90x3_00)"/>
<rect x="521.44" y="306.00" width="3.08" height="21.00" fill="#fff" fill-opacity="0.010" filter="url(#b0_90x3_00)"/>
<rect x="524.52" y="306.00" width="1.73" height="21.00" fill="#fff" fill-opacity="0.020" filter="url(#b0_90x3_00)"/>
<rect x="526.25" y="306.00" width="3.10" height="21.00" fill="#fff" fill-opacity="0.057" filter="url(#b0_90x3_00)"/>
<rect x="529.35" y="306.00" width="3.23" height="21.00" fill="#fff" fill-opacity="0.086" filter="url(#b0_90x3_00)"/>
<rect x="532.58" y="306.00" width="3.01" height="21.00" fill="#fff" fill-opacity="0.069" filter="url(#b0_90x3_00)"/>
<rect x="535.59" y="306.00" width="1.53" height="21.00" fill="#fff" fill-opacity="0.000" filter="url(#b0_90x3_00)"/>
<rect x="537.12" y="306.00" width="3.22" height="21.00" fill="#fff" fill-opacity="0.044" filter="url(#b0_90x3_00)"/>
<rect x="540.35" y="306.00" width="2.15" height="21.00" fill="#fff" fill-opacity="0.004" filter="url(#b0_90x3_00)"/>
<rect x="542.50" y="306.00" width="2.16" height="21.00" fill="#fff" fill-opacity="0.018" filter="url(#b0_90x3_00)"/>
<rect x="544.67" y="306.00" width="2.49" height="21.00" fill="#fff" fill-opacity="0.027" filter="url(#b0_90x3_00)"/>
<rect x="547.16" y="306.00" width="1.90" height="21.00" fill="#fff" fill-opacity="0.002" filter="url(#b0_90x3_00)"/>
<rect x="549.06" y="306.00" width="1.91" height="21.00" fill="#fff" fill-opacity="0.004" filter="url(#b0_90x3_00)"/>
<rect x="550.97" y="306.00" width="1.70" height="21.00" fill="#fff" fill-opacity="0.024" filter="url(#b0_90x3_00)"/>
<rect x="552.67" y="306.00" width="1.76" height="21.00" fill="#fff" fill-opacity="0.064" filter="url(#b0_90x3_00)"/>
<rect x="554.43" y="306.00" width="2.59" height="21.00" fill="#fff" fill-opacity="0.028" filter="url(#b0_90x3_00)"/>
<rect x="557.02" y="306.00" width="2.78" height="21.00" fill="#fff" fill-opacity="0.010" filter="url(#b0_90x3_00)"/>
<rect x="559.80" y="306.00" width="1.55" height="21.00" fill="#fff" fill-opacity="0.002" filter="url(#b0_90x3_00)"/>
<rect x="561.35" y="306.00" width="2.17" height="21.00" fill="#fff" fill-opacity="0.020" filter="url(#b0_90x3_00)"/>
<rect x="563.52" y="306.00" width="2.01" height="21.00" fill="#fff" fill-opacity="0.015" filter="url(#b0_90x3_00)"/>
<rect x="565.52" y="306.00" width="3.17" height="21.00" fill="#fff" fill-opacity="0.000" filter="url(#b0_90x3_00)"/>
<rect x="568.69" y="306.00" width="2.40" height="21.00" fill="#fff" fill-opacity="0.021" filter="url(#b0_90x3_00)"/>
<rect x="571.09" y="306.00" width="2.06" height="21.00" fill="#fff" fill-opacity="0.056" filter="url(#b0_90x3_00)"/>
<rect x="573.15" y="306.00" width="1.95" height="21.00" fill="#fff" fill-opacity="0.001" filter="url(#b0_90x3_00)"/>
<rect x="575.10" y="306.00" width="1.82" height="21.00" fill="#fff" fill-opacity="0.087" filter="url(#b0_90x3_00)"/>
<rect x="576.92" y="306.00" width="2.19" height="21.00" fill="#fff" fill-opacity="0.004" filter="url(#b0_90x3_00)"/>
<rect x="579.11" y="306.00" width="3.44" height="21.00" fill="#fff" fill-opacity="0.047" filter="url(#b0_90x3_00)"/>
<rect x="582.56" y="306.00" width="3.41" height="21.00" fill="#fff" fill-opacity="0.017" filter="url(#b0_90x3_00)"/>
<rect x="585.97" y="306.00" width="3.12" height="21.00" fill="#fff" fill-opacity="0.001" filter="url(#b0_90x3_00)"/>
<rect x="589.09" y="306.00" width="1.98" height="21.00" fill="#fff" fill-opacity="0.064" filter="url(#b0_90x3_00)"/>
<rect x="591.06" y="306.00" width="2.53" height="21.00" fill="#fff" fill-opacity="0.063" filter="url(#b0_90x3_00)"/>
<rect x="593.60" y="306.00" width="2.27" height="21.00" fill="#fff" fill-opacity="0.074" filter="url(#b0_90x3_00)"/>
<rect x="595.87" y="306.00" width="1.66" height="21.00" fill="#fff" fill-opacity="0.044" filter="url(#b0_90x3_00)"/>
<rect x="597.52" y="306.00" width="1.88" height="21.00" fill="#fff" fill-opacity="0.008" filter="url(#b0_90x3_00)"/>
<rect x="599.40" y="306.00" width="3.27" height="21.00" fill="#fff" fill-opacity="0.025" filter="url(#b0_90x3_00)"/>
<rect x="602.67" y="306.00" width="3.13" height="21.00" fill="#fff" fill-opacity="0.014" filter="url(#b0_90x3_00)"/>
<ellipse cx="478.78" cy="318.54" rx="4.53" ry="7.49" fill="#fff" fill-opacity="0.111" filter="url(#b2_00)"/>
<ellipse cx="435.47" cy="325.08" rx="3.27" ry="4.53" fill="#fff" fill-opacity="0.048" filter="url(#b2_00)"/>
<ellipse cx="474.23" cy="310.79" rx="2.82" ry="6.05" fill="#fff" fill-opacity="0.102" filter="url(#b2_00)"/>
<ellipse cx="537.78" cy="309.56" rx="2.18" ry="4.28" fill="#fff" fill-opacity="0.084" filter="url(#b2_00)"/>
<ellipse cx="560.50" cy="322.41" rx="4.80" ry="5.94" fill="#fff" fill-opacity="0.091" filter="url(#b2_00)"/>
<ellipse cx="416.29" cy="313.65" rx="2.62" ry="5.68" fill="#fff" fill-opacity="0.089" filter="url(#b2_00)"/>
<ellipse cx="490.45" cy="315.06" rx="3.27" ry="4.24" fill="#fff" fill-opacity="0.105" filter="url(#b2_00)"/>
<ellipse cx="553.33" cy="313.06" rx="2.35" ry="4.41" fill="#fff" fill-opacity="0.113" filter="url(#b2_00)"/>
<ellipse cx="548.06" cy="315.30" rx="4.33" ry="4.71" fill="#fff" fill-opacity="0.109" filter="url(#b2_00)"/>
<ellipse cx="363.10" cy="321.34" rx="4.94" ry="5.10" fill="#fff" fill-opacity="0.077" filter="url(#b2_00)"/>
<ellipse cx="400.97" cy="313.33" rx="2.21" ry="4.50" fill="#fff" fill-opacity="0.048" filter="url(#b2_00)"/>
<ellipse cx="477.64" cy="315.32" rx="2.68" ry="7.72" fill="#fff" fill-opacity="0.065" filter="url(#b2_00)"/>
<ellipse cx="479.45" cy="324.10" rx="4.28" ry="7.83" fill="#fff" fill-opacity="0.089" filter="url(#b2_00)"/>
<ellipse cx="568.93" cy="309.17" rx="4.20" ry="4.68" fill="#fff" fill-opacity="0.066" filter="url(#b2_00)"/>
<ellipse cx="542.25" cy="321.35" rx="3.03" ry="4.82" fill="#fff" fill-opacity="0.062" filter="url(#b2_00)"/>
<ellipse cx="585.60" cy="319.06" rx="2.78" ry="5.66" fill="#fff" fill-opacity="0.045" filter="url(#b2_00)"/>
<ellipse cx="410.39" cy="317.03" rx="4.92" ry="7.29" fill="#fff" fill-opacity="0.084" filter="url(#b2_00)"/>
<ellipse cx="540.53" cy="312.53" rx="4.08" ry="7.98" fill="#fff" fill-opacity="0.052" filter="url(#b2_00)"/>
<ellipse cx="585.23" cy="325.74" rx="3.10" ry="7.07" fill="#fff" fill-opacity="0.119" filter="url(#b2_00)"/>
<ellipse cx="409.44" cy="321.53" rx="4.11" ry="7.29" fill="#fff" fill-opacity="0.099" filter="url(#b2_00)"/>
<ellipse cx="566.33" cy="318.87" rx="3.63" ry="5.31" fill="#fff" fill-opacity="0.073" filter="url(#b2_00)"/>
<ellipse cx="461.29" cy="316.88" rx="3.18" ry="3.73" fill="#fff" fill-opacity="0.072" filter="url(#b2_00)"/>
<ellipse cx="588.52" cy="313.51" rx="4.95" ry="7.16" fill="#fff" fill-opacity="0.076" filter="url(#b2_00)"/>
<ellipse cx="396.76" cy="323.82" rx="4.87" ry="4.55" fill="#fff" fill-opacity="0.094" filter="url(#b2_00)"/>
<ellipse cx="538.02" cy="319.18" rx="2.36" ry="4.18" fill="#fff" fill-opacity="0.098" filter="url(#b2_00)"/>
<ellipse cx="340.50" cy="316.00" rx="2.00" ry="8.00" fill="#fff" fill-opacity="0.250" filter="url(#b2_00)"/>
<ellipse cx="388.00" cy="318.00" rx="5.00" ry="6.00" fill="#fff" fill-opacity="0.150" filter="url(#b2_00)"/>
<ellipse cx="428.00" cy="318.00" rx="4.00" ry="7.00" fill="#fff" fill-opacity="0.200" filter="url(#b2_00)"/>
<ellipse cx="468.00" cy="316.00" rx="4.00" ry="5.00" fill="#fff" fill-opacity="0.180" filter="url(#b2_00)"/>
<ellipse cx="476.00" cy="319.00" rx="4.00" ry="5.00" fill="#fff" fill-opacity="0.180" filter="url(#b2_00)"/>
<ellipse cx="545.00" cy="318.00" rx="3.00" ry="7.00" fill="#fff" fill-opacity="0.300" filter="url(#b2_00)"/>
<ellipse cx="560.00" cy="318.00" rx="6.00" ry="6.00" fill="#fff" fill-opacity="0.120" filter="url(#b2_00)"/>
<polyline points="360.00,304.50 364.00,305.50 367.00,307.00 370.00,311.00 372.00,315.00 374.00,320.00 375.00,325.00 376.00,330.00" fill="none" stroke="#fff" stroke-opacity="1.000" stroke-width="4.00" stroke-linejoin="round" stroke-linecap="round" filter="url(#b1_00)"/>
<polyline points="360.00,304.50 367.00,307.00 372.00,315.00 376.00,330.00" fill="none" stroke="#fff" stroke-opacity="0.350" stroke-width="8.00" stroke-linejoin="round" stroke-linecap="round" filter="url(#b2_00)"/>
<polyline points="392.00,305.00 398.00,305.00" fill="none" stroke="#fff" stroke-opacity="1.000" stroke-width="3.20" stroke-linejoin="round" stroke-linecap="round" filter="url(#b1_00)"/>
<polyline points="392.00,305.00 398.00,305.00" fill="none" stroke="#fff" stroke-opacity="0.350" stroke-width="7.00" stroke-linejoin="round" stroke-linecap="round" filter="url(#b2_00)"/>
<polyline points="415.00,305.00 421.00,305.00" fill="none" stroke="#fff" stroke-opacity="1.000" stroke-width="3.20" stroke-linejoin="round" stroke-linecap="round" filter="url(#b1_00)"/>
<polyline points="415.00,305.00 421.00,305.00" fill="none" stroke="#fff" stroke-opacity="0.350" stroke-width="7.00" stroke-linejoin="round" stroke-linecap="round" filter="url(#b2_00)"/>
<polyline points="448.00,305.00 460.00,305.00" fill="none" stroke="#fff" stroke-opacity="1.000" stroke-width="3.20" stroke-linejoin="round" stroke-linecap="round" filter="url(#b1_00)"/>
<polyline points="448.00,305.00 460.00,305.00" fill="none" stroke="#fff" stroke-opacity="0.350" stroke-width="7.00" stroke-linejoin="round" stroke-linecap="round" filter="url(#b2_00)"/>
<polyline points="485.00,305.00 496.00,305.00" fill="none" stroke="#fff" stroke-opacity="1.000" stroke-width="3.20" stroke-linejoin="round" stroke-linecap="round" filter="url(#b1_00)"/>
<polyline points="485.00,305.00 496.00,305.00" fill="none" stroke="#fff" stroke-opacity="0.350" stroke-width="7.00" stroke-linejoin="round" stroke-linecap="round" filter="url(#b2_00)"/>
<polyline points="552.00,305.00 558.00,305.00" fill="none" stroke="#fff" stroke-opacity="1.000" stroke-width="3.20" stroke-linejoin="round" stroke-linecap="round" filter="url(#b1_00)"/>
<polyline points="552.00,305.00 558.00,305.00" fill="none" stroke="#fff" stroke-opacity="0.350" stroke-width="7.00" stroke-linejoin="round" stroke-linecap="round" filter="url(#b2_00)"/>
<polyline points="583.00,305.00 589.00,305.00" fill="none" stroke="#fff" stroke-opacity="1.000" stroke-width="3.20" stroke-linejoin="round" stroke-linecap="round" filter="url(#b1_00)"/>
<polyline points="583.00,305.00 589.00,305.00" fill="none" stroke="#fff" stroke-opacity="0.350" stroke-width="7.00" stroke-linejoin="round" stroke-linecap="round" filter="url(#b2_00)"/>
<polyline points="421.00,306.00 425.00,312.00 427.00,318.00" fill="none" stroke="#fff" stroke-opacity="0.450" stroke-width="2.50" stroke-linejoin="round" stroke-linecap="round" filter="url(#b1_20)"/>
<polyline points="460.00,306.00 461.00,312.00" fill="none" stroke="#fff" stroke-opacity="0.500" stroke-width="2.50" stroke-linejoin="round" stroke-linecap="round" filter="url(#b1_20)"/>
<polyline points="410.00,322.00 410.00,328.00" fill="none" stroke="#fff" stroke-opacity="0.500" stroke-width="3.00" stroke-linejoin="round" stroke-linecap="round" filter="url(#b1_20)"/>
<polyline points="493.00,305.00 497.00,306.00 499.00,310.00 501.00,316.00 503.00,320.00 507.00,321.00 510.00,322.00 513.00,322.50 515.00,325.00 517.00,329.00" fill="none" stroke="#fff" stroke-opacity="1.000" stroke-width="4.20" stroke-linejoin="round" stroke-linecap="round" filter="url(#b0_90)"/>
<rect x="503.00" y="319.50" width="12.00" height="6.50" fill="#fff" fill-opacity="1.000" filter="url(#b1_00)"/>
<polyline points="494.00,305.00 500.00,311.00 506.00,321.00 516.00,325.00" fill="none" stroke="#fff" stroke-opacity="0.350" stroke-width="9.00" stroke-linejoin="round" stroke-linecap="round" filter="url(#b2_00)"/>
<polyline points="544.00,311.00 545.00,318.00 546.00,326.00" fill="none" stroke="#fff" stroke-opacity="0.350" stroke-width="4.50" stroke-linejoin="round" stroke-linecap="round" filter="url(#b2_00)"/>
</g></g>
<g clip-path="url(#c6)"><g filter="url(#cmap)"><rect x="337.30" y="329.80" width="267.70" height="23.20" fill="rgb(8,8,8)"/>
<rect x="339.30" y="334.00" width="2.60" height="18.00" fill="#fff" fill-opacity="0.091" filter="url(#b0_90x3_00)"/>
<rect x="341.90" y="334.00" width="2.99" height="18.00" fill="#fff" fill-opacity="0.113" filter="url(#b0_90x3_00)"/>
<rect x="344.89" y="334.00" width="2.07" height="18.00" fill="#fff" fill-opacity="0.133" filter="url(#b0_90x3_00)"/>
<rect x="346.96" y="334.00" width="2.63" height="18.00" fill="#fff" fill-opacity="0.090" filter="url(#b0_90x3_00)"/>
<rect x="349.60" y="334.00" width="3.01" height="18.00" fill="#fff" fill-opacity="0.125" filter="url(#b0_90x3_00)"/>
<rect x="352.61" y="334.00" width="2.05" height="18.00" fill="#fff" fill-opacity="0.031" filter="url(#b0_90x3_00)"/>
<rect x="354.66" y="334.00" width="2.93" height="18.00" fill="#fff" fill-opacity="0.063" filter="url(#b0_90x3_00)"/>
<rect x="357.59" y="334.00" width="3.00" height="18.00" fill="#fff" fill-opacity="0.031" filter="url(#b0_90x3_00)"/>
<rect x="360.59" y="334.00" width="3.41" height="18.00" fill="#fff" fill-opacity="0.000" filter="url(#b0_90x3_00)"/>
<rect x="364.00" y="334.00" width="2.94" height="18.00" fill="#fff" fill-opacity="0.032" filter="url(#b0_90x3_00)"/>
<rect x="366.94" y="334.00" width="1.55" height="18.00" fill="#fff" fill-opacity="0.078" filter="url(#b0_90x3_00)"/>
<rect x="379.51" y="334.00" width="3.19" height="18.00" fill="#fff" fill-opacity="0.003" filter="url(#b0_90x3_00)"/>
<rect x="382.70" y="334.00" width="1.82" height="18.00" fill="#fff" fill-opacity="0.003" filter="url(#b0_90x3_00)"/>
<rect x="384.52" y="334.00" width="3.32" height="18.00" fill="#fff" fill-opacity="0.056" filter="url(#b0_90x3_00)"/>
<rect x="387.84" y="334.00" width="3.14" height="18.00" fill="#fff" fill-opacity="0.134" filter="url(#b0_90x3_00)"/>
<rect x="390.98" y="334.00" width="2.49" height="18.00" fill="#fff" fill-opacity="0.035" filter="url(#b0_90x3_00)"/>
<rect x="393.48" y="334.00" width="2.28" height="18.00" fill="#fff" fill-opacity="0.019" filter="url(#b0_90x3_00)"/>
<rect x="395.75" y="334.00" width="2.69" height="18.00" fill="#fff" fill-opacity="0.133" filter="url(#b0_90x3_00)"/>
<rect x="398.44" y="334.00" width="2.51" height="18.00" fill="#fff" fill-opacity="0.092" filter="url(#b0_90x3_00)"/>
<rect x="400.95" y="334.00" width="3.28" height="18.00" fill="#fff" fill-opacity="0.106" filter="url(#b0_90x3_00)"/>
<rect x="404.23" y="334.00" width="2.84" height="18.00" fill="#fff" fill-opacity="0.057" filter="url(#b0_90x3_00)"/>
<rect x="407.07" y="334.00" width="1.70" height="18.00" fill="#fff" fill-opacity="0.032" filter="url(#b0_90x3_00)"/>
<rect x="408.76" y="334.00" width="3.21" height="18.00" fill="#fff" fill-opacity="0.041" filter="url(#b0_90x3_00)"/>
<rect x="411.97" y="334.00" width="2.86" height="18.00" fill="#fff" fill-opacity="0.019" filter="url(#b0_90x3_00)"/>
<rect x="414.83" y="334.00" width="2.67" height="18.00" fill="#fff" fill-opacity="0.014" filter="url(#b0_90x3_00)"/>
<rect x="417.50" y="334.00" width="3.07" height="18.00" fill="#fff" fill-opacity="0.103" filter="url(#b0_90x3_00)"/>
<rect x="420.57" y="334.00" width="1.54" height="18.00" fill="#fff" fill-opacity="0.076" filter="url(#b0_90x3_00)"/>
<rect x="422.11" y="334.00" width="1.69" height="18.00" fill="#fff" fill-opacity="0.129" filter="url(#b0_90x3_00)"/>
<rect x="423.80" y="334.00" width="1.85" height="18.00" fill="#fff" fill-opacity="0.006" filter="url(#b0_90x3_00)"/>
<rect x="425.65" y="334.00" width="3.29" height="18.00" fill="#fff" fill-opacity="0.067" filter="url(#b0_90x3_00)"/>
<rect x="428.93" y="334.00" width="1.52" height="18.00" fill="#fff" fill-opacity="0.045" filter="url(#b0_90x3_00)"/>
<rect x="430.45" y="334.00" width="3.16" height="18.00" fill="#fff" fill-opacity="0.009" filter="url(#b0_90x3_00)"/>
<rect x="433.61" y="334.00" width="3.01" height="18.00" fill="#fff" fill-opacity="0.022" filter="url(#b0_90x3_00)"/>
<rect x="436.62" y="334.00" width="2.38" height="18.00" fill="#fff" fill-opacity="0.035" filter="url(#b0_90x3_00)"/>
<rect x="439.00" y="334.00" width="1.61" height="18.00" fill="#fff" fill-opacity="0.034" filter="url(#b0_90x3_00)"/>
<rect x="440.61" y="334.00" width="2.54" height="18.00" fill="#fff" fill-opacity="0.068" filter="url(#b0_90x3_00)"/>
<rect x="443.15" y="334.00" width="2.58" height="18.00" fill="#fff" fill-opacity="0.010" filter="url(#b0_90x3_00)"/>
<rect x="445.73" y="334.00" width="2.71" height="18.00" fill="#fff" fill-opacity="0.022" filter="url(#b0_90x3_00)"/>
<rect x="448.44" y="334.00" width="3.30" height="18.00" fill="#fff" fill-opacity="0.004" filter="url(#b0_90x3_00)"/>
<rect x="451.74" y="334.00" width="3.05" height="18.00" fill="#fff" fill-opacity="0.003" filter="url(#b0_90x3_00)"/>
<rect x="454.80" y="334.00" width="2.63" height="18.00" fill="#fff" fill-opacity="0.029" filter="url(#b0_90x3_00)"/>
<rect x="457.42" y="334.00" width="2.42" height="18.00" fill="#fff" fill-opacity="0.080" filter="url(#b0_90x3_00)"/>
<rect x="459.84" y="334.00" width="3.10" height="18.00" fill="#fff" fill-opacity="0.000" filter="url(#b0_90x3_00)"/>
<rect x="462.94" y="334.00" width="3.27" height="18.00" fill="#fff" fill-opacity="0.074" filter="url(#b0_90x3_00)"/>
<rect x="466.21" y="334.00" width="1.71" height="18.00" fill="#fff" fill-opacity="0.081" filter="url(#b0_90x3_00)"/>
<rect x="467.91" y="334.00" width="3.12" height="18.00" fill="#fff" fill-opacity="0.032" filter="url(#b0_90x3_00)"/>
<rect x="471.03" y="334.00" width="3.26" height="18.00" fill="#fff" fill-opacity="0.009" filter="url(#b0_90x3_00)"/>
<rect x="474.29" y="334.00" width="2.41" height="18.00" fill="#fff" fill-opacity="0.017" filter="url(#b0_90x3_00)"/>
<rect x="476.70" y="334.00" width="3.15" height="18.00" fill="#fff" fill-opacity="0.024" filter="url(#b0_90x3_00)"/>
<rect x="479.85" y="334.00" width="2.00" height="18.00" fill="#fff" fill-opacity="0.140" filter="url(#b0_90x3_00)"/>
<rect x="481.84" y="334.00" width="2.32" height="18.00" fill="#fff" fill-opacity="0.044" filter="url(#b0_90x3_00)"/>
<rect x="484.17" y="334.00" width="2.90" height="18.00" fill="#fff" fill-opacity="0.011" filter="url(#b0_90x3_00)"/>
<rect x="487.07" y="334.00" width="3.12" height="18.00" fill="#fff" fill-opacity="0.080" filter="url(#b0_90x3_00)"/>
<rect x="490.19" y="334.00" width="2.49" height="18.00" fill="#fff" fill-opacity="0.100" filter="url(#b0_90x3_00)"/>
<rect x="492.68" y="334.00" width="3.25" height="18.00" fill="#fff" fill-opacity="0.004" filter="url(#b0_90x3_00)"/>
<rect x="495.93" y="334.00" width="3.42" height="18.00" fill="#fff" fill-opacity="0.053" filter="url(#b0_90x3_00)"/>
<rect x="517.80" y="334.00" width="2.02" height="18.00" fill="#fff" fill-opacity="0.015" filter="url(#b0_90x3_00)"/>
<rect x="519.82" y="334.00" width="2.59" height="18.00" fill="#fff" fill-opacity="0.050" filter="url(#b0_90x3_00)"/>
<rect x="522.40" y="334.00" width="2.30" height="18.00" fill="#fff" fill-opacity="0.093" filter="url(#b0_90x3_00)"/>
<rect x="524.70" y="334.00" width="1.80" height="18.00" fill="#fff" fill-opacity="0.041" filter="url(#b0_90x3_00)"/>
<rect x="526.49" y="334.00" width="2.38" height="18.00" fill="#fff" fill-opacity="0.067" filter="url(#b0_90x3_00)"/>
<rect x="528.88" y="334.00" width="3.24" height="18.00" fill="#fff" fill-opacity="0.063" filter="url(#b0_90x3_00)"/>
<rect x="532.11" y="334.00" width="1.50" height="18.00" fill="#fff" fill-opacity="0.064" filter="url(#b0_90x3_00)"/>
<rect x="533.62" y="334.00" width="2.22" height="18.00" fill="#fff" fill-opacity="0.038" filter="url(#b0_90x3_00)"/>
<rect x="535.83" y="334.00" width="2.64" height="18.00" fill="#fff" fill-opacity="0.015" filter="url(#b0_90x3_00)"/>
<rect x="538.48" y="334.00" width="3.09" height="18.00" fill="#fff" fill-opacity="0.032" filter="url(#b0_90x3_00)"/>
<rect x="541.57" y="334.00" width="2.23" height="18.00" fill="#fff" fill-opacity="0.056" filter="url(#b0_90x3_00)"/>
<rect x="543.80" y="334.00" width="1.60" height="18.00" fill="#fff" fill-opacity="0.026" filter="url(#b0_90x3_00)"/>
<rect x="545.40" y="334.00" width="3.48" height="18.00" fill="#fff" fill-opacity="0.006" filter="url(#b0_90x3_00)"/>
<rect x="548.89" y="334.00" width="2.28" height="18.00" fill="#fff" fill-opacity="0.095" filter="url(#b0_90x3_00)"/>
<rect x="551.17" y="334.00" width="2.45" height="18.00" fill="#fff" fill-opacity="0.068" filter="url(#b0_90x3_00)"/>
<rect x="553.61" y="334.00" width="3.19" height="18.00" fill="#fff" fill-opacity="0.108" filter="url(#b0_90x3_00)"/>
<rect x="556.81" y="334.00" width="2.36" height="18.00" fill="#fff" fill-opacity="0.029" filter="url(#b0_90x3_00)"/>
<rect x="559.16" y="334.00" width="1.52" height="18.00" fill="#fff" fill-opacity="0.090" filter="url(#b0_90x3_00)"/>
<rect x="560.69" y="334.00" width="1.78" height="18.00" fill="#fff" fill-opacity="0.044" filter="url(#b0_90x3_00)"/>
<rect x="562.47" y="334.00" width="1.75" height="18.00" fill="#fff" fill-opacity="0.090" filter="url(#b0_90x3_00)"/>
<rect x="564.21" y="334.00" width="2.42" height="18.00" fill="#fff" fill-opacity="0.005" filter="url(#b0_90x3_00)"/>
<rect x="566.63" y="334.00" width="2.67" height="18.00" fill="#fff" fill-opacity="0.004" filter="url(#b0_90x3_00)"/>
<rect x="569.30" y="334.00" width="2.20" height="18.00" fill="#fff" fill-opacity="0.022" filter="url(#b0_90x3_00)"/>
<rect x="571.50" y="334.00" width="3.02" height="18.00" fill="#fff" fill-opacity="0.065" filter="url(#b0_90x3_00)"/>
<rect x="574.52" y="334.00" width="1.93" height="18.00" fill="#fff" fill-opacity="0.027" filter="url(#b0_90x3_00)"/>
<rect x="576.45" y="334.00" width="2.40" height="18.00" fill="#fff" fill-opacity="0.106" filter="url(#b0_90x3_00)"/>
<rect x="578.84" y="334.00" width="2.20" height="18.00" fill="#fff" fill-opacity="0.092" filter="url(#b0_90x3_00)"/>
<rect x="581.04" y="334.00" width="1.64" height="18.00" fill="#fff" fill-opacity="0.006" filter="url(#b0_90x3_00)"/>
<rect x="582.69" y="334.00" width="3.05" height="18.00" fill="#fff" fill-opacity="0.031" filter="url(#b0_90x3_00)"/>
<rect x="585.74" y="334.00" width="1.59" height="18.00" fill="#fff" fill-opacity="0.013" filter="url(#b0_90x3_00)"/>
<rect x="587.33" y="334.00" width="2.35" height="18.00" fill="#fff" fill-opacity="0.004" filter="url(#b0_90x3_00)"/>
<rect x="589.68" y="334.00" width="2.25" height="18.00" fill="#fff" fill-opacity="0.139" filter="url(#b0_90x3_00)"/>
<rect x="591.93" y="334.00" width="1.65" height="18.00" fill="#fff" fill-opacity="0.030" filter="url(#b0_90x3_00)"/>
<rect x="593.58" y="334.00" width="2.14" height="18.00" fill="#fff" fill-opacity="0.008" filter="url(#b0_90x3_00)"/>
<rect x="595.72" y="334.00" width="3.39" height="18.00" fill="#fff" fill-opacity="0.020" filter="url(#b0_90x3_00)"/>
<rect x="599.11" y="334.00" width="1.89" height="18.00" fill="#fff" fill-opacity="0.041" filter="url(#b0_90x3_00)"/>
<rect x="601.00" y="334.00" width="1.64" height="18.00" fill="#fff" fill-opacity="0.046" filter="url(#b0_90x3_00)"/>
<rect x="602.64" y="334.00" width="1.85" height="18.00" fill="#fff" fill-opacity="0.049" filter="url(#b0_90x3_00)"/>
<rect x="337.30" y="331.00" width="30.70" height="21.00" fill="url(#gd3)" />
<rect x="378.90" y="331.00" width="117.30" height="21.00" fill="url(#gd3b)" />
<rect x="517.50" y="331.00" width="87.50" height="21.00" fill="url(#gd3c)" />
<ellipse cx="507.00" cy="336.00" rx="2.50" ry="5.00" fill="#fff" fill-opacity="0.300" filter="url(#b1_80)"/>
<ellipse cx="516.00" cy="340.00" rx="2.50" ry="8.00" fill="#fff" fill-opacity="0.300" filter="url(#b1_80)"/>
<rect x="349.50" y="332.00" width="3.00" height="18.00" fill="#fff" fill-opacity="0.180" filter="url(#b1_20)"/>
<rect x="366.50" y="332.00" width="3.00" height="18.00" fill="#fff" fill-opacity="0.180" filter="url(#b1_20)"/>
<rect x="428.50" y="332.00" width="3.00" height="18.00" fill="#fff" fill-opacity="0.180" filter="url(#b1_20)"/>
<rect x="450.50" y="332.00" width="3.00" height="18.00" fill="#fff" fill-opacity="0.180" filter="url(#b1_20)"/>
<rect x="472.50" y="332.00" width="3.00" height="18.00" fill="#fff" fill-opacity="0.180" filter="url(#b1_20)"/>
<rect x="525.50" y="332.00" width="3.00" height="18.00" fill="#fff" fill-opacity="0.180" filter="url(#b1_20)"/>
<rect x="538.50" y="332.00" width="3.00" height="18.00" fill="#fff" fill-opacity="0.180" filter="url(#b1_20)"/>
<rect x="583.50" y="332.00" width="3.00" height="18.00" fill="#fff" fill-opacity="0.180" filter="url(#b1_20)"/>
<ellipse cx="344.00" cy="351.50" rx="4.00" ry="4.50" fill="#fff" fill-opacity="1.000" filter="url(#b1_40)"/>
<ellipse cx="350.00" cy="351.50" rx="3.00" ry="4.50" fill="#fff" fill-opacity="0.800" filter="url(#b1_40)"/>
<ellipse cx="356.00" cy="351.50" rx="4.00" ry="4.50" fill="#fff" fill-opacity="1.000" filter="url(#b1_40)"/>
<ellipse cx="384.00" cy="351.50" rx="4.00" ry="4.50" fill="#fff" fill-opacity="1.000" filter="url(#b1_40)"/>
<ellipse cx="390.00" cy="351.50" rx="3.00" ry="4.50" fill="#fff" fill-opacity="0.900" filter="url(#b1_40)"/>
<ellipse cx="398.00" cy="351.50" rx="5.00" ry="4.50" fill="#fff" fill-opacity="0.750" filter="url(#b1_40)"/>
<ellipse cx="405.00" cy="351.50" rx="4.00" ry="4.50" fill="#fff" fill-opacity="0.800" filter="url(#b1_40)"/>
<ellipse cx="421.00" cy="351.50" rx="4.00" ry="4.50" fill="#fff" fill-opacity="0.850" filter="url(#b1_40)"/>
<ellipse cx="433.00" cy="351.50" rx="3.00" ry="4.50" fill="#fff" fill-opacity="0.500" filter="url(#b1_40)"/>
<ellipse cx="443.00" cy="351.50" rx="4.00" ry="4.50" fill="#fff" fill-opacity="0.800" filter="url(#b1_40)"/>
<ellipse cx="452.00" cy="351.50" rx="4.00" ry="4.50" fill="#fff" fill-opacity="0.600" filter="url(#b1_40)"/>
<ellipse cx="463.00" cy="351.50" rx="4.00" ry="4.50" fill="#fff" fill-opacity="0.750" filter="url(#b1_40)"/>
<ellipse cx="469.00" cy="351.50" rx="4.00" ry="4.50" fill="#fff" fill-opacity="0.800" filter="url(#b1_40)"/>
<ellipse cx="480.00" cy="351.50" rx="6.00" ry="4.50" fill="#fff" fill-opacity="1.000" filter="url(#b1_40)"/>
<ellipse cx="486.00" cy="351.50" rx="4.00" ry="4.50" fill="#fff" fill-opacity="1.000" filter="url(#b1_40)"/>
<ellipse cx="521.00" cy="351.50" rx="6.00" ry="4.50" fill="#fff" fill-opacity="1.000" filter="url(#b1_40)"/>
<ellipse cx="527.00" cy="351.50" rx="5.00" ry="4.50" fill="#fff" fill-opacity="1.000" filter="url(#b1_40)"/>
<ellipse cx="535.00" cy="351.50" rx="5.00" ry="4.50" fill="#fff" fill-opacity="0.800" filter="url(#b1_40)"/>
<ellipse cx="562.00" cy="351.50" rx="9.00" ry="4.50" fill="#fff" fill-opacity="1.000" filter="url(#b1_40)"/>
<ellipse cx="568.00" cy="351.50" rx="8.00" ry="4.50" fill="#fff" fill-opacity="1.000" filter="url(#b1_40)"/>
<ellipse cx="580.00" cy="351.50" rx="6.00" ry="4.50" fill="#fff" fill-opacity="0.800" filter="url(#b1_40)"/>
<ellipse cx="590.00" cy="351.50" rx="4.00" ry="4.50" fill="#fff" fill-opacity="0.850" filter="url(#b1_40)"/>
<ellipse cx="598.00" cy="351.50" rx="5.00" ry="4.50" fill="#fff" fill-opacity="1.000" filter="url(#b1_40)"/>
<ellipse cx="523.00" cy="346.00" rx="6.00" ry="4.50" fill="#fff" fill-opacity="1.000" filter="url(#b1_40)"/>
<ellipse cx="523.00" cy="343.00" rx="8.00" ry="7.00" fill="#fff" fill-opacity="0.350" filter="url(#b2_20)"/>
<rect x="556.00" y="345.00" width="19.00" height="7.00" fill="#fff" fill-opacity="1.000" filter="url(#b0_80)"/>
<polyline points="376.00,332.00 377.00,340.00 378.00,346.00" fill="none" stroke="#fff" stroke-opacity="0.600" stroke-width="3.00" stroke-linejoin="round" stroke-linecap="round" filter="url(#b1_30)"/>
</g></g>
<rect x="368.0" y="271.9" width="10.9" height="27.7" fill="#d3d3d3" opacity="0.53"/>
<rect x="368.0" y="304.5" width="10.9" height="24.2" fill="#d3d3d3" opacity="0.53"/>
<rect x="368.0" y="331.8" width="10.9" height="19.2" fill="#d3d3d3" opacity="0.53"/>
<rect x="496.2" y="271.9" width="21.3" height="27.7" fill="#d3d3d3" opacity="0.53"/>
<rect x="496.2" y="304.5" width="21.3" height="24.2" fill="#d3d3d3" opacity="0.53"/>
<rect x="496.2" y="331.8" width="21.3" height="19.2" fill="#d3d3d3" opacity="0.53"/>
<rect x="339.3" y="302.2" width="263.7" height="2.4" fill="#0cc8d0"/>
<text x="604.60" y="280.70" font-size="11" fill="#111" text-anchor="start" font-weight="bold" >L</text>
<text x="604.60" y="313.10" font-size="11" fill="#111" text-anchor="start" font-weight="bold" >R</text>
<text x="604.60" y="348.90" font-size="11" fill="#111" text-anchor="start" font-weight="bold" >C</text>
<path d="M606.80,294.30L606.80,300.30M604.20,295.80L609.40,298.80M604.20,298.80L609.40,295.80" stroke="#1a1a1a" stroke-width="1.1" stroke-linecap="butt"/>
<path d="M606.80,322.90L606.80,328.90M604.20,324.40L609.40,327.40M604.20,327.40L609.40,324.40" stroke="#1a1a1a" stroke-width="1.1" stroke-linecap="butt"/>
<path d="M606.80,332.70L606.80,338.70M604.20,334.20L609.40,337.20M604.20,337.20L609.40,334.20" stroke="#1a1a1a" stroke-width="1.1" stroke-linecap="butt"/>
<text x="324.10" y="277.60" font-size="10.3" fill="#333333" text-anchor="end" textLength="17.1" lengthAdjust="spacingAndGlyphs" >300</text>
<text x="324.10" y="303.80" font-size="10.3" fill="#333333" text-anchor="end" textLength="17.1" lengthAdjust="spacingAndGlyphs" >200</text>
<text x="324.10" y="329.40" font-size="10.3" fill="#333333" text-anchor="end" textLength="17.1" lengthAdjust="spacingAndGlyphs" >100</text>
<text x="324.10" y="355.10" font-size="10.3" fill="#333333" text-anchor="end" textLength="5.2" lengthAdjust="spacingAndGlyphs" >0</text>
<text x="286.60" y="313.50" font-size="10.6" fill="#333333" text-anchor="middle" textLength="44" lengthAdjust="spacingAndGlyphs" transform="rotate(-90 286.60 313.50)" >Position</text>
<text x="298.20" y="310.30" font-size="10.6" fill="#333333" text-anchor="middle" textLength="26.6" lengthAdjust="spacingAndGlyphs" transform="rotate(-90 298.20 310.30)" >[cm]</text>
<rect x="626.2" y="278.0" width="8.50" height="72.40" fill="url(#inf)"/>
<polygon points="626.2,278.0 630.45,272.2 634.7,278.0" fill="#fcffa4"/>
<path d="M626.2,350.4 L626.2,278.0 L630.45,272.2 L634.7,278.0 L634.7,350.4 Z" fill="none" stroke="#222" stroke-width="0.8"/>
<line x1="634.7" y1="288.9" x2="637.2" y2="288.9" stroke="#333" stroke-width="0.8"/>
<text x="641.70" y="292.30" font-size="9.7" fill="#333333" text-anchor="start" textLength="17.1" lengthAdjust="spacingAndGlyphs" >0.10</text>
<line x1="634.7" y1="319.8" x2="637.2" y2="319.8" stroke="#333" stroke-width="0.8"/>
<text x="641.70" y="323.20" font-size="9.7" fill="#333333" text-anchor="start" textLength="17.1" lengthAdjust="spacingAndGlyphs" >0.05</text>
<line x1="634.7" y1="350.4" x2="637.2" y2="350.4" stroke="#333" stroke-width="0.8"/>
<text x="641.70" y="353.80" font-size="9.7" fill="#333333" text-anchor="start" textLength="17.1" lengthAdjust="spacingAndGlyphs" >0.00</text>
<text x="684.70" y="312.00" font-size="11" fill="#333333" text-anchor="middle" textLength="81" lengthAdjust="spacingAndGlyphs" transform="rotate(-90 684.70 312.00)" >Posterior Prob.</text>
<polygon points="339.00,395.50 339.00,390.20 339.50,390.19 340.00,390.16 340.50,390.10 341.00,390.03 341.50,389.95 342.00,389.85 342.50,389.75 343.00,389.63 343.50,389.51 344.00,389.38 344.50,389.25 345.00,389.12 345.50,388.99 346.00,388.87 346.50,388.75 347.00,388.65 347.50,388.55 348.00,388.47 348.50,388.40 349.00,388.34 349.50,388.31 350.00,388.30 350.50,388.29 351.00,388.28 351.50,388.25 352.00,388.21 352.50,388.17 353.00,388.12 353.50,388.06 354.00,388.00 354.50,387.93 355.00,387.87 355.50,387.80 356.00,387.73 356.50,387.67 357.00,387.60 357.50,387.54 358.00,387.48 358.50,387.43 359.00,387.39 359.50,387.35 360.00,387.32 360.50,387.31 361.00,387.30 361.50,387.31 362.00,387.32 362.50,387.35 363.00,387.38 363.50,387.42 364.00,387.46 364.50,387.52 365.00,387.57 365.50,387.63 366.00,387.69 366.50,387.75 367.00,387.81 367.50,387.87 368.00,387.93 368.50,387.98 369.00,388.04 369.50,388.08 370.00,388.12 370.50,388.15 371.00,388.18 371.50,388.19 372.00,388.20 372.50,388.21 373.00,388.26 373.50,388.32 374.00,388.41 374.50,388.52 375.00,388.65 375.50,388.79 376.00,388.95 376.50,389.11 377.00,389.29 377.50,389.47 378.00,389.66 378.50,389.85 379.00,390.04 379.50,390.23 380.00,390.41 380.50,390.59 381.00,390.75 381.50,390.91 382.00,391.05 382.50,391.18 383.00,391.29 383.50,391.38 384.00,391.44 384.50,391.49 385.00,391.50 385.50,391.51 386.00,391.53 386.50,391.57 387.00,391.62 387.50,391.69 388.00,391.76 388.50,391.84 389.00,391.94 389.50,392.04 390.00,392.15 390.50,392.26 391.00,392.38 391.50,392.50 392.00,392.63 392.50,392.75 393.00,392.87 393.50,393.00 394.00,393.12 394.50,393.24 395.00,393.35 395.50,393.46 396.00,393.56 396.50,393.66 397.00,393.74 397.50,393.81 398.00,393.88 398.50,393.93 399.00,393.97 399.50,393.99 400.00,394.00 400.50,394.00 401.00,394.02 401.50,394.04 402.00,394.06 402.50,394.09 403.00,394.13 403.50,394.17 404.00,394.21 404.50,394.26 405.00,394.30 405.50,394.34 406.00,394.39 406.50,394.43 407.00,394.47 407.50,394.51 408.00,394.54 408.50,394.56 409.00,394.58 409.50,394.60 410.00,394.60 410.50,394.60 411.00,394.60 411.50,394.60 412.00,394.60 412.50,394.60 413.00,394.60 413.50,394.60 414.00,394.60 414.50,394.60 415.00,394.60 415.50,394.59 416.00,394.59 416.50,394.59 417.00,394.59 417.50,394.59 418.00,394.59 418.50,394.59 419.00,394.59 419.50,394.58 420.00,394.58 420.50,394.58 421.00,394.58 421.50,394.58 422.00,394.58 422.50,394.57 423.00,394.57 423.50,394.57 424.00,394.57 424.50,394.57 425.00,394.56 425.50,394.56 426.00,394.56 426.50,394.56 427.00,394.56 427.50,394.55 428.00,394.55 428.50,394.55 429.00,394.55 429.50,394.55 430.00,394.54 430.50,394.54 431.00,394.54 431.50,394.54 432.00,394.54 432.50,394.53 433.00,394.53 433.50,394.53 434.00,394.53 434.50,394.53 435.00,394.52 435.50,394.52 436.00,394.52 436.50,394.52 437.00,394.52 437.50,394.52 438.00,394.51 438.50,394.51 439.00,394.51 439.50,394.51 440.00,394.51 440.50,394.51 441.00,394.51 441.50,394.51 442.00,394.50 442.50,394.50 443.00,394.50 443.50,394.50 444.00,394.50 444.50,394.50 445.00,394.50 445.50,394.50 446.00,394.50 446.50,394.50 447.00,394.50 447.50,394.49 448.00,394.47 448.50,394.44 449.00,394.40 449.50,394.34 450.00,394.28 450.50,394.20 451.00,394.12 451.50,394.03 452.00,393.93 452.50,393.83 453.00,393.72 453.50,393.61 454.00,393.49 454.50,393.37 455.00,393.25 455.50,393.12 456.00,393.00 456.50,392.88 457.00,392.75 457.50,392.63 458.00,392.51 458.50,392.39 459.00,392.28 459.50,392.17 460.00,392.07 460.50,391.97 461.00,391.88 461.50,391.80 462.00,391.72 462.50,391.66 463.00,391.60 463.50,391.56 464.00,391.53 464.50,391.51 465.00,391.50 465.50,391.49 466.00,391.46 466.50,391.42 467.00,391.36 467.50,391.29 468.00,391.21 468.50,391.11 469.00,391.01 469.50,390.90 470.00,390.77 470.50,390.65 471.00,390.51 471.50,390.38 472.00,390.24 472.50,390.10 473.00,389.96 473.50,389.82 474.00,389.69 474.50,389.55 475.00,389.43 475.50,389.30 476.00,389.19 476.50,389.09 477.00,388.99 477.50,388.91 478.00,388.84 478.50,388.78 479.00,388.74 479.50,388.71 480.00,388.70 480.50,388.70 481.00,388.68 481.50,388.66 482.00,388.64 482.50,388.61 483.00,388.57 483.50,388.53 484.00,388.49 484.50,388.44 485.00,388.40 485.50,388.36 486.00,388.31 486.50,388.27 487.00,388.23 487.50,388.19 488.00,388.16 488.50,388.14 489.00,388.12 489.50,388.10 490.00,388.10 490.50,388.10 491.00,388.11 491.50,388.13 492.00,388.15 492.50,388.18 493.00,388.21 493.50,388.24 494.00,388.28 494.50,388.31 495.00,388.35 495.50,388.39 496.00,388.42 496.50,388.46 497.00,388.49 497.50,388.52 498.00,388.55 498.50,388.57 499.00,388.59 499.50,388.60 500.00,388.60 500.50,388.61 501.00,388.64 501.50,388.68 502.00,388.74 502.50,388.81 503.00,388.90 503.50,389.00 504.00,389.11 504.50,389.23 505.00,389.35 505.50,389.48 506.00,389.62 506.50,389.76 507.00,389.91 507.50,390.05 508.00,390.19 508.50,390.34 509.00,390.48 509.50,390.62 510.00,390.75 510.50,390.87 511.00,390.99 511.50,391.10 512.00,391.20 512.50,391.29 513.00,391.36 513.50,391.42 514.00,391.46 514.50,391.49 515.00,391.50 515.50,391.51 516.00,391.55 516.50,391.60 517.00,391.67 517.50,391.76 518.00,391.86 518.50,391.98 519.00,392.11 519.50,392.25 520.00,392.39 520.50,392.54 521.00,392.69 521.50,392.85 522.00,393.01 522.50,393.16 523.00,393.31 523.50,393.45 524.00,393.59 524.50,393.72 525.00,393.84 525.50,393.94 526.00,394.03 526.50,394.10 527.00,394.15 527.50,394.19 528.00,394.20 528.50,394.20 529.00,394.20 529.50,394.20 530.00,394.20 530.50,394.20 531.00,394.20 531.50,394.20 532.00,394.20 532.50,394.21 533.00,394.21 533.50,394.21 534.00,394.21 534.50,394.21 535.00,394.21 535.50,394.21 536.00,394.22 536.50,394.22 537.00,394.22 537.50,394.22 538.00,394.22 538.50,394.23 539.00,394.23 539.50,394.23 540.00,394.23 540.50,394.23 541.00,394.24 541.50,394.24 542.00,394.24 542.50,394.24 543.00,394.25 543.50,394.25 544.00,394.25 544.50,394.25 545.00,394.25 545.50,394.26 546.00,394.26 546.50,394.26 547.00,394.26 547.50,394.27 548.00,394.27 548.50,394.27 549.00,394.27 549.50,394.27 550.00,394.28 550.50,394.28 551.00,394.28 551.50,394.28 552.00,394.28 552.50,394.29 553.00,394.29 553.50,394.29 554.00,394.29 554.50,394.29 555.00,394.29 555.50,394.29 556.00,394.30 556.50,394.30 557.00,394.30 557.50,394.30 558.00,394.30 558.50,394.30 559.00,394.30 559.50,394.30 560.00,394.30 560.50,394.29 561.00,394.26 561.50,394.22 562.00,394.16 562.50,394.09 563.00,394.01 563.50,393.91 564.00,393.81 564.50,393.70 565.00,393.57 565.50,393.45 566.00,393.31 566.50,393.18 567.00,393.04 567.50,392.90 568.00,392.76 568.50,392.62 569.00,392.49 569.50,392.35 570.00,392.23 570.50,392.10 571.00,391.99 571.50,391.89 572.00,391.79 572.50,391.71 573.00,391.64 573.50,391.58 574.00,391.54 574.50,391.51 575.00,391.50 575.50,391.49 576.00,391.46 576.50,391.42 577.00,391.35 577.50,391.28 578.00,391.19 578.50,391.09 579.00,390.97 579.50,390.85 580.00,390.72 580.50,390.59 581.00,390.44 581.50,390.30 582.00,390.15 582.50,390.00 583.00,389.85 583.50,389.70 584.00,389.56 584.50,389.41 585.00,389.28 585.50,389.15 586.00,389.03 586.50,388.91 587.00,388.81 587.50,388.72 588.00,388.65 588.50,388.58 589.00,388.54 589.50,388.51 590.00,388.50 590.50,388.50 591.00,388.50 591.50,388.49 592.00,388.49 592.50,388.48 593.00,388.47 593.50,388.47 594.00,388.46 594.50,388.45 595.00,388.44 595.50,388.43 596.00,388.42 596.50,388.41 597.00,388.39 597.50,388.38 598.00,388.37 598.50,388.36 599.00,388.35 599.50,388.34 600.00,388.33 600.50,388.33 601.00,388.32 601.50,388.31 602.00,388.31 602.50,388.30 603.00,388.30 603.50,388.30 603.50,395.50" fill="#d6d6d6"/>
<line x1="339.1" y1="367.7" x2="339.1" y2="396.5" stroke="#222" stroke-width="2.2"/>
<line x1="338" y1="395.5" x2="604" y2="395.5" stroke="#222" stroke-width="2.0"/>
<text x="324.10" y="372.80" font-size="10.3" fill="#333333" text-anchor="end" textLength="5.2" lengthAdjust="spacingAndGlyphs" >5</text>
<text x="324.10" y="399.20" font-size="10.3" fill="#333333" text-anchor="end" textLength="5.2" lengthAdjust="spacingAndGlyphs" >0</text>
<text x="286.50" y="383.80" font-size="10.6" fill="#333333" text-anchor="middle" textLength="35.3" lengthAdjust="spacingAndGlyphs" transform="rotate(-90 286.50 383.80)" >Speed</text>
<text x="298.70" y="380.70" font-size="10.6" fill="#333333" text-anchor="middle" textLength="43" lengthAdjust="spacingAndGlyphs" transform="rotate(-90 298.70 380.70)" >[cm / s]</text>
<text x="338.70" y="417.30" font-size="10.3" fill="#333333" text-anchor="middle" textLength="14.2" lengthAdjust="spacingAndGlyphs" >0.0</text>
<text x="426.30" y="417.30" font-size="10.3" fill="#333333" text-anchor="middle" textLength="14.2" lengthAdjust="spacingAndGlyphs" >1.0</text>
<text x="513.80" y="417.30" font-size="10.3" fill="#333333" text-anchor="middle" textLength="14.2" lengthAdjust="spacingAndGlyphs" >2.0</text>
<text x="601.30" y="417.30" font-size="10.3" fill="#333333" text-anchor="middle" textLength="14.2" lengthAdjust="spacingAndGlyphs" >3.0</text>
<text x="448.60" y="431.50" font-size="11.6" fill="#333333" text-anchor="start" textLength="45.4" lengthAdjust="spacingAndGlyphs" >Time [s]</text>
<g clip-path="url(#c7)"><g filter="url(#cmap)"><rect x="49.70" y="464.80" width="156.30" height="31.90" fill="rgb(3,3,3)"/>
<rect x="51.70" y="465.80" width="152.30" height="2.60" fill="#fff" fill-opacity="0.280" filter="url(#b0_70)"/>
<ellipse cx="190.00" cy="480.00" rx="8.00" ry="8.00" fill="#fff" fill-opacity="0.050" filter="url(#b3_00)"/>
</g></g>
<g clip-path="url(#c8)"><g filter="url(#cmap)"><rect x="49.70" y="496.00" width="156.30" height="35.90" fill="rgb(3,3,3)"/>
<ellipse cx="115.00" cy="521.00" rx="4.50" ry="6.00" fill="#fff" fill-opacity="0.200" filter="url(#b2_20)"/>
</g></g>
<g clip-path="url(#c9)"><g filter="url(#cmap)"><rect x="49.70" y="531.40" width="156.30" height="27.40" fill="rgb(3,3,3)"/>
<rect x="51.70" y="540.00" width="54.30" height="17.50" fill="url(#fe1a)" />
<rect x="153.00" y="541.00" width="51.00" height="16.50" fill="url(#fe1b)" />
<rect x="121.00" y="544.50" width="33.00" height="7.00" fill="#fff" fill-opacity="0.220" filter="url(#b1_60)"/>
<rect x="121.60" y="550.60" width="32.30" height="7.00" fill="#fff" fill-opacity="1.000" filter="url(#b0_40)"/>
<polyline points="106.00,533.00 111.00,540.00 116.00,548.00 121.00,552.00" fill="none" stroke="#fff" stroke-opacity="0.350" stroke-width="7.00" stroke-linejoin="round" stroke-linecap="round" filter="url(#b2_20)"/>
<rect x="104.00" y="543.00" width="18.00" height="14.00" fill="#fff" fill-opacity="0.450" filter="url(#b1_80)"/>
</g></g>
<rect x="105.2" y="466.8" width="48.7" height="27.9" fill="#d3d3d3" opacity="0.53"/>
<rect x="105.2" y="498.0" width="48.7" height="31.9" fill="#d3d3d3" opacity="0.53"/>
<rect x="105.2" y="533.4" width="48.7" height="23.4" fill="#d3d3d3" opacity="0.53"/>
<rect x="51.7" y="461.9" width="152.3" height="4.9" fill="#02cdd2"/>
<text x="98.40" y="454.90" font-size="11.6" fill="#333333" text-anchor="start" textLength="58.79999999999998" lengthAdjust="spacingAndGlyphs" >Stationary</text>
<text x="46.80" y="466.50" font-size="10.3" fill="#333333" text-anchor="end" textLength="17.0" lengthAdjust="spacingAndGlyphs" >300</text>
<text x="46.80" y="497.90" font-size="10.3" fill="#333333" text-anchor="end" textLength="17.0" lengthAdjust="spacingAndGlyphs" >200</text>
<text x="46.80" y="529.50" font-size="10.3" fill="#333333" text-anchor="end" textLength="17.0" lengthAdjust="spacingAndGlyphs" >100</text>
<text x="46.80" y="560.60" font-size="10.3" fill="#333333" text-anchor="end" textLength="5.2" lengthAdjust="spacingAndGlyphs" >0</text>
<text x="19.40" y="513.10" font-size="11.6" fill="#333333" text-anchor="middle" textLength="74" lengthAdjust="spacingAndGlyphs" transform="rotate(-90 19.40 513.10)" >Position (cm)</text>
<rect x="51.7" y="571.2" width="52.4" height="3.0" fill="#111"/>
<text x="77.50" y="585.60" font-size="10.2" fill="#333333" text-anchor="middle" textLength="33.5" lengthAdjust="spacingAndGlyphs" >100 ms</text>
<g clip-path="url(#c10)"><g filter="url(#cmap)"><rect x="278.00" y="464.80" width="155.70" height="31.90" fill="rgb(3,3,3)"/>
<rect x="280.00" y="465.80" width="28.00" height="2.80" fill="#fff" fill-opacity="0.350" filter="url(#b0_80)"/>
<rect x="404.00" y="465.80" width="28.00" height="2.40" fill="#fff" fill-opacity="0.200" filter="url(#b0_80)"/>
<rect x="404.00" y="466.80" width="28.00" height="28.00" fill="#fff" fill-opacity="0.050" filter="url(#b2_00)"/>
<polyline points="322.00,466.00 328.00,467.50 336.00,469.70 345.00,472.50 355.00,475.50 364.00,478.00" fill="none" stroke="#fff" stroke-opacity="0.350" stroke-width="12.00" stroke-linejoin="round" stroke-linecap="round" filter="url(#b2_60)"/>
<polyline points="322.00,466.00 328.00,467.50 336.00,469.70 345.00,472.50 355.00,475.50 364.00,478.00" fill="none" stroke="#fff" stroke-opacity="0.900" stroke-width="7.00" stroke-linejoin="round" stroke-linecap="round" filter="url(#b1_60)"/>
<polyline points="322.00,466.00 328.00,467.50 336.00,469.70 345.00,472.50 355.00,475.50" fill="none" stroke="#fff" stroke-opacity="1.000" stroke-width="3.50" stroke-linejoin="round" stroke-linecap="round" filter="url(#b1_00)"/>
<ellipse cx="384.00" cy="479.00" rx="22.00" ry="10.00" fill="#fff" fill-opacity="0.260" filter="url(#b3_00)"/>
<polyline points="363.00,478.00 372.00,479.30 382.00,480.20 390.00,480.60" fill="none" stroke="#fff" stroke-opacity="0.720" stroke-width="5.50" stroke-linejoin="round" stroke-linecap="round" filter="url(#b1_70)"/>
<ellipse cx="393.00" cy="481.00" rx="6.00" ry="4.00" fill="#fff" fill-opacity="0.400" filter="url(#b2_00)"/>
<ellipse cx="367.00" cy="478.50" rx="4.00" ry="3.00" fill="#fff" fill-opacity="0.500" filter="url(#b1_50)"/>
</g></g>
<g clip-path="url(#c11)"><g filter="url(#cmap)"><rect x="278.00" y="496.00" width="155.70" height="35.90" fill="rgb(3,3,3)"/>
<ellipse cx="408.00" cy="520.00" rx="3.00" ry="7.00" fill="#fff" fill-opacity="0.080" filter="url(#b2_50)"/>
</g></g>
<g clip-path="url(#c12)"><g filter="url(#cmap)"><rect x="278.00" y="531.40" width="155.70" height="27.40" fill="rgb(3,3,3)"/>
<ellipse cx="404.00" cy="548.00" rx="3.00" ry="5.00" fill="#fff" fill-opacity="0.250" filter="url(#b2_00)"/>
</g></g>
<rect x="317.3" y="466.8" width="46.5" height="27.9" fill="#d3d3d3" opacity="0.53"/>
<rect x="317.3" y="498.0" width="46.5" height="31.9" fill="#d3d3d3" opacity="0.53"/>
<rect x="317.3" y="533.4" width="46.5" height="23.4" fill="#d3d3d3" opacity="0.53"/>
<rect x="280.0" y="461.9" width="151.7" height="4.9" fill="#02cdd2"/>
<text x="330.80" y="454.90" font-size="11.6" fill="#333333" text-anchor="start" textLength="49.69999999999999" lengthAdjust="spacingAndGlyphs" >Diffusive</text>
<text x="274.40" y="466.50" font-size="10.3" fill="#333333" text-anchor="end" textLength="17.0" lengthAdjust="spacingAndGlyphs" >300</text>
<text x="274.40" y="497.90" font-size="10.3" fill="#333333" text-anchor="end" textLength="17.0" lengthAdjust="spacingAndGlyphs" >200</text>
<text x="274.40" y="529.50" font-size="10.3" fill="#333333" text-anchor="end" textLength="17.0" lengthAdjust="spacingAndGlyphs" >100</text>
<text x="274.40" y="560.60" font-size="10.3" fill="#333333" text-anchor="end" textLength="5.2" lengthAdjust="spacingAndGlyphs" >0</text>
<text x="247.00" y="513.10" font-size="11.6" fill="#333333" text-anchor="middle" textLength="74" lengthAdjust="spacingAndGlyphs" transform="rotate(-90 247.00 513.10)" >Position (cm)</text>
<rect x="280.0" y="571.2" width="77.7" height="3.0" fill="#111"/>
<text x="318.00" y="585.60" font-size="10.2" fill="#333333" text-anchor="middle" textLength="33.5" lengthAdjust="spacingAndGlyphs" >100 ms</text>
<g clip-path="url(#c13)"><g filter="url(#cmap)"><rect x="506.00" y="464.80" width="155.70" height="31.90" fill="rgb(3,3,3)"/>
<rect x="508.00" y="466.80" width="45.50" height="27.90" fill="url(#ge3b1)" />
<rect x="639.00" y="466.80" width="20.70" height="27.90" fill="url(#ge3b1r)" />
<rect x="508.00" y="465.80" width="45.50" height="2.60" fill="#fff" fill-opacity="0.300" filter="url(#b0_80)"/>
<rect x="639.00" y="465.80" width="20.70" height="2.60" fill="#fff" fill-opacity="0.300" filter="url(#b0_80)"/>
<ellipse cx="524.00" cy="473.00" rx="9.00" ry="4.00" fill="#000" fill-opacity="0.700" filter="url(#b2_00)"/>
<ellipse cx="618.50" cy="469.50" rx="3.50" ry="4.00" fill="#fff" fill-opacity="0.950" filter="url(#b1_60)"/>
<ellipse cx="619.00" cy="476.00" rx="5.00" ry="9.00" fill="#fff" fill-opacity="0.300" filter="url(#b2_50)"/>
<ellipse cx="587.00" cy="493.50" rx="3.50" ry="2.50" fill="#fff" fill-opacity="0.700" filter="url(#b1_30)"/>
<ellipse cx="588.00" cy="491.00" rx="7.00" ry="5.00" fill="#fff" fill-opacity="0.200" filter="url(#b2_20)"/>
<ellipse cx="624.00" cy="496.00" rx="5.00" ry="4.00" fill="#fff" fill-opacity="0.250" filter="url(#b2_20)"/>
</g></g>
<g clip-path="url(#c14)"><g filter="url(#cmap)"><rect x="506.00" y="496.00" width="155.70" height="35.90" fill="rgb(3,3,3)"/>
<polyline points="585.00,532.00 588.00,526.00 592.00,523.00 597.00,520.00 602.00,516.00 607.00,511.00 611.50,506.00" fill="none" stroke="#fff" stroke-opacity="0.350" stroke-width="11.00" stroke-linejoin="round" stroke-linecap="round" filter="url(#b2_60)"/>
<polyline points="585.00,532.00 588.00,526.00 592.00,523.00 597.00,520.00 602.00,516.00 607.00,511.00 611.50,506.00" fill="none" stroke="#fff" stroke-opacity="0.900" stroke-width="5.50" stroke-linejoin="round" stroke-linecap="round" filter="url(#b1_20)"/>
<polyline points="585.00,532.00 588.00,526.00 592.00,523.00 597.00,520.00 602.00,516.00 607.00,511.00 611.50,506.00" fill="none" stroke="#fff" stroke-opacity="1.000" stroke-width="2.80" stroke-linejoin="round" stroke-linecap="round" filter="url(#b0_60)"/>
<ellipse cx="612.00" cy="504.00" rx="4.00" ry="4.00" fill="#fff" fill-opacity="0.500" filter="url(#b1_80)"/>
<ellipse cx="608.00" cy="508.00" rx="9.00" ry="8.00" fill="#fff" fill-opacity="0.200" filter="url(#b2_50)"/>
<ellipse cx="625.00" cy="498.00" rx="5.00" ry="4.00" fill="#fff" fill-opacity="0.250" filter="url(#b2_20)"/>
</g></g>
<g clip-path="url(#c15)"><g filter="url(#cmap)"><rect x="506.00" y="531.40" width="155.70" height="27.40" fill="rgb(3,3,3)"/>
<rect x="508.00" y="538.00" width="46.00" height="19.50" fill="url(#fe3a)" />
<rect x="638.00" y="538.00" width="21.70" height="19.50" fill="url(#fe3b)" />
<polyline points="552.00,552.50 560.00,551.50 567.00,549.50 573.00,547.00 578.00,543.50 582.00,539.00 584.50,534.00 586.00,529.00" fill="none" stroke="#fff" stroke-opacity="0.380" stroke-width="12.00" stroke-linejoin="round" stroke-linecap="round" filter="url(#b2_60)"/>
<polyline points="552.00,552.50 560.00,551.50 567.00,549.50 573.00,547.00 578.00,543.50 582.00,539.00 584.50,534.00 586.00,529.00" fill="none" stroke="#fff" stroke-opacity="0.950" stroke-width="6.00" stroke-linejoin="round" stroke-linecap="round" filter="url(#b1_30)"/>
<polyline points="552.00,552.50 560.00,551.50 567.00,549.50 573.00,547.00 578.00,543.50" fill="none" stroke="#fff" stroke-opacity="1.000" stroke-width="4.00" stroke-linejoin="round" stroke-linecap="round" filter="url(#b0_80)"/>
<ellipse cx="563.00" cy="550.00" rx="8.00" ry="4.00" fill="#fff" fill-opacity="0.900" filter="url(#b1_20)"/>
<ellipse cx="625.00" cy="549.00" rx="14.00" ry="8.00" fill="#fff" fill-opacity="0.280" filter="url(#b3_00)"/>
<ellipse cx="632.00" cy="553.00" rx="6.00" ry="4.00" fill="#fff" fill-opacity="0.500" filter="url(#b2_00)"/>
<ellipse cx="598.00" cy="545.00" rx="8.00" ry="6.00" fill="#fff" fill-opacity="0.120" filter="url(#b3_00)"/>
</g></g>
<rect x="553.5" y="466.8" width="85.5" height="27.9" fill="#d3d3d3" opacity="0.53"/>
<rect x="553.5" y="498.0" width="85.5" height="31.9" fill="#d3d3d3" opacity="0.53"/>
<rect x="553.5" y="533.4" width="85.5" height="23.4" fill="#d3d3d3" opacity="0.53"/>
<rect x="508.0" y="461.9" width="151.7" height="4.9" fill="#02cdd2"/>
<text x="540.60" y="454.90" font-size="11.6" fill="#333333" text-anchor="start" textLength="85.69999999999993" lengthAdjust="spacingAndGlyphs" >Super-diffusive</text>
<text x="502.70" y="466.50" font-size="10.3" fill="#333333" text-anchor="end" textLength="17.0" lengthAdjust="spacingAndGlyphs" >300</text>
<text x="502.70" y="497.90" font-size="10.3" fill="#333333" text-anchor="end" textLength="17.0" lengthAdjust="spacingAndGlyphs" >200</text>
<text x="502.70" y="529.50" font-size="10.3" fill="#333333" text-anchor="end" textLength="17.0" lengthAdjust="spacingAndGlyphs" >100</text>
<text x="502.70" y="560.60" font-size="10.3" fill="#333333" text-anchor="end" textLength="5.2" lengthAdjust="spacingAndGlyphs" >0</text>
<text x="475.50" y="513.10" font-size="11.6" fill="#333333" text-anchor="middle" textLength="74" lengthAdjust="spacingAndGlyphs" transform="rotate(-90 475.50 513.10)" >Position (cm)</text>
<rect x="508.0" y="571.2" width="39.3" height="3.0" fill="#111"/>
<text x="527.20" y="585.60" font-size="10.2" fill="#333333" text-anchor="middle" textLength="33.5" lengthAdjust="spacingAndGlyphs" >100 ms</text></svg>
</body></html>
